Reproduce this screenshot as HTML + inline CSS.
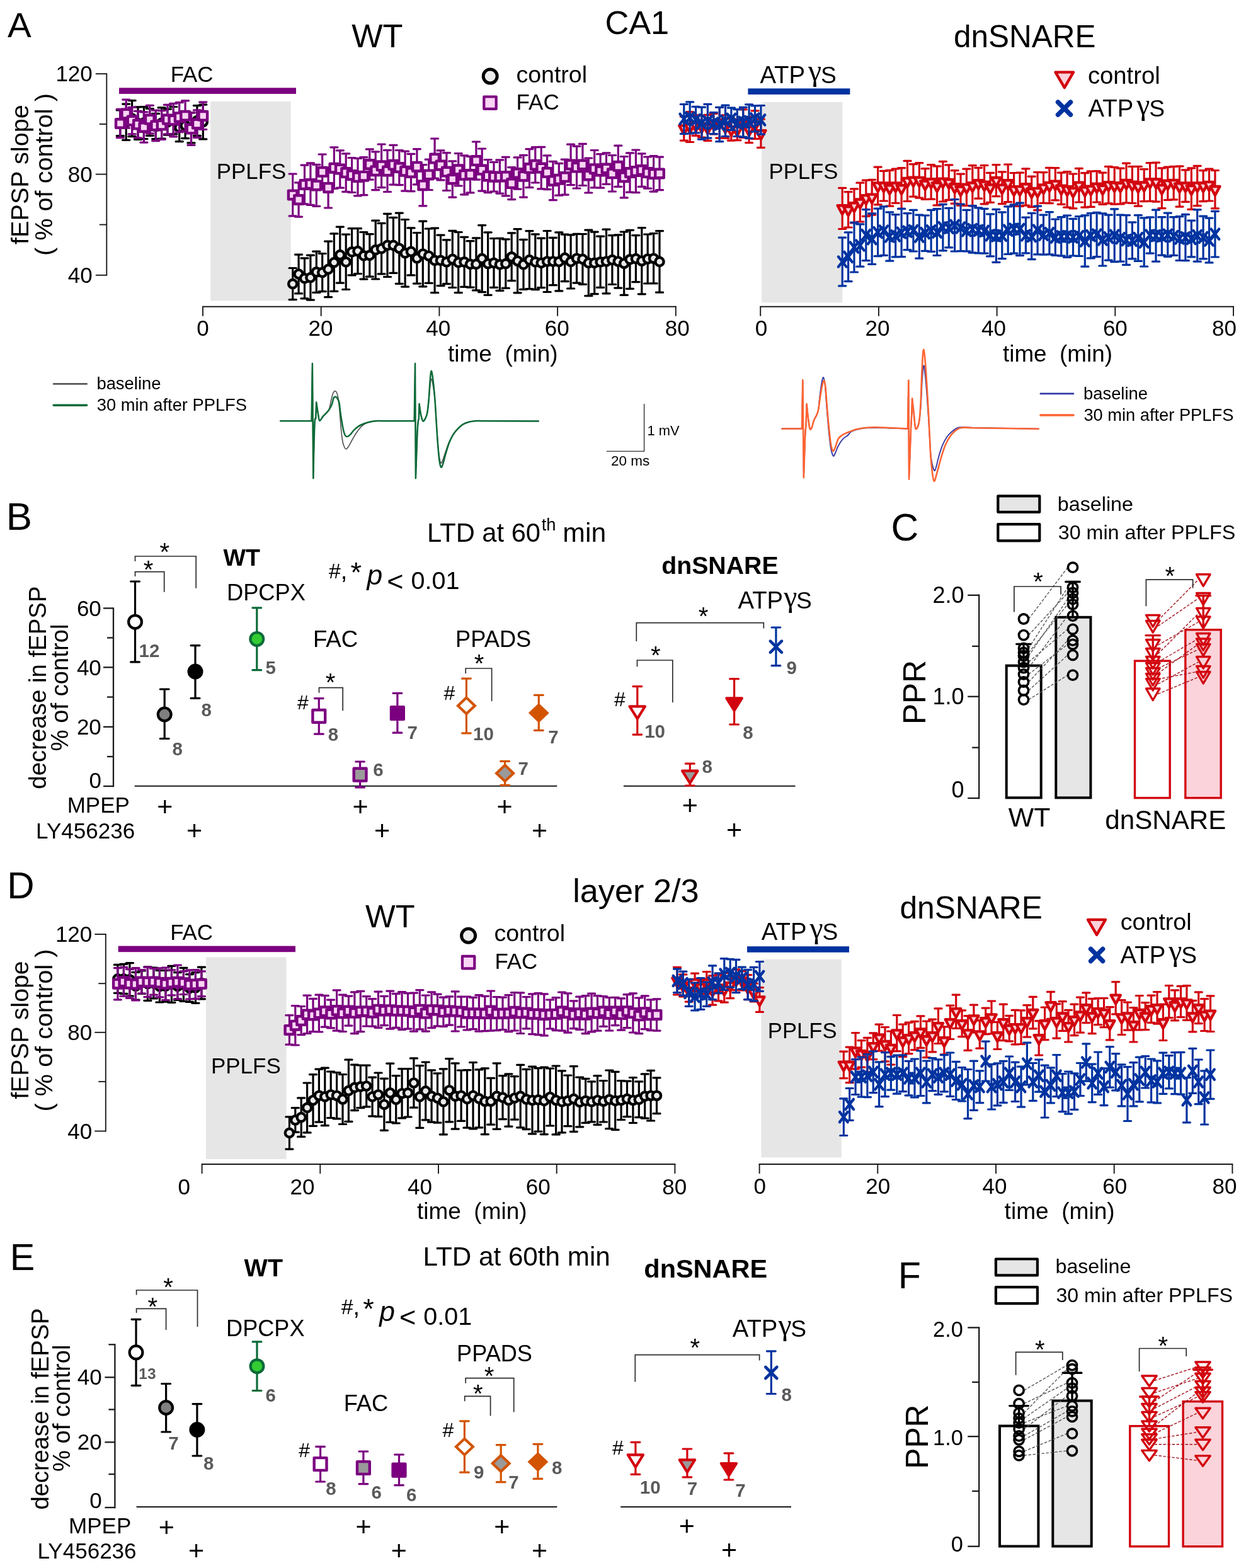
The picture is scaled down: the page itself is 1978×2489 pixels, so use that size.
<!DOCTYPE html>
<html lang="en">
<head>
<meta charset="utf-8">
<title>PPLFS-induced LTD in CA1 and layer 2/3</title>
<style>
html,body{margin:0;padding:0;background:#fff;}
body{width:1978px;height:2489px;overflow:hidden;font-family:"Liberation Sans",sans-serif;}
svg{display:block;}
</style>
</head>
<body>
<svg width="1978" height="2489" viewBox="0 0 1978 2489" font-family='"Liberation Sans", sans-serif'>
<rect width="1978" height="2489" fill="#fff"/>
<rect x="334.2" y="161.0" width="127.6" height="316.5" fill="#e6e6e6" stroke="none" stroke-width="0" />
<rect x="189.0" y="139.4" width="281.0" height="9.6" fill="#7b0080" stroke="none" stroke-width="0" />
<line x1="169.3" y1="116.2" x2="169.3" y2="437.8" stroke="#1a1a1a" stroke-width="1.9" stroke-linecap="butt" />
<line x1="151.8" y1="117.2" x2="169.3" y2="117.2" stroke="#1a1a1a" stroke-width="1.9" stroke-linecap="butt" />
<line x1="157.8" y1="197.0" x2="169.3" y2="197.0" stroke="#1a1a1a" stroke-width="1.9" stroke-linecap="butt" />
<line x1="151.8" y1="276.6" x2="169.3" y2="276.6" stroke="#1a1a1a" stroke-width="1.9" stroke-linecap="butt" />
<line x1="157.8" y1="356.6" x2="169.3" y2="356.6" stroke="#1a1a1a" stroke-width="1.9" stroke-linecap="butt" />
<line x1="151.8" y1="436.8" x2="169.3" y2="436.8" stroke="#1a1a1a" stroke-width="1.9" stroke-linecap="butt" />
<line x1="321.1" y1="486.8" x2="1073.8" y2="486.8" stroke="#1a1a1a" stroke-width="1.9" stroke-linecap="butt" />
<line x1="322.0" y1="486.8" x2="322.0" y2="501.8" stroke="#1a1a1a" stroke-width="1.9" stroke-linecap="butt" />
<line x1="509.7" y1="486.8" x2="509.7" y2="501.8" stroke="#1a1a1a" stroke-width="1.9" stroke-linecap="butt" />
<line x1="697.4" y1="486.8" x2="697.4" y2="501.8" stroke="#1a1a1a" stroke-width="1.9" stroke-linecap="butt" />
<line x1="885.1" y1="486.8" x2="885.1" y2="501.8" stroke="#1a1a1a" stroke-width="1.9" stroke-linecap="butt" />
<line x1="1072.8" y1="486.8" x2="1072.8" y2="501.8" stroke="#1a1a1a" stroke-width="1.9" stroke-linecap="butt" />
<path d="M190.8,175.0V215.7M185.2,175.0h11.2M185.2,215.7h11.2M200.2,165.1V222.4M194.6,165.1h11.2M194.6,222.4h11.2M209.6,159.6V216.6M204.0,159.6h11.2M204.0,216.6h11.2M219.0,169.8V221.3M213.4,169.8h11.2M213.4,221.3h11.2M228.4,169.6V220.5M222.8,169.6h11.2M222.8,220.5h11.2M237.8,172.5V215.3M232.2,172.5h11.2M232.2,215.3h11.2M247.2,180.4V220.6M241.6,180.4h11.2M241.6,220.6h11.2M256.6,170.8V220.1M251.0,170.8h11.2M251.0,220.1h11.2M265.9,173.1V214.2M260.3,173.1h11.2M260.3,214.2h11.2M275.3,169.5V212.9M269.7,169.5h11.2M269.7,212.9h11.2M284.7,180.4V224.7M279.1,180.4h11.2M279.1,224.7h11.2M294.1,179.1V219.6M288.5,179.1h11.2M288.5,219.6h11.2M303.5,178.8V226.9M297.9,178.8h11.2M297.9,226.9h11.2M312.9,167.6V215.4M307.3,167.6h11.2M307.3,215.4h11.2M322.3,166.1V220.9M316.7,166.1h11.2M316.7,220.9h11.2" stroke="#000" stroke-width="3.2" stroke-linecap="round" fill="none"/>
<g fill="#e9eaec" stroke="#000" stroke-width="4.4" stroke-linejoin="round" stroke-linecap="round"><circle cx="190.8" cy="195.4" r="6.6"/><circle cx="200.2" cy="193.8" r="6.6"/><circle cx="209.6" cy="188.1" r="6.6"/><circle cx="219.0" cy="195.6" r="6.6"/><circle cx="228.4" cy="195.0" r="6.6"/><circle cx="237.8" cy="193.9" r="6.6"/><circle cx="247.2" cy="200.5" r="6.6"/><circle cx="256.6" cy="195.4" r="6.6"/><circle cx="265.9" cy="193.7" r="6.6"/><circle cx="275.3" cy="191.2" r="6.6"/><circle cx="284.7" cy="202.5" r="6.6"/><circle cx="294.1" cy="199.3" r="6.6"/><circle cx="303.5" cy="202.9" r="6.6"/><circle cx="312.9" cy="191.5" r="6.6"/><circle cx="322.3" cy="193.5" r="6.6"/></g>
<path d="M464.7,425.5V475.7M459.1,425.5h11.2M459.1,475.7h11.2M474.1,404.1V465.9M468.5,404.1h11.2M468.5,465.9h11.2M483.5,409.8V473.8M477.9,409.8h11.2M477.9,473.8h11.2M492.9,405.1V476.1M487.3,405.1h11.2M487.3,476.1h11.2M502.3,399.2V464.4M496.7,399.2h11.2M496.7,464.4h11.2M511.7,402.5V462.7M506.1,402.5h11.2M506.1,462.7h11.2M521.1,383.1V471.7M515.5,383.1h11.2M515.5,471.7h11.2M530.4,370.9V462.3M524.8,370.9h11.2M524.8,462.3h11.2M539.8,360.1V449.1M534.2,360.1h11.2M534.2,449.1h11.2M549.2,372.1V459.5M543.6,372.1h11.2M543.6,459.5h11.2M558.6,362.7V436.9M553.0,362.7h11.2M553.0,436.9h11.2M568.0,362.7V434.5M562.4,362.7h11.2M562.4,434.5h11.2M577.4,368.5V443.1M571.8,368.5h11.2M571.8,443.1h11.2M586.8,371.6V439.2M581.2,371.6h11.2M581.2,439.2h11.2M596.2,350.2V443.0M590.6,350.2h11.2M590.6,443.0h11.2M605.6,354.4V434.8M600.0,354.4h11.2M600.0,434.8h11.2M615.0,339.3V439.5M609.4,339.3h11.2M609.4,439.5h11.2M624.4,345.4V433.4M618.8,345.4h11.2M618.8,433.4h11.2M633.8,338.1V450.3M628.2,338.1h11.2M628.2,450.3h11.2M643.1,348.5V455.1M637.5,348.5h11.2M637.5,455.1h11.2M652.5,361.9V436.9M646.9,361.9h11.2M646.9,436.9h11.2M661.9,369.5V450.1M656.3,369.5h11.2M656.3,450.1h11.2M671.3,351.2V454.8M665.7,351.2h11.2M665.7,454.8h11.2M680.7,363.0V449.4M675.1,363.0h11.2M675.1,449.4h11.2M690.1,362.1V464.7M684.5,362.1h11.2M684.5,464.7h11.2M699.5,373.2V453.6M693.9,373.2h11.2M693.9,453.6h11.2M708.9,380.9V450.7M703.3,380.9h11.2M703.3,450.7h11.2M718.3,366.3V456.5M712.7,366.3h11.2M712.7,456.5h11.2M727.7,368.5V464.7M722.1,368.5h11.2M722.1,464.7h11.2M737.1,376.3V455.3M731.5,376.3h11.2M731.5,455.3h11.2M746.5,382.7V456.1M740.9,382.7h11.2M740.9,456.1h11.2M755.9,377.9V460.9M750.3,377.9h11.2M750.3,460.9h11.2M765.2,357.6V463.6M759.6,357.6h11.2M759.6,463.6h11.2M774.6,368.9V468.3M769.0,368.9h11.2M769.0,468.3h11.2M784.0,378.5V456.3M778.4,378.5h11.2M778.4,456.3h11.2M793.4,378.3V461.3M787.8,378.3h11.2M787.8,461.3h11.2M802.8,379.8V457.4M797.2,379.8h11.2M797.2,457.4h11.2M812.2,369.9V445.7M806.6,369.9h11.2M806.6,445.7h11.2M821.6,363.6V464.8M816.0,363.6h11.2M816.0,464.8h11.2M831.0,380.3V459.3M825.4,380.3h11.2M825.4,459.3h11.2M840.4,366.6V458.6M834.8,366.6h11.2M834.8,458.6h11.2M849.8,371.9V459.7M844.2,371.9h11.2M844.2,459.7h11.2M859.2,378.2V456.6M853.6,378.2h11.2M853.6,456.6h11.2M868.6,366.5V463.5M863.0,366.5h11.2M863.0,463.5h11.2M877.9,377.3V452.7M872.3,377.3h11.2M872.3,452.7h11.2M887.3,368.9V461.9M881.7,368.9h11.2M881.7,461.9h11.2M896.7,372.1V446.7M891.1,372.1h11.2M891.1,446.7h11.2M906.1,372.8V458.0M900.5,372.8h11.2M900.5,458.0h11.2M915.5,371.3V449.1M909.9,371.3h11.2M909.9,449.1h11.2M924.9,371.5V451.3M919.3,371.5h11.2M919.3,451.3h11.2M934.3,365.1V469.7M928.7,365.1h11.2M928.7,469.7h11.2M943.7,368.1V466.7M938.1,368.1h11.2M938.1,466.7h11.2M953.1,375.2V456.4M947.5,375.2h11.2M947.5,456.4h11.2M962.5,364.2V465.8M956.9,364.2h11.2M956.9,465.8h11.2M971.9,373.7V451.5M966.3,373.7h11.2M966.3,451.5h11.2M981.3,372.9V457.1M975.7,372.9h11.2M975.7,457.1h11.2M990.7,368.0V468.4M985.1,368.0h11.2M985.1,468.4h11.2M1000.0,365.3V458.3M994.4,365.3h11.2M994.4,458.3h11.2M1009.4,373.6V447.6M1003.8,373.6h11.2M1003.8,447.6h11.2M1018.8,361.6V466.8M1013.2,361.6h11.2M1013.2,466.8h11.2M1028.2,372.0V450.0M1022.6,372.0h11.2M1022.6,450.0h11.2M1037.6,370.5V449.9M1032.0,370.5h11.2M1032.0,449.9h11.2M1047.0,366.6V464.2M1041.4,366.6h11.2M1041.4,464.2h11.2" stroke="#000" stroke-width="3.2" stroke-linecap="round" fill="none"/>
<g fill="#e9eaec" stroke="#000" stroke-width="4.4" stroke-linejoin="round" stroke-linecap="round"><circle cx="464.7" cy="450.6" r="6.6"/><circle cx="474.1" cy="435.0" r="6.6"/><circle cx="483.5" cy="441.8" r="6.6"/><circle cx="492.9" cy="440.6" r="6.6"/><circle cx="502.3" cy="431.8" r="6.6"/><circle cx="511.7" cy="432.6" r="6.6"/><circle cx="521.1" cy="427.4" r="6.6"/><circle cx="530.4" cy="416.6" r="6.6"/><circle cx="539.8" cy="404.6" r="6.6"/><circle cx="549.2" cy="415.8" r="6.6"/><circle cx="558.6" cy="399.8" r="6.6"/><circle cx="568.0" cy="398.6" r="6.6"/><circle cx="577.4" cy="405.8" r="6.6"/><circle cx="586.8" cy="405.4" r="6.6"/><circle cx="596.2" cy="396.6" r="6.6"/><circle cx="605.6" cy="394.6" r="6.6"/><circle cx="615.0" cy="389.4" r="6.6"/><circle cx="624.4" cy="389.4" r="6.6"/><circle cx="633.8" cy="394.2" r="6.6"/><circle cx="643.1" cy="401.8" r="6.6"/><circle cx="652.5" cy="399.4" r="6.6"/><circle cx="661.9" cy="409.8" r="6.6"/><circle cx="671.3" cy="403.0" r="6.6"/><circle cx="680.7" cy="406.2" r="6.6"/><circle cx="690.1" cy="413.4" r="6.6"/><circle cx="699.5" cy="413.4" r="6.6"/><circle cx="708.9" cy="415.8" r="6.6"/><circle cx="718.3" cy="411.4" r="6.6"/><circle cx="727.7" cy="416.6" r="6.6"/><circle cx="737.1" cy="415.8" r="6.6"/><circle cx="746.5" cy="419.4" r="6.6"/><circle cx="755.9" cy="419.4" r="6.6"/><circle cx="765.2" cy="410.6" r="6.6"/><circle cx="774.6" cy="418.6" r="6.6"/><circle cx="784.0" cy="417.4" r="6.6"/><circle cx="793.4" cy="419.8" r="6.6"/><circle cx="802.8" cy="418.6" r="6.6"/><circle cx="812.2" cy="407.8" r="6.6"/><circle cx="821.6" cy="414.2" r="6.6"/><circle cx="831.0" cy="419.8" r="6.6"/><circle cx="840.4" cy="412.6" r="6.6"/><circle cx="849.8" cy="415.8" r="6.6"/><circle cx="859.2" cy="417.4" r="6.6"/><circle cx="868.6" cy="415.0" r="6.6"/><circle cx="877.9" cy="415.0" r="6.6"/><circle cx="887.3" cy="415.4" r="6.6"/><circle cx="896.7" cy="409.4" r="6.6"/><circle cx="906.1" cy="415.4" r="6.6"/><circle cx="915.5" cy="410.2" r="6.6"/><circle cx="924.9" cy="411.4" r="6.6"/><circle cx="934.3" cy="417.4" r="6.6"/><circle cx="943.7" cy="417.4" r="6.6"/><circle cx="953.1" cy="415.8" r="6.6"/><circle cx="962.5" cy="415.0" r="6.6"/><circle cx="971.9" cy="412.6" r="6.6"/><circle cx="981.3" cy="415.0" r="6.6"/><circle cx="990.7" cy="418.2" r="6.6"/><circle cx="1000.0" cy="411.8" r="6.6"/><circle cx="1009.4" cy="410.6" r="6.6"/><circle cx="1018.8" cy="414.2" r="6.6"/><circle cx="1028.2" cy="411.0" r="6.6"/><circle cx="1037.6" cy="410.2" r="6.6"/><circle cx="1047.0" cy="415.4" r="6.6"/></g>
<path d="M190.8,173.4V218.6M185.2,173.4h11.2M185.2,218.6h11.2M200.2,158.1V203.1M194.6,158.1h11.2M194.6,203.1h11.2M209.6,170.4V212.8M204.0,170.4h11.2M204.0,212.8h11.2M219.0,176.3V218.9M213.4,176.3h11.2M213.4,218.9h11.2M228.4,177.9V226.1M222.8,177.9h11.2M222.8,226.1h11.2M237.8,167.4V211.8M232.2,167.4h11.2M232.2,211.8h11.2M247.2,175.2V223.6M241.6,175.2h11.2M241.6,223.6h11.2M256.6,175.7V221.5M251.0,175.7h11.2M251.0,221.5h11.2M265.9,166.3V212.9M260.3,166.3h11.2M260.3,212.9h11.2M275.3,164.4V216.8M269.7,164.4h11.2M269.7,216.8h11.2M284.7,162.7V209.7M279.1,162.7h11.2M279.1,209.7h11.2M294.1,159.8V207.8M288.5,159.8h11.2M288.5,207.8h11.2M303.5,178.9V230.3M297.9,178.9h11.2M297.9,230.3h11.2M312.9,174.8V218.4M307.3,174.8h11.2M307.3,218.4h11.2M322.3,162.1V205.5M316.7,162.1h11.2M316.7,205.5h11.2" stroke="#7b0080" stroke-width="3.2" stroke-linecap="round" fill="none"/>
<g fill="#fad4f4" stroke="#7b0080" stroke-width="4.4" stroke-linejoin="round" stroke-linecap="round"><rect x="184.0" y="189.2" width="13.6" height="13.6"/><rect x="193.4" y="173.8" width="13.6" height="13.6"/><rect x="202.8" y="184.8" width="13.6" height="13.6"/><rect x="212.2" y="190.8" width="13.6" height="13.6"/><rect x="221.6" y="195.2" width="13.6" height="13.6"/><rect x="231.0" y="182.8" width="13.6" height="13.6"/><rect x="240.4" y="192.6" width="13.6" height="13.6"/><rect x="249.8" y="191.8" width="13.6" height="13.6"/><rect x="259.1" y="182.8" width="13.6" height="13.6"/><rect x="268.5" y="183.8" width="13.6" height="13.6"/><rect x="277.9" y="179.4" width="13.6" height="13.6"/><rect x="287.3" y="177.0" width="13.6" height="13.6"/><rect x="296.7" y="197.8" width="13.6" height="13.6"/><rect x="306.1" y="189.8" width="13.6" height="13.6"/><rect x="315.5" y="177.0" width="13.6" height="13.6"/></g>
<path d="M464.7,276.0V342.9M459.1,276.0h11.2M459.1,342.9h11.2M474.1,289.9V344.1M468.5,289.9h11.2M468.5,344.1h11.2M483.5,262.1V323.9M477.9,262.1h11.2M477.9,323.9h11.2M492.9,258.8V325.3M487.3,258.8h11.2M487.3,325.3h11.2M502.3,261.4V327.3M496.7,261.4h11.2M496.7,327.3h11.2M511.7,245.0V300.7M506.1,245.0h11.2M506.1,300.7h11.2M521.1,265.9V330.0M515.5,265.9h11.2M515.5,330.0h11.2M530.4,233.8V299.5M524.8,233.8h11.2M524.8,299.5h11.2M539.8,238.9V298.2M534.2,238.9h11.2M534.2,298.2h11.2M549.2,243.9V304.3M543.6,243.9h11.2M543.6,304.3h11.2M558.6,250.5V305.5M553.0,250.5h11.2M553.0,305.5h11.2M568.0,251.3V310.8M562.4,251.3h11.2M562.4,310.8h11.2M577.4,249.7V309.7M571.8,249.7h11.2M571.8,309.7h11.2M586.8,236.9V285.1M581.2,236.9h11.2M581.2,285.1h11.2M596.2,240.8V301.6M590.6,240.8h11.2M590.6,301.6h11.2M605.6,229.0V297.6M600.0,229.0h11.2M600.0,297.6h11.2M615.0,238.4V304.5M609.4,238.4h11.2M609.4,304.5h11.2M624.4,230.4V293.1M618.8,230.4h11.2M618.8,293.1h11.2M633.8,238.5V293.6M628.2,238.5h11.2M628.2,293.6h11.2M643.1,240.2V303.1M637.5,240.2h11.2M637.5,303.1h11.2M652.5,244.3V303.7M646.9,244.3h11.2M646.9,303.7h11.2M661.9,236.6V292.9M656.3,236.6h11.2M656.3,292.9h11.2M671.3,261.6V326.8M665.7,261.6h11.2M665.7,326.8h11.2M680.7,253.2V301.5M675.1,253.2h11.2M675.1,301.5h11.2M690.1,220.0V283.2M684.5,220.0h11.2M684.5,283.2h11.2M699.5,238.9V285.9M693.9,238.9h11.2M693.9,285.9h11.2M708.9,242.7V302.5M703.3,242.7h11.2M703.3,302.5h11.2M718.3,255.9V313.1M712.7,255.9h11.2M712.7,313.1h11.2M727.7,243.5V295.0M722.1,243.5h11.2M722.1,295.0h11.2M737.1,246.8V308.8M731.5,246.8h11.2M731.5,308.8h11.2M746.5,248.3V305.9M740.9,248.3h11.2M740.9,305.9h11.2M755.9,225.0V285.1M750.3,225.0h11.2M750.3,285.1h11.2M765.2,236.0V303.1M759.6,236.0h11.2M759.6,303.1h11.2M774.6,253.5V305.6M769.0,253.5h11.2M769.0,305.6h11.2M784.0,257.4V304.0M778.4,257.4h11.2M778.4,304.0h11.2M793.4,253.9V307.1M787.8,253.9h11.2M787.8,307.1h11.2M802.8,249.3V310.9M797.2,249.3h11.2M797.2,310.9h11.2M812.2,265.6V316.6M806.6,265.6h11.2M806.6,316.6h11.2M821.6,249.9V300.1M816.0,249.9h11.2M816.0,300.1h11.2M831.0,246.4V313.1M825.4,246.4h11.2M825.4,313.1h11.2M840.4,236.6V297.7M834.8,236.6h11.2M834.8,297.7h11.2M849.8,233.7V290.0M844.2,233.7h11.2M844.2,290.0h11.2M859.2,233.4V299.8M853.6,233.4h11.2M853.6,299.8h11.2M868.6,246.9V300.6M863.0,246.9h11.2M863.0,300.6h11.2M877.9,256.3V317.6M872.3,256.3h11.2M872.3,317.6h11.2M887.3,259.4V310.2M881.7,259.4h11.2M881.7,310.2h11.2M896.7,253.1V309.1M891.1,253.1h11.2M891.1,309.1h11.2M906.1,229.2V293.6M900.5,229.2h11.2M900.5,293.6h11.2M915.5,232.1V299.0M909.9,232.1h11.2M909.9,299.0h11.2M924.9,228.4V294.5M919.3,228.4h11.2M919.3,294.5h11.2M934.3,251.0V306.0M928.7,251.0h11.2M928.7,306.0h11.2M943.7,238.5V297.9M938.1,238.5h11.2M938.1,297.9h11.2M953.1,244.7V298.2M947.5,244.7h11.2M947.5,298.2h11.2M962.5,242.8V292.3M956.9,242.8h11.2M956.9,292.3h11.2M971.9,246.5V304.0M966.3,246.5h11.2M966.3,304.0h11.2M981.3,231.2V296.4M975.7,231.2h11.2M975.7,296.4h11.2M990.7,248.5V313.9M985.1,248.5h11.2M985.1,313.9h11.2M1000.0,242.9V305.2M994.4,242.9h11.2M994.4,305.2h11.2M1009.4,238.0V305.7M1003.8,238.0h11.2M1003.8,305.7h11.2M1018.8,243.8V296.4M1013.2,243.8h11.2M1013.2,296.4h11.2M1028.2,249.0V299.2M1022.6,249.0h11.2M1022.6,299.2h11.2M1037.6,247.6V304.1M1032.0,247.6h11.2M1032.0,304.1h11.2M1047.0,249.2V301.7M1041.4,249.2h11.2M1041.4,301.7h11.2" stroke="#7b0080" stroke-width="3.2" stroke-linecap="round" fill="none"/>
<g fill="#fad4f4" stroke="#7b0080" stroke-width="4.4" stroke-linejoin="round" stroke-linecap="round"><rect x="457.9" y="302.6" width="13.6" height="13.6"/><rect x="467.3" y="310.2" width="13.6" height="13.6"/><rect x="476.7" y="286.2" width="13.6" height="13.6"/><rect x="486.1" y="285.3" width="13.6" height="13.6"/><rect x="495.5" y="287.6" width="13.6" height="13.6"/><rect x="504.9" y="266.0" width="13.6" height="13.6"/><rect x="514.3" y="291.1" width="13.6" height="13.6"/><rect x="523.6" y="259.9" width="13.6" height="13.6"/><rect x="533.0" y="261.7" width="13.6" height="13.6"/><rect x="542.4" y="267.3" width="13.6" height="13.6"/><rect x="551.8" y="271.2" width="13.6" height="13.6"/><rect x="561.2" y="274.3" width="13.6" height="13.6"/><rect x="570.6" y="272.9" width="13.6" height="13.6"/><rect x="580.0" y="254.2" width="13.6" height="13.6"/><rect x="589.4" y="264.4" width="13.6" height="13.6"/><rect x="598.8" y="256.5" width="13.6" height="13.6"/><rect x="608.2" y="264.6" width="13.6" height="13.6"/><rect x="617.6" y="255.0" width="13.6" height="13.6"/><rect x="627.0" y="259.2" width="13.6" height="13.6"/><rect x="636.3" y="264.9" width="13.6" height="13.6"/><rect x="645.7" y="267.2" width="13.6" height="13.6"/><rect x="655.1" y="257.9" width="13.6" height="13.6"/><rect x="664.5" y="287.4" width="13.6" height="13.6"/><rect x="673.9" y="270.6" width="13.6" height="13.6"/><rect x="683.3" y="244.8" width="13.6" height="13.6"/><rect x="692.7" y="255.6" width="13.6" height="13.6"/><rect x="702.1" y="265.8" width="13.6" height="13.6"/><rect x="711.5" y="277.7" width="13.6" height="13.6"/><rect x="720.9" y="262.5" width="13.6" height="13.6"/><rect x="730.3" y="271.0" width="13.6" height="13.6"/><rect x="739.7" y="270.3" width="13.6" height="13.6"/><rect x="749.1" y="248.3" width="13.6" height="13.6"/><rect x="758.4" y="262.8" width="13.6" height="13.6"/><rect x="767.8" y="272.7" width="13.6" height="13.6"/><rect x="777.2" y="273.9" width="13.6" height="13.6"/><rect x="786.6" y="273.7" width="13.6" height="13.6"/><rect x="796.0" y="273.3" width="13.6" height="13.6"/><rect x="805.4" y="284.3" width="13.6" height="13.6"/><rect x="814.8" y="268.2" width="13.6" height="13.6"/><rect x="824.2" y="272.9" width="13.6" height="13.6"/><rect x="833.6" y="260.3" width="13.6" height="13.6"/><rect x="843.0" y="255.0" width="13.6" height="13.6"/><rect x="852.4" y="259.8" width="13.6" height="13.6"/><rect x="861.8" y="267.0" width="13.6" height="13.6"/><rect x="871.1" y="280.1" width="13.6" height="13.6"/><rect x="880.5" y="278.0" width="13.6" height="13.6"/><rect x="889.9" y="274.3" width="13.6" height="13.6"/><rect x="899.3" y="254.6" width="13.6" height="13.6"/><rect x="908.7" y="258.8" width="13.6" height="13.6"/><rect x="918.1" y="254.7" width="13.6" height="13.6"/><rect x="927.5" y="271.7" width="13.6" height="13.6"/><rect x="936.9" y="261.4" width="13.6" height="13.6"/><rect x="946.3" y="264.6" width="13.6" height="13.6"/><rect x="955.7" y="260.7" width="13.6" height="13.6"/><rect x="965.1" y="268.5" width="13.6" height="13.6"/><rect x="974.5" y="257.0" width="13.6" height="13.6"/><rect x="983.9" y="274.4" width="13.6" height="13.6"/><rect x="993.2" y="267.3" width="13.6" height="13.6"/><rect x="1002.6" y="265.1" width="13.6" height="13.6"/><rect x="1012.0" y="263.3" width="13.6" height="13.6"/><rect x="1021.4" y="267.3" width="13.6" height="13.6"/><rect x="1030.8" y="269.1" width="13.6" height="13.6"/><rect x="1040.2" y="268.6" width="13.6" height="13.6"/></g>
<rect x="1209.3" y="162.0" width="128.1" height="318.4" fill="#e6e6e6" stroke="none" stroke-width="0" />
<rect x="1187.4" y="140.4" width="162.0" height="9.6" fill="#0033a0" stroke="none" stroke-width="0" />
<line x1="1206.2" y1="486.8" x2="1959.0" y2="486.8" stroke="#1a1a1a" stroke-width="1.9" stroke-linecap="butt" />
<line x1="1207.2" y1="486.8" x2="1207.2" y2="501.8" stroke="#1a1a1a" stroke-width="1.9" stroke-linecap="butt" />
<line x1="1394.9" y1="486.8" x2="1394.9" y2="501.8" stroke="#1a1a1a" stroke-width="1.9" stroke-linecap="butt" />
<line x1="1582.6" y1="486.8" x2="1582.6" y2="501.8" stroke="#1a1a1a" stroke-width="1.9" stroke-linecap="butt" />
<line x1="1770.3" y1="486.8" x2="1770.3" y2="501.8" stroke="#1a1a1a" stroke-width="1.9" stroke-linecap="butt" />
<line x1="1958.0" y1="486.8" x2="1958.0" y2="501.8" stroke="#1a1a1a" stroke-width="1.9" stroke-linecap="butt" />
<path d="M1085.8,184.9V223.1M1080.2,184.9h11.2M1080.2,223.1h11.2M1095.2,177.7V225.5M1089.6,177.7h11.2M1089.6,225.5h11.2M1104.6,182.9V215.3M1099.0,182.9h11.2M1099.0,215.3h11.2M1114.0,183.3V218.0M1108.4,183.3h11.2M1108.4,218.0h11.2M1123.4,182.3V223.4M1117.8,182.3h11.2M1117.8,223.4h11.2M1132.8,180.3V212.8M1127.2,180.3h11.2M1127.2,212.8h11.2M1142.2,170.5V219.1M1136.6,170.5h11.2M1136.6,219.1h11.2M1151.5,182.8V219.5M1145.9,182.8h11.2M1145.9,219.5h11.2M1160.9,188.3V223.1M1155.3,188.3h11.2M1155.3,223.1h11.2M1170.3,189.8V222.7M1164.7,189.8h11.2M1164.7,222.7h11.2M1179.7,173.8V218.4M1174.1,173.8h11.2M1174.1,218.4h11.2M1189.1,185.6V226.6M1183.5,185.6h11.2M1183.5,226.6h11.2M1198.5,175.8V220.4M1192.9,175.8h11.2M1192.9,220.4h11.2M1207.9,189.2V234.3M1202.3,189.2h11.2M1202.3,234.3h11.2" stroke="#d2050f" stroke-width="3.2" stroke-linecap="round" fill="none"/>
<g fill="#fbd3da" stroke="#d2050f" stroke-width="4.4" stroke-linejoin="round" stroke-linecap="round"><path d="M1078.2,199.4h15.2l-7.6,13.9z"/><path d="M1087.6,197.0h15.2l-7.6,13.9z"/><path d="M1097.0,194.5h15.2l-7.6,13.9z"/><path d="M1106.4,196.1h15.2l-7.6,13.9z"/><path d="M1115.8,198.2h15.2l-7.6,13.9z"/><path d="M1125.2,191.9h15.2l-7.6,13.9z"/><path d="M1134.6,190.2h15.2l-7.6,13.9z"/><path d="M1143.9,196.6h15.2l-7.6,13.9z"/><path d="M1153.3,201.1h15.2l-7.6,13.9z"/><path d="M1162.7,201.6h15.2l-7.6,13.9z"/><path d="M1172.1,191.5h15.2l-7.6,13.9z"/><path d="M1181.5,201.5h15.2l-7.6,13.9z"/><path d="M1190.9,193.5h15.2l-7.6,13.9z"/><path d="M1200.3,207.2h15.2l-7.6,13.9z"/></g>
<path d="M1337.2,298.4V363.5M1331.6,298.4h11.2M1331.6,363.5h11.2M1346.6,304.6V361.0M1341.0,304.6h11.2M1341.0,361.0h11.2M1356.0,299.9V354.0M1350.4,299.9h11.2M1350.4,354.0h11.2M1365.4,290.2V352.0M1359.8,290.2h11.2M1359.8,352.0h11.2M1374.8,286.1V343.3M1369.2,286.1h11.2M1369.2,343.3h11.2M1384.2,285.3V341.1M1378.6,285.3h11.2M1378.6,341.1h11.2M1393.6,265.1V324.8M1388.0,265.1h11.2M1388.0,324.8h11.2M1402.9,271.3V319.0M1397.3,271.3h11.2M1397.3,319.0h11.2M1412.3,270.4V327.2M1406.7,270.4h11.2M1406.7,327.2h11.2M1421.7,268.0V322.3M1416.1,268.0h11.2M1416.1,322.3h11.2M1431.1,266.6V331.3M1425.5,266.6h11.2M1425.5,331.3h11.2M1440.5,255.4V319.5M1434.9,255.4h11.2M1434.9,319.5h11.2M1449.9,260.7V312.2M1444.3,260.7h11.2M1444.3,312.2h11.2M1459.3,258.7V314.2M1453.7,258.7h11.2M1453.7,314.2h11.2M1468.7,267.7V316.5M1463.1,267.7h11.2M1463.1,316.5h11.2M1478.1,261.5V316.2M1472.5,261.5h11.2M1472.5,316.2h11.2M1487.5,263.9V325.9M1481.9,263.9h11.2M1481.9,325.9h11.2M1496.9,256.3V320.0M1491.3,256.3h11.2M1491.3,320.0h11.2M1506.3,261.9V317.4M1500.7,261.9h11.2M1500.7,317.4h11.2M1515.6,270.7V323.2M1510.0,270.7h11.2M1510.0,323.2h11.2M1525.0,276.1V326.2M1519.4,276.1h11.2M1519.4,326.2h11.2M1534.4,268.2V326.5M1528.8,268.2h11.2M1528.8,326.5h11.2M1543.8,262.7V326.8M1538.2,262.7h11.2M1538.2,326.8h11.2M1553.2,266.3V315.2M1547.6,266.3h11.2M1547.6,315.2h11.2M1562.6,262.5V323.8M1557.0,262.5h11.2M1557.0,323.8h11.2M1572.0,274.4V321.3M1566.4,274.4h11.2M1566.4,321.3h11.2M1581.4,261.6V311.7M1575.8,261.6h11.2M1575.8,311.7h11.2M1590.8,272.8V323.6M1585.2,272.8h11.2M1585.2,323.6h11.2M1600.2,261.0V320.6M1594.6,261.0h11.2M1594.6,320.6h11.2M1609.6,274.5V327.1M1604.0,274.5h11.2M1604.0,327.1h11.2M1619.0,274.1V327.3M1613.4,274.1h11.2M1613.4,327.3h11.2M1628.4,267.8V326.1M1622.8,267.8h11.2M1622.8,326.1h11.2M1637.7,280.2V328.6M1632.1,280.2h11.2M1632.1,328.6h11.2M1647.1,273.3V333.7M1641.5,273.3h11.2M1641.5,333.7h11.2M1656.5,273.6V322.4M1650.9,273.6h11.2M1650.9,322.4h11.2M1665.9,266.4V322.6M1660.3,266.4h11.2M1660.3,322.6h11.2M1675.3,266.6V317.9M1669.7,266.6h11.2M1669.7,317.9h11.2M1684.7,274.1V324.3M1679.1,274.1h11.2M1679.1,324.3h11.2M1694.1,272.6V329.2M1688.5,272.6h11.2M1688.5,329.2h11.2M1703.5,276.0V330.8M1697.9,276.0h11.2M1697.9,330.8h11.2M1712.9,267.4V321.0M1707.3,267.4h11.2M1707.3,321.0h11.2M1722.3,274.7V329.1M1716.7,274.7h11.2M1716.7,329.1h11.2M1731.7,271.9V328.4M1726.1,271.9h11.2M1726.1,328.4h11.2M1741.1,271.5V321.0M1735.5,271.5h11.2M1735.5,321.0h11.2M1750.4,274.1V324.4M1744.8,274.1h11.2M1744.8,324.4h11.2M1759.8,264.4V322.9M1754.2,264.4h11.2M1754.2,322.9h11.2M1769.2,265.5V324.2M1763.6,265.5h11.2M1763.6,324.2h11.2M1778.6,267.2V323.8M1773.0,267.2h11.2M1773.0,323.8h11.2M1788.0,259.2V322.0M1782.4,259.2h11.2M1782.4,322.0h11.2M1797.4,264.4V322.5M1791.8,264.4h11.2M1791.8,322.5h11.2M1806.8,264.4V327.2M1801.2,264.4h11.2M1801.2,327.2h11.2M1816.2,268.7V319.6M1810.6,268.7h11.2M1810.6,319.6h11.2M1825.6,258.7V319.3M1820.0,258.7h11.2M1820.0,319.3h11.2M1835.0,258.1V320.1M1829.4,258.1h11.2M1829.4,320.1h11.2M1844.4,266.9V330.6M1838.8,266.9h11.2M1838.8,330.6h11.2M1853.8,265.1V317.5M1848.2,265.1h11.2M1848.2,317.5h11.2M1863.2,264.4V316.8M1857.6,264.4h11.2M1857.6,316.8h11.2M1872.5,263.9V328.1M1866.9,263.9h11.2M1866.9,328.1h11.2M1881.9,269.8V320.4M1876.3,269.8h11.2M1876.3,320.4h11.2M1891.3,266.8V332.4M1885.7,266.8h11.2M1885.7,332.4h11.2M1900.7,263.3V326.7M1895.1,263.3h11.2M1895.1,326.7h11.2M1910.1,270.6V319.6M1904.5,270.6h11.2M1904.5,319.6h11.2M1919.5,268.0V319.0M1913.9,268.0h11.2M1913.9,319.0h11.2M1928.9,270.5V330.8M1923.3,270.5h11.2M1923.3,330.8h11.2" stroke="#d2050f" stroke-width="3.2" stroke-linecap="round" fill="none"/>
<g fill="#fbd3da" stroke="#d2050f" stroke-width="4.4" stroke-linejoin="round" stroke-linecap="round"><path d="M1329.6,326.3h15.2l-7.6,13.9z"/><path d="M1339.0,328.2h15.2l-7.6,13.9z"/><path d="M1348.4,322.3h15.2l-7.6,13.9z"/><path d="M1357.8,316.5h15.2l-7.6,13.9z"/><path d="M1367.2,310.1h15.2l-7.6,13.9z"/><path d="M1376.6,308.6h15.2l-7.6,13.9z"/><path d="M1386.0,290.4h15.2l-7.6,13.9z"/><path d="M1395.3,290.5h15.2l-7.6,13.9z"/><path d="M1404.7,294.2h15.2l-7.6,13.9z"/><path d="M1414.1,290.5h15.2l-7.6,13.9z"/><path d="M1423.5,294.3h15.2l-7.6,13.9z"/><path d="M1432.9,282.9h15.2l-7.6,13.9z"/><path d="M1442.3,281.8h15.2l-7.6,13.9z"/><path d="M1451.7,281.9h15.2l-7.6,13.9z"/><path d="M1461.1,287.5h15.2l-7.6,13.9z"/><path d="M1470.5,284.3h15.2l-7.6,13.9z"/><path d="M1479.9,290.3h15.2l-7.6,13.9z"/><path d="M1489.3,283.6h15.2l-7.6,13.9z"/><path d="M1498.7,285.0h15.2l-7.6,13.9z"/><path d="M1508.0,292.3h15.2l-7.6,13.9z"/><path d="M1517.4,296.5h15.2l-7.6,13.9z"/><path d="M1526.8,292.8h15.2l-7.6,13.9z"/><path d="M1536.2,290.2h15.2l-7.6,13.9z"/><path d="M1545.6,286.2h15.2l-7.6,13.9z"/><path d="M1555.0,288.6h15.2l-7.6,13.9z"/><path d="M1564.4,293.2h15.2l-7.6,13.9z"/><path d="M1573.8,282.0h15.2l-7.6,13.9z"/><path d="M1583.2,293.6h15.2l-7.6,13.9z"/><path d="M1592.6,286.2h15.2l-7.6,13.9z"/><path d="M1602.0,296.2h15.2l-7.6,13.9z"/><path d="M1611.4,296.1h15.2l-7.6,13.9z"/><path d="M1620.8,292.3h15.2l-7.6,13.9z"/><path d="M1630.1,299.8h15.2l-7.6,13.9z"/><path d="M1639.5,298.9h15.2l-7.6,13.9z"/><path d="M1648.9,293.4h15.2l-7.6,13.9z"/><path d="M1658.3,289.9h15.2l-7.6,13.9z"/><path d="M1667.7,287.6h15.2l-7.6,13.9z"/><path d="M1677.1,294.6h15.2l-7.6,13.9z"/><path d="M1686.5,296.3h15.2l-7.6,13.9z"/><path d="M1695.9,298.8h15.2l-7.6,13.9z"/><path d="M1705.3,289.6h15.2l-7.6,13.9z"/><path d="M1714.7,297.3h15.2l-7.6,13.9z"/><path d="M1724.1,295.6h15.2l-7.6,13.9z"/><path d="M1733.5,291.7h15.2l-7.6,13.9z"/><path d="M1742.8,294.7h15.2l-7.6,13.9z"/><path d="M1752.2,289.1h15.2l-7.6,13.9z"/><path d="M1761.6,290.2h15.2l-7.6,13.9z"/><path d="M1771.0,290.9h15.2l-7.6,13.9z"/><path d="M1780.4,286.0h15.2l-7.6,13.9z"/><path d="M1789.8,288.8h15.2l-7.6,13.9z"/><path d="M1799.2,291.2h15.2l-7.6,13.9z"/><path d="M1808.6,289.5h15.2l-7.6,13.9z"/><path d="M1818.0,284.4h15.2l-7.6,13.9z"/><path d="M1827.4,284.5h15.2l-7.6,13.9z"/><path d="M1836.8,294.1h15.2l-7.6,13.9z"/><path d="M1846.2,286.7h15.2l-7.6,13.9z"/><path d="M1855.6,286.0h15.2l-7.6,13.9z"/><path d="M1864.9,291.4h15.2l-7.6,13.9z"/><path d="M1874.3,290.5h15.2l-7.6,13.9z"/><path d="M1883.7,295.0h15.2l-7.6,13.9z"/><path d="M1893.1,290.4h15.2l-7.6,13.9z"/><path d="M1902.5,290.5h15.2l-7.6,13.9z"/><path d="M1911.9,288.9h15.2l-7.6,13.9z"/><path d="M1921.3,296.0h15.2l-7.6,13.9z"/></g>
<path d="M1085.8,165.5V212.3M1080.2,165.5h11.2M1080.2,212.3h11.2M1095.2,161.9V212.0M1089.6,161.9h11.2M1089.6,212.0h11.2M1104.6,169.4V210.8M1099.0,169.4h11.2M1099.0,210.8h11.2M1114.0,170.2V221.2M1108.4,170.2h11.2M1108.4,221.2h11.2M1123.4,165.4V219.2M1117.8,165.4h11.2M1117.8,219.2h11.2M1132.8,178.6V212.7M1127.2,178.6h11.2M1127.2,212.7h11.2M1142.2,170.4V224.7M1136.6,170.4h11.2M1136.6,224.7h11.2M1151.5,167.2V216.5M1145.9,167.2h11.2M1145.9,216.5h11.2M1160.9,171.2V206.4M1155.3,171.2h11.2M1155.3,206.4h11.2M1170.3,173.6V216.5M1164.7,173.6h11.2M1164.7,216.5h11.2M1179.7,170.3V217.3M1174.1,170.3h11.2M1174.1,217.3h11.2M1189.1,165.8V219.7M1183.5,165.8h11.2M1183.5,219.7h11.2M1198.5,167.9V208.9M1192.9,167.9h11.2M1192.9,208.9h11.2M1207.9,167.5V213.2M1202.3,167.5h11.2M1202.3,213.2h11.2" stroke="#0033a0" stroke-width="3.2" stroke-linecap="round" fill="none"/>
<g fill="none" stroke="#0033a0" stroke-width="4.4" stroke-linejoin="round" stroke-linecap="round"><path d="M1079.5,180.9l12.6,16m0,-16l-12.6,16"/><path d="M1088.9,178.9l12.6,16m0,-16l-12.6,16"/><path d="M1098.3,182.1l12.6,16m0,-16l-12.6,16"/><path d="M1107.7,187.7l12.6,16m0,-16l-12.6,16"/><path d="M1117.1,184.3l12.6,16m0,-16l-12.6,16"/><path d="M1126.5,187.7l12.6,16m0,-16l-12.6,16"/><path d="M1135.9,189.5l12.6,16m0,-16l-12.6,16"/><path d="M1145.2,183.9l12.6,16m0,-16l-12.6,16"/><path d="M1154.6,180.8l12.6,16m0,-16l-12.6,16"/><path d="M1164.0,187.1l12.6,16m0,-16l-12.6,16"/><path d="M1173.4,185.8l12.6,16m0,-16l-12.6,16"/><path d="M1182.8,184.8l12.6,16m0,-16l-12.6,16"/><path d="M1192.2,180.4l12.6,16m0,-16l-12.6,16"/><path d="M1201.6,182.4l12.6,16m0,-16l-12.6,16"/></g>
<path d="M1337.2,377.1V453.9M1331.6,377.1h11.2M1331.6,453.9h11.2M1346.6,368.9V446.7M1341.0,368.9h11.2M1341.0,446.7h11.2M1356.0,353.2V432.0M1350.4,353.2h11.2M1350.4,432.0h11.2M1365.4,355.9V423.2M1359.8,355.9h11.2M1359.8,423.2h11.2M1374.8,332.6V413.7M1369.2,332.6h11.2M1369.2,413.7h11.2M1384.2,338.8V419.4M1378.6,338.8h11.2M1378.6,419.4h11.2M1393.6,331.2V406.7M1388.0,331.2h11.2M1388.0,406.7h11.2M1402.9,327.8V405.3M1397.3,327.8h11.2M1397.3,405.3h11.2M1412.3,336.8V414.2M1406.7,336.8h11.2M1406.7,414.2h11.2M1421.7,340.6V407.9M1416.1,340.6h11.2M1416.1,407.9h11.2M1431.1,331.3V407.6M1425.5,331.3h11.2M1425.5,407.6h11.2M1440.5,338.7V396.7M1434.9,338.7h11.2M1434.9,396.7h11.2M1449.9,333.4V399.0M1444.3,333.4h11.2M1444.3,399.0h11.2M1459.3,341.1V410.2M1453.7,341.1h11.2M1453.7,410.2h11.2M1468.7,342.0V398.3M1463.1,342.0h11.2M1463.1,398.3h11.2M1478.1,333.3V399.3M1472.5,333.3h11.2M1472.5,399.3h11.2M1487.5,331.6V405.5M1481.9,331.6h11.2M1481.9,405.5h11.2M1496.9,324.3V397.8M1491.3,324.3h11.2M1491.3,397.8h11.2M1506.3,330.4V392.9M1500.7,330.4h11.2M1500.7,392.9h11.2M1515.6,316.5V399.0M1510.0,316.5h11.2M1510.0,399.0h11.2M1525.0,324.0V398.7M1519.4,324.0h11.2M1519.4,398.7h11.2M1534.4,333.4V398.9M1528.8,333.4h11.2M1528.8,398.9h11.2M1543.8,326.7V401.2M1538.2,326.7h11.2M1538.2,401.2h11.2M1553.2,329.9V401.9M1547.6,329.9h11.2M1547.6,401.9h11.2M1562.6,331.3V402.2M1557.0,331.3h11.2M1557.0,402.2h11.2M1572.0,339.9V406.8M1566.4,339.9h11.2M1566.4,406.8h11.2M1581.4,332.4V416.4M1575.8,332.4h11.2M1575.8,416.4h11.2M1590.8,336.8V410.7M1585.2,336.8h11.2M1585.2,410.7h11.2M1600.2,327.9V403.5M1594.6,327.9h11.2M1594.6,403.5h11.2M1609.6,324.9V402.2M1604.0,324.9h11.2M1604.0,402.2h11.2M1619.0,322.2V405.6M1613.4,322.2h11.2M1613.4,405.6h11.2M1628.4,345.1V401.8M1622.8,345.1h11.2M1622.8,401.8h11.2M1637.7,338.4V411.7M1632.1,338.4h11.2M1632.1,411.7h11.2M1647.1,327.2V403.9M1641.5,327.2h11.2M1641.5,403.9h11.2M1656.5,341.1V404.2M1650.9,341.1h11.2M1650.9,404.2h11.2M1665.9,336.6V403.8M1660.3,336.6h11.2M1660.3,403.8h11.2M1675.3,348.0V405.4M1669.7,348.0h11.2M1669.7,405.4h11.2M1684.7,344.7V406.1M1679.1,344.7h11.2M1679.1,406.1h11.2M1694.1,342.0V408.5M1688.5,342.0h11.2M1688.5,408.5h11.2M1703.5,347.3V406.0M1697.9,347.3h11.2M1697.9,406.0h11.2M1712.9,343.5V406.5M1707.3,343.5h11.2M1707.3,406.5h11.2M1722.3,341.8V423.1M1716.7,341.8h11.2M1716.7,423.1h11.2M1731.7,338.5V409.9M1726.1,338.5h11.2M1726.1,409.9h11.2M1741.1,337.4V407.6M1735.5,337.4h11.2M1735.5,407.6h11.2M1750.4,338.9V422.0M1744.8,338.9h11.2M1744.8,422.0h11.2M1759.8,341.2V413.1M1754.2,341.2h11.2M1754.2,413.1h11.2M1769.2,331.8V415.7M1763.6,331.8h11.2M1763.6,415.7h11.2M1778.6,341.2V415.1M1773.0,341.2h11.2M1773.0,415.1h11.2M1788.0,341.7V420.4M1782.4,341.7h11.2M1782.4,420.4h11.2M1797.4,352.8V410.9M1791.8,352.8h11.2M1791.8,410.9h11.2M1806.8,341.7V414.4M1801.2,341.7h11.2M1801.2,414.4h11.2M1816.2,345.8V423.0M1810.6,345.8h11.2M1810.6,423.0h11.2M1825.6,344.9V402.1M1820.0,344.9h11.2M1820.0,402.1h11.2M1835.0,333.2V415.2M1829.4,333.2h11.2M1829.4,415.2h11.2M1844.4,344.7V405.2M1838.8,344.7h11.2M1838.8,405.2h11.2M1853.8,338.1V407.3M1848.2,338.1h11.2M1848.2,407.3h11.2M1863.2,344.7V405.4M1857.6,344.7h11.2M1857.6,405.4h11.2M1872.5,343.6V413.5M1866.9,343.6h11.2M1866.9,413.5h11.2M1881.9,340.4V413.6M1876.3,340.4h11.2M1876.3,413.6h11.2M1891.3,350.1V407.8M1885.7,350.1h11.2M1885.7,407.8h11.2M1900.7,332.8V415.2M1895.1,332.8h11.2M1895.1,415.2h11.2M1910.1,343.1V410.8M1904.5,343.1h11.2M1904.5,410.8h11.2M1919.5,346.1V416.9M1913.9,346.1h11.2M1913.9,416.9h11.2M1928.9,335.3V408.0M1923.3,335.3h11.2M1923.3,408.0h11.2" stroke="#0033a0" stroke-width="3.2" stroke-linecap="round" fill="none"/>
<g fill="none" stroke="#0033a0" stroke-width="4.4" stroke-linejoin="round" stroke-linecap="round"><path d="M1330.9,407.5l12.6,16m0,-16l-12.6,16"/><path d="M1340.3,399.8l12.6,16m0,-16l-12.6,16"/><path d="M1349.7,384.6l12.6,16m0,-16l-12.6,16"/><path d="M1359.1,381.5l12.6,16m0,-16l-12.6,16"/><path d="M1368.5,365.1l12.6,16m0,-16l-12.6,16"/><path d="M1377.9,371.1l12.6,16m0,-16l-12.6,16"/><path d="M1387.3,361.0l12.6,16m0,-16l-12.6,16"/><path d="M1396.6,358.5l12.6,16m0,-16l-12.6,16"/><path d="M1406.0,367.5l12.6,16m0,-16l-12.6,16"/><path d="M1415.4,366.3l12.6,16m0,-16l-12.6,16"/><path d="M1424.8,361.5l12.6,16m0,-16l-12.6,16"/><path d="M1434.2,359.7l12.6,16m0,-16l-12.6,16"/><path d="M1443.6,358.2l12.6,16m0,-16l-12.6,16"/><path d="M1453.0,367.6l12.6,16m0,-16l-12.6,16"/><path d="M1462.4,362.1l12.6,16m0,-16l-12.6,16"/><path d="M1471.8,358.3l12.6,16m0,-16l-12.6,16"/><path d="M1481.2,360.6l12.6,16m0,-16l-12.6,16"/><path d="M1490.6,353.0l12.6,16m0,-16l-12.6,16"/><path d="M1500.0,353.7l12.6,16m0,-16l-12.6,16"/><path d="M1509.3,349.8l12.6,16m0,-16l-12.6,16"/><path d="M1518.7,353.3l12.6,16m0,-16l-12.6,16"/><path d="M1528.1,358.2l12.6,16m0,-16l-12.6,16"/><path d="M1537.5,356.0l12.6,16m0,-16l-12.6,16"/><path d="M1546.9,357.9l12.6,16m0,-16l-12.6,16"/><path d="M1556.3,358.8l12.6,16m0,-16l-12.6,16"/><path d="M1565.7,365.3l12.6,16m0,-16l-12.6,16"/><path d="M1575.1,366.4l12.6,16m0,-16l-12.6,16"/><path d="M1584.5,365.8l12.6,16m0,-16l-12.6,16"/><path d="M1593.9,357.7l12.6,16m0,-16l-12.6,16"/><path d="M1603.3,355.5l12.6,16m0,-16l-12.6,16"/><path d="M1612.7,355.9l12.6,16m0,-16l-12.6,16"/><path d="M1622.1,365.5l12.6,16m0,-16l-12.6,16"/><path d="M1631.4,367.1l12.6,16m0,-16l-12.6,16"/><path d="M1640.8,357.6l12.6,16m0,-16l-12.6,16"/><path d="M1650.2,364.7l12.6,16m0,-16l-12.6,16"/><path d="M1659.6,362.2l12.6,16m0,-16l-12.6,16"/><path d="M1669.0,368.7l12.6,16m0,-16l-12.6,16"/><path d="M1678.4,367.4l12.6,16m0,-16l-12.6,16"/><path d="M1687.8,367.2l12.6,16m0,-16l-12.6,16"/><path d="M1697.2,368.6l12.6,16m0,-16l-12.6,16"/><path d="M1706.6,367.0l12.6,16m0,-16l-12.6,16"/><path d="M1716.0,374.4l12.6,16m0,-16l-12.6,16"/><path d="M1725.4,366.2l12.6,16m0,-16l-12.6,16"/><path d="M1734.8,364.5l12.6,16m0,-16l-12.6,16"/><path d="M1744.1,372.4l12.6,16m0,-16l-12.6,16"/><path d="M1753.5,369.2l12.6,16m0,-16l-12.6,16"/><path d="M1762.9,365.7l12.6,16m0,-16l-12.6,16"/><path d="M1772.3,370.1l12.6,16m0,-16l-12.6,16"/><path d="M1781.7,373.1l12.6,16m0,-16l-12.6,16"/><path d="M1791.1,373.8l12.6,16m0,-16l-12.6,16"/><path d="M1800.5,370.0l12.6,16m0,-16l-12.6,16"/><path d="M1809.9,376.4l12.6,16m0,-16l-12.6,16"/><path d="M1819.3,365.5l12.6,16m0,-16l-12.6,16"/><path d="M1828.7,366.2l12.6,16m0,-16l-12.6,16"/><path d="M1838.1,366.9l12.6,16m0,-16l-12.6,16"/><path d="M1847.5,364.7l12.6,16m0,-16l-12.6,16"/><path d="M1856.9,367.0l12.6,16m0,-16l-12.6,16"/><path d="M1866.2,370.5l12.6,16m0,-16l-12.6,16"/><path d="M1875.6,369.0l12.6,16m0,-16l-12.6,16"/><path d="M1885.0,370.9l12.6,16m0,-16l-12.6,16"/><path d="M1894.4,366.0l12.6,16m0,-16l-12.6,16"/><path d="M1903.8,368.9l12.6,16m0,-16l-12.6,16"/><path d="M1913.2,373.5l12.6,16m0,-16l-12.6,16"/><path d="M1922.6,363.7l12.6,16m0,-16l-12.6,16"/></g>
<text x="11.9" y="58.6" font-size="56.42" xml:space="preserve">A</text>
<text x="558.2" y="75.3" font-size="52.35" xml:space="preserve">WT</text>
<text x="960.4" y="54.0" font-size="52.35" xml:space="preserve">CA1</text>
<text x="1514.0" y="75.3" font-size="49.50" xml:space="preserve">dnSNARE</text>
<text x="88.4" y="129.0" font-size="35.00" xml:space="preserve">120</text>
<text x="107.8" y="288.6" font-size="35.00" xml:space="preserve">80</text>
<text x="107.8" y="448.8" font-size="35.00" xml:space="preserve">40</text>
<text x="312.2" y="532.5" font-size="35.00" xml:space="preserve">0</text>
<text x="489.6" y="532.5" font-size="35.00" xml:space="preserve">20</text>
<text x="676.2" y="532.5" font-size="35.00" xml:space="preserve">40</text>
<text x="864.7" y="532.5" font-size="35.00" xml:space="preserve">60</text>
<text x="1055.7" y="532.5" font-size="35.00" xml:space="preserve">80</text>
<text x="1198.7" y="532.5" font-size="35.00" xml:space="preserve">0</text>
<text x="1373.6" y="532.5" font-size="35.00" xml:space="preserve">20</text>
<text x="1558.0" y="532.5" font-size="35.00" xml:space="preserve">40</text>
<text x="1750.9" y="532.5" font-size="35.00" xml:space="preserve">60</text>
<text x="1924.0" y="532.5" font-size="35.00" xml:space="preserve">80</text>
<text x="711.1" y="573.8" font-size="36.96" xml:space="preserve">time  (min)</text>
<text x="1592.0" y="574.4" font-size="36.83" xml:space="preserve">time  (min)</text>
<text x="270.7" y="130.0" font-size="34.92" xml:space="preserve">FAC</text>
<text x="343.7" y="283.7" font-size="34.91" xml:space="preserve">PPLFS</text>
<text x="1220.5" y="283.7" font-size="34.71" xml:space="preserve">PPLFS</text>
<text xml:space="preserve"><tspan x="1206.4" y="131.8" font-size="38.30">ATP</tspan><tspan x="1271.1" y="128.4" font-size="47.80" font-family='"Liberation Serif", serif'> γ</tspan><tspan x="1303.0" y="131.8" font-size="37.15">S</tspan></text>
<text transform="translate(45.2,387.9) rotate(-90)" font-size="39.62" xml:space="preserve">fEPSP slope</text>
<text transform="translate(82.8,405.9) rotate(-90)" font-size="39.65" xml:space="preserve">( % of control )</text>
<circle cx="778.2" cy="121.1" r="11" fill="#ececec" stroke="#000" stroke-width="5"/>
<rect x="768.3" y="153.5" width="19.4" height="19.4" fill="#fad4f4" stroke="#7b0080" stroke-width="4.2" stroke-linejoin="round"/>
<text x="819.4" y="131.0" font-size="37.56" xml:space="preserve">control</text>
<text x="819.6" y="173.6" font-size="35.03" xml:space="preserve">FAC</text>
<polygon points="1675.5,114.6 1704.0,114.6 1689.8,139.1" fill="#fbd3da" stroke="#d2050f" stroke-width="4.4" stroke-linejoin="round"/>
<line x1="1679.5" y1="162.1" x2="1699.5" y2="182.1" stroke="#0033a0" stroke-width="7.4" stroke-linecap="round" />
<line x1="1679.5" y1="182.1" x2="1699.5" y2="162.1" stroke="#0033a0" stroke-width="7.4" stroke-linecap="round" />
<text x="1726.9" y="132.8" font-size="38.29" xml:space="preserve">control</text>
<text xml:space="preserve"><tspan x="1727.6" y="185.3" font-size="38.30">ATP</tspan><tspan x="1792.3" y="181.9" font-size="47.80" font-family='"Liberation Serif", serif'> γ</tspan><tspan x="1824.2" y="185.3" font-size="37.15">S</tspan></text>
<path d="M445.2,668.2L494.6,668.2L495.9,577.0L497.3,759.2C497.5,749.3 498.2,715.3 498.6,700.0C499.0,684.7 499.4,673.3 499.8,667.4C500.2,661.5 501.0,665.1 501.2,664.6L502.2,638.6C502.7,641.7 504.1,652.1 505.0,657.0C505.9,661.9 506.1,667.2 507.4,667.9C508.7,668.5 511.3,662.7 512.8,660.9C514.3,659.1 515.0,658.9 516.5,657.2C518.0,655.5 520.6,654.4 522.1,650.7C523.6,647.0 524.7,639.3 525.8,634.9C526.9,630.5 527.7,626.9 528.6,624.5C529.5,622.1 530.4,621.0 531.4,620.8C532.4,620.5 533.5,621.1 534.4,623.0C535.3,624.9 536.1,627.8 536.8,632.0C537.5,636.2 538.1,641.3 538.8,648.0C539.4,654.7 540.1,664.9 540.7,672.0C541.3,679.1 541.8,685.2 542.5,690.6C543.2,696.0 543.7,700.8 544.8,704.5C545.9,708.2 547.5,712.1 549.0,712.7C550.5,713.3 551.9,710.7 553.6,708.2C555.3,705.8 557.2,701.5 559.2,698.0C561.2,694.5 563.4,690.3 565.7,686.9C568.0,683.5 570.6,680.1 573.1,677.6C575.6,675.1 577.4,673.5 580.5,672.0C583.6,670.5 588.1,669.4 591.7,668.8C595.3,668.2 599.0,668.3 602.0,668.2C605.0,668.1 608.7,668.2 610.0,668.2L657.7,668.2L659.0,577.0L659.9,759.2C660.1,752.7 660.9,732.2 661.3,720.0C661.7,707.8 662.1,694.6 662.5,686.0C662.9,677.4 663.5,671.7 663.9,668.3C664.3,664.9 664.6,666.0 664.8,665.5L665.6,641.0C666.0,643.9 667.1,653.5 668.1,658.1C669.1,662.7 670.3,667.6 671.5,668.5C672.7,669.4 674.4,665.9 675.5,663.7C676.6,661.5 677.4,659.8 678.3,655.3C679.1,650.8 679.9,643.7 680.6,637.0C681.3,630.3 681.9,620.9 682.5,615.0C683.1,609.1 683.7,602.3 684.5,601.5C685.3,600.7 686.2,605.2 687.1,610.0C688.0,614.8 689.1,622.8 689.9,630.0C690.7,637.2 691.2,645.7 691.7,653.5C692.2,661.3 692.6,668.5 693.1,676.7C693.6,685.0 694.3,695.0 695.0,703.0C695.7,711.0 696.4,719.6 697.3,725.0C698.1,730.4 699.1,734.3 700.1,735.1C701.1,735.9 701.9,732.9 703.0,730.0C704.1,727.1 705.4,722.5 707.0,718.0C708.6,713.5 710.6,707.4 712.6,702.7C714.6,698.0 716.8,693.4 719.2,689.7C721.6,686.0 724.3,683.1 727.0,680.4C729.7,677.7 732.4,675.2 735.3,673.4C738.2,671.6 741.4,670.6 744.6,669.7C747.9,668.8 750.9,668.5 754.8,668.2C758.7,668.0 765.8,668.2 768.0,668.2L854.8,668.5" stroke="#585858" stroke-width="1.7" fill="none" stroke-linejoin="round" stroke-linecap="round"/>
<path d="M445.2,668.2L494.6,668.2L495.9,577.0L497.3,759.2C497.5,749.3 498.2,715.3 498.6,700.0C499.0,684.7 499.4,673.3 499.8,667.4C500.2,661.5 501.0,665.1 501.2,664.6L502.2,638.6C502.7,641.7 504.1,652.1 505.0,657.0C505.9,661.9 506.1,667.2 507.4,667.9C508.7,668.5 511.3,662.7 512.8,660.9C514.3,659.1 515.0,658.9 516.5,657.2C518.0,655.5 520.4,653.2 522.1,650.7C523.8,648.2 525.5,645.5 526.7,642.4C527.9,639.3 528.6,634.3 529.5,632.2C530.4,630.1 531.3,629.8 532.3,629.8C533.3,629.8 534.6,630.7 535.6,632.2C536.6,633.7 537.5,635.1 538.3,638.6C539.1,642.1 539.5,648.5 540.2,653.5C540.9,658.5 541.7,663.7 542.5,668.3C543.3,672.9 544.0,677.7 544.8,681.3C545.6,684.9 546.4,687.8 547.2,689.7C548.1,691.6 548.8,692.5 549.9,692.9C551.0,693.3 552.4,692.8 553.6,692.0C554.9,691.2 556.0,689.8 557.4,688.3C558.8,686.8 560.1,684.6 562.0,682.7C563.9,680.8 565.9,678.8 568.5,677.1C571.1,675.4 574.7,673.7 577.8,672.5C580.9,671.3 583.9,670.4 587.0,669.7C590.1,669.0 592.5,668.5 596.3,668.2C600.1,668.0 607.7,668.2 610.0,668.2L657.7,668.2L659.0,577.0L659.9,759.2C660.1,752.7 660.9,732.2 661.3,720.0C661.7,707.8 662.1,694.6 662.5,686.0C662.9,677.4 663.5,671.7 663.9,668.3C664.3,664.9 664.6,666.0 664.8,665.5L665.6,641.0C666.0,643.9 667.1,653.5 668.1,658.1C669.1,662.7 670.3,667.6 671.5,668.5C672.7,669.4 674.4,665.9 675.5,663.7C676.6,661.5 677.4,660.1 678.3,655.3C679.1,650.5 679.9,642.9 680.6,634.9C681.3,626.9 681.9,614.8 682.5,607.1C683.1,599.5 683.7,590.1 684.5,589.0C685.3,587.9 686.2,594.2 687.1,600.6C688.0,607.0 689.1,618.7 689.9,627.5C690.7,636.3 691.2,645.3 691.7,653.5C692.2,661.7 692.6,668.2 693.1,676.7C693.6,685.2 694.3,695.7 695.0,704.5C695.7,713.3 696.4,723.4 697.3,729.6C698.1,735.8 699.1,740.5 700.1,741.6C701.1,742.7 702.1,739.5 703.3,736.0C704.5,732.5 705.9,725.8 707.5,720.3C709.1,714.8 711.1,707.8 713.1,702.7C715.1,697.6 717.3,693.4 719.6,689.7C721.9,686.0 724.4,683.1 727.0,680.4C729.6,677.7 732.4,675.2 735.3,673.4C738.2,671.6 741.4,670.6 744.6,669.7C747.9,668.8 750.9,668.5 754.8,668.2C758.7,668.0 765.8,668.2 768.0,668.2L854.8,668.5" stroke="#0b6a37" stroke-width="2.5" fill="none" stroke-linejoin="round" stroke-linecap="round"/>
<line x1="85.2" y1="609.4" x2="137.6" y2="609.4" stroke="#585858" stroke-width="2.8" stroke-linecap="round" />
<line x1="85.2" y1="643.3" x2="137.6" y2="643.3" stroke="#0b6a37" stroke-width="3.4" stroke-linecap="round" />
<text x="153.4" y="618.2" font-size="27.42" xml:space="preserve">baseline</text>
<text x="153.8" y="652.2" font-size="27.30" xml:space="preserve">30 min after PPLFS</text>
<path d="M962.8,716.4 H1022.6 V641" stroke="#333" stroke-width="1.4" fill="none" />
<text x="1027.5" y="690.7" font-size="21.88" xml:space="preserve">1 mV</text>
<text x="969.9" y="739.1" font-size="22.51" xml:space="preserve">20 ms</text>
<path d="M1241.5,680.5L1273.0,680.5L1274.3,603.2L1275.9,758.1C1276.1,751.8 1276.8,731.1 1277.2,720.0C1277.6,708.9 1277.8,699.2 1278.2,691.3C1278.6,683.4 1279.4,675.9 1279.6,672.8L1280.6,641.2C1281.0,644.9 1282.1,656.9 1282.9,663.5C1283.8,670.1 1284.7,678.1 1285.7,680.6C1286.7,683.1 1287.9,680.4 1288.9,678.3C1289.9,676.2 1290.5,671.3 1291.7,668.1C1292.9,664.9 1295.1,661.8 1296.3,658.9C1297.5,656.0 1298.2,655.5 1299.1,650.5C1299.9,645.5 1300.5,636.1 1301.4,629.0C1302.3,621.9 1303.5,613.0 1304.4,608.0C1305.3,603.0 1306.1,598.7 1307.0,599.0C1307.9,599.3 1308.8,603.9 1309.6,610.0C1310.4,616.1 1310.9,626.5 1311.6,635.7C1312.3,644.9 1313.1,656.0 1313.9,665.0C1314.7,674.0 1315.4,682.3 1316.2,690.0C1317.0,697.7 1317.7,705.4 1318.8,711.0C1319.9,716.6 1321.5,722.6 1322.8,723.8C1324.1,725.0 1325.2,720.6 1326.5,718.0C1327.8,715.4 1328.7,711.5 1330.6,708.0C1332.5,704.5 1335.5,699.7 1338.0,696.9C1340.5,694.1 1343.3,693.2 1345.5,691.3C1347.7,689.4 1348.7,687.0 1351.0,685.5C1353.3,684.0 1355.7,683.0 1359.4,682.0C1363.1,681.0 1368.2,680.0 1373.3,679.5C1378.4,679.0 1383.9,679.0 1390.0,679.0C1396.1,679.0 1406.7,679.4 1410.0,679.5L1441.0,680.5L1442.3,603.7L1443.0,760.6C1443.3,753.8 1444.1,733.2 1444.6,720.0C1445.1,706.8 1445.6,691.6 1446.0,681.6C1446.4,671.6 1447.0,663.6 1447.2,660.0L1448.1,632.5C1448.5,636.6 1449.9,649.0 1450.8,657.0C1451.7,665.0 1452.2,678.2 1453.5,680.5C1454.8,682.8 1457.4,676.8 1458.8,670.9C1460.2,665.0 1460.8,656.3 1461.7,645.0C1462.6,633.7 1463.1,613.8 1463.9,603.0C1464.7,592.2 1465.5,581.0 1466.3,580.2C1467.1,579.4 1468.0,588.9 1469.0,598.0C1470.0,607.1 1471.2,623.7 1472.0,635.0C1472.8,646.3 1473.5,656.1 1474.1,666.0C1474.7,675.9 1475.1,684.4 1475.8,694.4C1476.5,704.4 1476.8,717.3 1478.0,726.0C1479.2,734.7 1481.6,744.4 1483.0,746.7C1484.4,749.0 1485.4,743.4 1486.5,740.0C1487.6,736.6 1488.2,731.9 1489.8,726.4C1491.4,720.9 1493.7,712.7 1496.0,707.2C1498.3,701.7 1500.9,697.0 1503.5,693.3C1506.1,689.6 1508.6,687.2 1511.5,684.8C1514.4,682.4 1517.4,679.9 1520.7,678.8C1524.0,677.7 1527.4,678.2 1531.4,678.2C1535.5,678.2 1542.7,678.9 1545.0,679.0L1648.7,680.8" stroke="#3538a6" stroke-width="1.9" fill="none" stroke-linejoin="round" stroke-linecap="round"/>
<path d="M1241.5,680.5L1273.0,680.5L1274.3,603.2L1275.9,758.1C1276.1,751.8 1276.8,731.1 1277.2,720.0C1277.6,708.9 1277.8,699.2 1278.2,691.3C1278.6,683.4 1279.4,675.9 1279.6,672.8L1280.6,641.2C1281.0,644.9 1282.1,656.9 1282.9,663.5C1283.8,670.1 1284.7,678.1 1285.7,680.6C1286.7,683.1 1287.9,680.4 1288.9,678.3C1289.9,676.2 1290.5,671.3 1291.7,668.1C1292.9,664.9 1295.1,661.8 1296.3,658.9C1297.5,656.0 1298.2,655.1 1299.1,650.5C1300.0,645.9 1300.9,637.3 1301.9,631.0C1302.9,624.7 1304.1,617.0 1305.1,612.5C1306.1,608.0 1307.1,603.7 1307.9,603.7C1308.8,603.7 1309.5,607.2 1310.2,612.5C1310.9,617.8 1311.4,627.2 1312.1,635.7C1312.8,644.2 1313.6,655.0 1314.4,663.5C1315.2,672.0 1315.9,679.8 1316.7,686.7C1317.5,693.7 1318.1,700.3 1319.0,705.2C1319.9,710.1 1321.1,715.1 1322.3,715.9C1323.5,716.7 1324.6,713.1 1326.0,709.9C1327.4,706.7 1328.9,700.0 1330.6,696.9C1332.3,693.8 1334.3,692.8 1336.2,691.3C1338.1,689.8 1339.5,689.2 1341.8,688.1C1344.1,687.0 1347.2,685.9 1350.1,684.8C1353.0,683.7 1355.5,682.6 1359.4,681.6C1363.3,680.6 1368.2,679.5 1373.3,679.0C1378.4,678.5 1383.9,678.3 1390.0,678.3C1396.1,678.3 1406.7,678.9 1410.0,679.0L1441.0,680.5L1442.3,603.7L1443.0,760.6C1443.3,753.8 1444.1,733.2 1444.6,720.0C1445.1,706.8 1445.6,691.6 1446.0,681.6C1446.4,671.6 1447.0,663.6 1447.2,660.0L1448.1,632.5C1448.5,636.6 1449.9,649.0 1450.8,657.0C1451.7,665.0 1452.2,678.2 1453.5,680.5C1454.8,682.8 1457.5,677.5 1458.8,670.9C1460.1,664.3 1460.7,654.9 1461.5,641.0C1462.3,627.1 1462.8,602.0 1463.6,587.7C1464.3,573.4 1465.1,556.9 1466.0,555.1C1466.9,553.3 1468.0,565.4 1469.0,577.0C1470.0,588.6 1471.3,610.8 1472.2,625.0C1473.1,639.2 1473.7,650.8 1474.3,662.4C1474.9,674.0 1475.3,682.8 1475.9,694.4C1476.5,706.0 1476.9,720.2 1478.0,731.7C1479.1,743.2 1480.9,760.2 1482.5,763.2C1484.1,766.2 1485.7,756.0 1487.6,749.9C1489.5,743.8 1491.9,733.5 1494.0,726.4C1496.1,719.3 1498.1,712.7 1500.4,707.2C1502.7,701.7 1505.4,697.0 1507.9,693.3C1510.4,689.6 1512.9,687.0 1515.4,684.8C1517.9,682.6 1520.1,680.9 1522.8,679.9C1525.5,678.9 1527.7,678.7 1531.4,678.6C1535.1,678.5 1542.7,679.2 1545.0,679.3L1648.7,680.8" stroke="#ff6432" stroke-width="2.6" fill="none" stroke-linejoin="round" stroke-linecap="round"/>
<line x1="1651.8" y1="624.9" x2="1704.0" y2="624.9" stroke="#3538a6" stroke-width="2.6" stroke-linecap="round" />
<line x1="1651.8" y1="659.0" x2="1704.0" y2="659.0" stroke="#ff6432" stroke-width="3.4" stroke-linecap="round" />
<text x="1720.0" y="633.8" font-size="27.39" xml:space="preserve">baseline</text>
<text x="1720.4" y="668.4" font-size="27.28" xml:space="preserve">30 min after PPLFS</text>
<line x1="180.0" y1="964.4" x2="180.0" y2="1249.2" stroke="#1a1a1a" stroke-width="2.3" stroke-linecap="butt" />
<line x1="164.0" y1="965.5" x2="180.0" y2="965.5" stroke="#1a1a1a" stroke-width="2.3" stroke-linecap="butt" />
<line x1="170.0" y1="1012.4" x2="180.0" y2="1012.4" stroke="#1a1a1a" stroke-width="2.3" stroke-linecap="butt" />
<line x1="164.0" y1="1059.3" x2="180.0" y2="1059.3" stroke="#1a1a1a" stroke-width="2.3" stroke-linecap="butt" />
<line x1="170.0" y1="1106.5" x2="180.0" y2="1106.5" stroke="#1a1a1a" stroke-width="2.3" stroke-linecap="butt" />
<line x1="164.0" y1="1153.8" x2="180.0" y2="1153.8" stroke="#1a1a1a" stroke-width="2.3" stroke-linecap="butt" />
<line x1="170.0" y1="1201.0" x2="180.0" y2="1201.0" stroke="#1a1a1a" stroke-width="2.3" stroke-linecap="butt" />
<line x1="164.0" y1="1248.0" x2="180.0" y2="1248.0" stroke="#1a1a1a" stroke-width="2.3" stroke-linecap="butt" />
<line x1="213.7" y1="1247.8" x2="884.3" y2="1247.8" stroke="#1a1a1a" stroke-width="2.0" stroke-linecap="butt" />
<line x1="989.9" y1="1247.8" x2="1262.5" y2="1247.8" stroke="#1a1a1a" stroke-width="2.0" stroke-linecap="butt" />
<text x="121.9" y="978.0" font-size="35.00" xml:space="preserve">60</text>
<text x="121.9" y="1071.8" font-size="35.00" xml:space="preserve">40</text>
<text x="121.9" y="1166.3" font-size="35.00" xml:space="preserve">20</text>
<text x="141.4" y="1251.0" font-size="35.00" xml:space="preserve">0</text>
<text transform="translate(72.8,1252.7) rotate(-90)" font-size="38.40" xml:space="preserve">decrease in fEPSP</text>
<text transform="translate(107.7,1192.2) rotate(-90)" font-size="38.18" xml:space="preserve">% of control</text>
<path d="M214.5,891.0 V883.0 H311.2 V933.8" stroke="#2b2b2b" stroke-width="1.7" fill="none" />
<path d="M214.5,914.9 V907.6 H260.7 V939.7" stroke="#2b2b2b" stroke-width="1.7" fill="none" />
<path d="M506.5,1099.8 V1091.7 H544.2 V1128.2" stroke="#2b2b2b" stroke-width="1.7" fill="none" />
<path d="M739.2,1069.0 V1061.0 H780.6 V1113.0" stroke="#2b2b2b" stroke-width="1.7" fill="none" />
<path d="M1010.3,1017.9 V988.7 H1212.3 V997.5" stroke="#2b2b2b" stroke-width="1.7" fill="none" />
<path d="M1011.5,1058.2 V1048.0 H1067.8 V1115.0" stroke="#2b2b2b" stroke-width="1.7" fill="none" />
<text x="253.4" y="890.4" font-size="40.00" xml:space="preserve">*</text>
<text x="227.7" y="917.7" font-size="40.00" xml:space="preserve">*</text>
<text x="516.8" y="1097.4" font-size="40.00" xml:space="preserve">*</text>
<text x="752.7" y="1067.4" font-size="40.00" xml:space="preserve">*</text>
<text x="1108.8" y="991.6" font-size="40.00" xml:space="preserve">*</text>
<text x="1032.9" y="1054.4" font-size="40.00" xml:space="preserve">*</text>
<text x="471.9" y="1126.0" font-size="32.00" xml:space="preserve">#</text>
<text x="704.5" y="1110.8" font-size="32.00" xml:space="preserve">#</text>
<text x="975.0" y="1121.0" font-size="32.00" xml:space="preserve">#</text>
<line x1="214.5" y1="923.0" x2="214.5" y2="1050.9" stroke="#000" stroke-width="3.2" stroke-linecap="butt" />
<line x1="207.6" y1="923.0" x2="221.4" y2="923.0" stroke="#000" stroke-width="3.2" stroke-linecap="round" />
<line x1="207.6" y1="1050.9" x2="221.4" y2="1050.9" stroke="#000" stroke-width="3.2" stroke-linecap="round" />
<circle cx="214.5" cy="987.2" r="10.4" fill="#fff" stroke="#000" stroke-width="4.2"/>
<text x="220.6" y="1042.7" font-size="29.50" fill="#5a5a5a" font-weight="bold" xml:space="preserve">12</text>
<line x1="261.2" y1="1094.0" x2="261.2" y2="1172.5" stroke="#000" stroke-width="3.2" stroke-linecap="butt" />
<line x1="254.3" y1="1094.0" x2="268.1" y2="1094.0" stroke="#000" stroke-width="3.2" stroke-linecap="round" />
<line x1="254.3" y1="1172.5" x2="268.1" y2="1172.5" stroke="#000" stroke-width="3.2" stroke-linecap="round" />
<circle cx="261.2" cy="1134.0" r="10.4" fill="#808080" stroke="#000" stroke-width="4.2"/>
<text x="273.5" y="1199.0" font-size="29.50" fill="#5a5a5a" font-weight="bold" xml:space="preserve">8</text>
<line x1="310.0" y1="1024.6" x2="310.0" y2="1108.3" stroke="#000" stroke-width="3.2" stroke-linecap="butt" />
<line x1="303.1" y1="1024.6" x2="316.9" y2="1024.6" stroke="#000" stroke-width="3.2" stroke-linecap="round" />
<line x1="303.1" y1="1108.3" x2="316.9" y2="1108.3" stroke="#000" stroke-width="3.2" stroke-linecap="round" />
<circle cx="310.0" cy="1066.0" r="10.4" fill="#000" stroke="#000" stroke-width="4.2"/>
<text x="319.6" y="1137.0" font-size="29.50" fill="#5a5a5a" font-weight="bold" xml:space="preserve">8</text>
<line x1="407.8" y1="964.8" x2="407.8" y2="1063.7" stroke="#0c6b38" stroke-width="3.2" stroke-linecap="butt" />
<line x1="400.9" y1="964.8" x2="414.7" y2="964.8" stroke="#0c6b38" stroke-width="3.2" stroke-linecap="round" />
<line x1="400.9" y1="1063.7" x2="414.7" y2="1063.7" stroke="#0c6b38" stroke-width="3.2" stroke-linecap="round" />
<circle cx="407.8" cy="1014.4" r="10.4" fill="#33cc33" stroke="#0c6b38" stroke-width="4.2"/>
<text x="421.5" y="1069.8" font-size="29.50" fill="#5a5a5a" font-weight="bold" xml:space="preserve">5</text>
<line x1="506.3" y1="1108.6" x2="506.3" y2="1165.2" stroke="#7b0080" stroke-width="3.2" stroke-linecap="butt" />
<line x1="499.4" y1="1108.6" x2="513.2" y2="1108.6" stroke="#7b0080" stroke-width="3.2" stroke-linecap="round" />
<line x1="499.4" y1="1165.2" x2="513.2" y2="1165.2" stroke="#7b0080" stroke-width="3.2" stroke-linecap="round" />
<rect x="496.4" y="1127.0" width="19.8" height="19.8" fill="#fff" stroke="#7b0080" stroke-width="4.4" stroke-linejoin="round"/>
<text x="520.8" y="1176.3" font-size="29.50" fill="#5a5a5a" font-weight="bold" xml:space="preserve">8</text>
<line x1="571.6" y1="1209.0" x2="571.6" y2="1249.9" stroke="#7b0080" stroke-width="3.2" stroke-linecap="butt" />
<line x1="564.7" y1="1209.0" x2="578.5" y2="1209.0" stroke="#7b0080" stroke-width="3.2" stroke-linecap="round" />
<line x1="564.7" y1="1249.9" x2="578.5" y2="1249.9" stroke="#7b0080" stroke-width="3.2" stroke-linecap="round" />
<rect x="561.7" y="1219.8" width="19.8" height="19.8" fill="#9a9a9a" stroke="#7b0080" stroke-width="4.4" stroke-linejoin="round"/>
<text x="592.3" y="1231.8" font-size="29.50" fill="#5a5a5a" font-weight="bold" xml:space="preserve">6</text>
<line x1="630.9" y1="1100.4" x2="630.9" y2="1163.2" stroke="#7b0080" stroke-width="3.2" stroke-linecap="butt" />
<line x1="624.0" y1="1100.4" x2="637.8" y2="1100.4" stroke="#7b0080" stroke-width="3.2" stroke-linecap="round" />
<line x1="624.0" y1="1163.2" x2="637.8" y2="1163.2" stroke="#7b0080" stroke-width="3.2" stroke-linecap="round" />
<rect x="621.0" y="1122.1" width="19.8" height="19.8" fill="#7b0080" stroke="#7b0080" stroke-width="4.4" stroke-linejoin="round"/>
<text x="646.6" y="1172.8" font-size="29.50" fill="#5a5a5a" font-weight="bold" xml:space="preserve">7</text>
<line x1="740.4" y1="1077.1" x2="740.4" y2="1163.8" stroke="#d35400" stroke-width="3.2" stroke-linecap="butt" />
<line x1="733.5" y1="1077.1" x2="747.3" y2="1077.1" stroke="#d35400" stroke-width="3.2" stroke-linecap="round" />
<line x1="733.5" y1="1163.8" x2="747.3" y2="1163.8" stroke="#d35400" stroke-width="3.2" stroke-linecap="round" />
<polygon points="740.4,1107.5 753.8,1120.3 740.4,1133.1 727.0,1120.3" fill="#fff" stroke="#d35400" stroke-width="4.2" stroke-linejoin="miter"/>
<text x="751.1" y="1174.9" font-size="29.50" fill="#5a5a5a" font-weight="bold" xml:space="preserve">10</text>
<line x1="801.6" y1="1208.4" x2="801.6" y2="1246.4" stroke="#d35400" stroke-width="3.2" stroke-linecap="butt" />
<line x1="794.7" y1="1208.4" x2="808.5" y2="1208.4" stroke="#d35400" stroke-width="3.2" stroke-linecap="round" />
<line x1="794.7" y1="1246.4" x2="808.5" y2="1246.4" stroke="#d35400" stroke-width="3.2" stroke-linecap="round" />
<polygon points="801.6,1214.6 815.0,1227.4 801.6,1240.2 788.2,1227.4" fill="#9a9a9a" stroke="#d35400" stroke-width="4.2" stroke-linejoin="miter"/>
<text x="822.6" y="1229.7" font-size="29.50" fill="#5a5a5a" font-weight="bold" xml:space="preserve">7</text>
<line x1="855.3" y1="1103.4" x2="855.3" y2="1159.4" stroke="#d35400" stroke-width="3.2" stroke-linecap="butt" />
<line x1="848.4" y1="1103.4" x2="862.2" y2="1103.4" stroke="#d35400" stroke-width="3.2" stroke-linecap="round" />
<line x1="848.4" y1="1159.4" x2="862.2" y2="1159.4" stroke="#d35400" stroke-width="3.2" stroke-linecap="round" />
<polygon points="855.3,1118.9 868.7,1131.7 855.3,1144.5 841.9,1131.7" fill="#d35400" stroke="#d35400" stroke-width="4.2" stroke-linejoin="miter"/>
<text x="870.2" y="1179.8" font-size="29.50" fill="#5a5a5a" font-weight="bold" xml:space="preserve">7</text>
<line x1="1011.8" y1="1089.6" x2="1011.8" y2="1166.1" stroke="#d2050f" stroke-width="3.2" stroke-linecap="butt" />
<line x1="1004.9" y1="1089.6" x2="1018.7" y2="1089.6" stroke="#d2050f" stroke-width="3.2" stroke-linecap="round" />
<line x1="1004.9" y1="1166.1" x2="1018.7" y2="1166.1" stroke="#d2050f" stroke-width="3.2" stroke-linecap="round" />
<polygon points="999.6,1121.4 1023.9,1121.4 1011.8,1140.9" fill="#fff" stroke="#d2050f" stroke-width="4.2" stroke-linejoin="round"/>
<text x="1023.2" y="1170.5" font-size="29.50" fill="#5a5a5a" font-weight="bold" xml:space="preserve">10</text>
<line x1="1095.3" y1="1212.2" x2="1095.3" y2="1247.0" stroke="#d2050f" stroke-width="3.2" stroke-linecap="butt" />
<line x1="1088.4" y1="1212.2" x2="1102.2" y2="1212.2" stroke="#d2050f" stroke-width="3.2" stroke-linecap="round" />
<line x1="1088.4" y1="1247.0" x2="1102.2" y2="1247.0" stroke="#d2050f" stroke-width="3.2" stroke-linecap="round" />
<polygon points="1083.1,1223.6 1107.5,1223.6 1095.3,1243.1" fill="#9a9a9a" stroke="#d2050f" stroke-width="4.2" stroke-linejoin="round"/>
<text x="1114.5" y="1227.4" font-size="29.50" fill="#5a5a5a" font-weight="bold" xml:space="preserve">8</text>
<line x1="1165.6" y1="1077.7" x2="1165.6" y2="1150.0" stroke="#d2050f" stroke-width="3.2" stroke-linecap="butt" />
<line x1="1158.7" y1="1077.7" x2="1172.5" y2="1077.7" stroke="#d2050f" stroke-width="3.2" stroke-linecap="round" />
<line x1="1158.7" y1="1150.0" x2="1172.5" y2="1150.0" stroke="#d2050f" stroke-width="3.2" stroke-linecap="round" />
<polygon points="1153.4,1108.3 1177.8,1108.3 1165.6,1127.8" fill="#d2050f" stroke="#d2050f" stroke-width="4.2" stroke-linejoin="round"/>
<text x="1179.3" y="1172.8" font-size="29.50" fill="#5a5a5a" font-weight="bold" xml:space="preserve">8</text>
<line x1="1231.9" y1="996.0" x2="1231.9" y2="1056.7" stroke="#0033a0" stroke-width="3.2" stroke-linecap="butt" />
<line x1="1225.0" y1="996.0" x2="1238.8" y2="996.0" stroke="#0033a0" stroke-width="3.2" stroke-linecap="round" />
<line x1="1225.0" y1="1056.7" x2="1238.8" y2="1056.7" stroke="#0033a0" stroke-width="3.2" stroke-linecap="round" />
<line x1="1222.9" y1="1017.6" x2="1240.9" y2="1035.6" stroke="#0033a0" stroke-width="4.6" stroke-linecap="round" />
<line x1="1222.9" y1="1035.6" x2="1240.9" y2="1017.6" stroke="#0033a0" stroke-width="4.6" stroke-linecap="round" />
<text x="1248.5" y="1069.8" font-size="29.50" fill="#5a5a5a" font-weight="bold" xml:space="preserve">9</text>
<text x="9.7" y="840.7" font-size="61.85" xml:space="preserve">B</text>
<text x="354.6" y="898.2" font-size="37.58" font-weight="bold" xml:space="preserve">WT</text>
<text x="359.9" y="953.0" font-size="36.35" xml:space="preserve">DPCPX</text>
<text x="496.9" y="1026.6" font-size="36.67" xml:space="preserve">FAC</text>
<text x="723.1" y="1026.6" font-size="36.26" xml:space="preserve">PPADS</text>
<text x="1050.2" y="910.8" font-size="39.27" font-weight="bold" xml:space="preserve">dnSNARE</text>
<text xml:space="preserve"><tspan x="1171.5" y="966.0" font-size="38.30">ATP</tspan><tspan x="1244.2" y="962.6" font-size="47.80" font-family='"Liberation Serif", serif'>γ</tspan><tspan x="1264.1" y="966.0" font-size="37.15">S</tspan></text>
<text xml:space="preserve"><tspan x="678.1" y="860.4" font-size="41.68">LTD at 60</tspan><tspan x="859.7" y="841.7" font-size="27.35">th</tspan><tspan x="881.5" y="860.4" font-size="42.74"> min</tspan></text>
<text xml:space="preserve"><tspan x="521.5" y="917.6" font-size="34.00" font-style="italic">#</tspan><tspan x="540.8" y="918.5" font-size="38.00">,</tspan><tspan x="556.5" y="924.4" font-size="45.00">*</tspan><tspan x="582.5" y="928.3" font-size="44.50" font-style="italic">p</tspan><tspan x="601.7" y="937.5" font-size="45.00"> &lt;</tspan><tspan x="641.5" y="934.8" font-size="39.50"> 0.01</tspan></text>
<text x="106.7" y="1290.0" font-size="35.02" xml:space="preserve">MPEP</text>
<text x="57.0" y="1331.0" font-size="35.06" xml:space="preserve">LY456236</text>
<text x="249.3" y="1295.1" font-size="43.00" xml:space="preserve">+</text>
<text x="559.4" y="1294.6" font-size="43.00" xml:space="preserve">+</text>
<text x="788.5" y="1294.6" font-size="43.00" xml:space="preserve">+</text>
<text x="1082.8" y="1293.1" font-size="43.00" xml:space="preserve">+</text>
<text x="296.0" y="1333.4" font-size="43.00" xml:space="preserve">+</text>
<text x="593.9" y="1332.8" font-size="43.00" xml:space="preserve">+</text>
<text x="844.0" y="1332.8" font-size="43.00" xml:space="preserve">+</text>
<text x="1153.1" y="1331.9" font-size="43.00" xml:space="preserve">+</text>
<rect x="1597.7" y="1056.6" width="55.0" height="209.7" fill="#fff" stroke="#000" stroke-width="4" />
<rect x="1676.3" y="979.8" width="55.1" height="286.5" fill="#e6e6e6" stroke="#000" stroke-width="4" />
<rect x="1801.5" y="1049.1" width="55.7" height="217.5" fill="#fff" stroke="#d2050f" stroke-width="3.4" />
<rect x="1881.8" y="999.7" width="56.4" height="266.9" fill="#fbd3da" stroke="#d2050f" stroke-width="3.4" />
<line x1="1554.2" y1="943.6" x2="1554.2" y2="1268.2" stroke="#1a1a1a" stroke-width="2.3" stroke-linecap="butt" />
<line x1="1536.2" y1="944.8" x2="1554.2" y2="944.8" stroke="#1a1a1a" stroke-width="2.3" stroke-linecap="butt" />
<line x1="1543.2" y1="1025.8" x2="1554.2" y2="1025.8" stroke="#1a1a1a" stroke-width="2.3" stroke-linecap="butt" />
<line x1="1536.2" y1="1105.7" x2="1554.2" y2="1105.7" stroke="#1a1a1a" stroke-width="2.3" stroke-linecap="butt" />
<line x1="1543.2" y1="1186.7" x2="1554.2" y2="1186.7" stroke="#1a1a1a" stroke-width="2.3" stroke-linecap="butt" />
<line x1="1536.2" y1="1267.0" x2="1554.2" y2="1267.0" stroke="#1a1a1a" stroke-width="2.3" stroke-linecap="butt" />
<line x1="1625.0" y1="1022.4" x2="1625.0" y2="1057.0" stroke="#000" stroke-width="3.4" stroke-linecap="butt" />
<line x1="1613.8" y1="1022.4" x2="1636.2" y2="1022.4" stroke="#000" stroke-width="3.4" stroke-linecap="round" />
<line x1="1703.0" y1="923.5" x2="1703.0" y2="980.0" stroke="#000" stroke-width="3.4" stroke-linecap="butt" />
<line x1="1691.8" y1="923.5" x2="1714.2" y2="923.5" stroke="#000" stroke-width="3.4" stroke-linecap="round" />
<line x1="1830.2" y1="1008.6" x2="1830.2" y2="1050.0" stroke="#d2050f" stroke-width="3.4" stroke-linecap="butt" />
<line x1="1819.0" y1="1008.6" x2="1841.4" y2="1008.6" stroke="#d2050f" stroke-width="3.4" stroke-linecap="round" />
<line x1="1910.2" y1="945.5" x2="1910.2" y2="1000.0" stroke="#d2050f" stroke-width="3.4" stroke-linecap="butt" />
<line x1="1899.0" y1="945.5" x2="1921.4" y2="945.5" stroke="#d2050f" stroke-width="3.4" stroke-linecap="round" />
<line x1="1633.0" y1="982.5" x2="1695.0" y2="900.7" stroke="#555" stroke-width="1.4" stroke-dasharray="4.5 2.5"/>
<line x1="1633.0" y1="1008.1" x2="1695.0" y2="941.0" stroke="#555" stroke-width="1.4" stroke-dasharray="4.5 2.5"/>
<line x1="1633.0" y1="1028.9" x2="1695.0" y2="932.5" stroke="#555" stroke-width="1.4" stroke-dasharray="4.5 2.5"/>
<line x1="1633.0" y1="1036.0" x2="1695.0" y2="959.3" stroke="#555" stroke-width="1.4" stroke-dasharray="4.5 2.5"/>
<line x1="1633.0" y1="1041.0" x2="1695.0" y2="950.8" stroke="#555" stroke-width="1.4" stroke-dasharray="4.5 2.5"/>
<line x1="1633.0" y1="1050.8" x2="1695.0" y2="998.8" stroke="#555" stroke-width="1.4" stroke-dasharray="4.5 2.5"/>
<line x1="1633.0" y1="1060.0" x2="1695.0" y2="977.6" stroke="#555" stroke-width="1.4" stroke-dasharray="4.5 2.5"/>
<line x1="1633.0" y1="1070.3" x2="1695.0" y2="1022.8" stroke="#555" stroke-width="1.4" stroke-dasharray="4.5 2.5"/>
<line x1="1633.0" y1="1082.5" x2="1695.0" y2="1016.6" stroke="#555" stroke-width="1.4" stroke-dasharray="4.5 2.5"/>
<line x1="1633.0" y1="1096.0" x2="1695.0" y2="1039.8" stroke="#555" stroke-width="1.4" stroke-dasharray="4.5 2.5"/>
<line x1="1633.0" y1="1110.6" x2="1695.0" y2="1071.6" stroke="#555" stroke-width="1.4" stroke-dasharray="4.5 2.5"/>
<line x1="1838.2" y1="985.0" x2="1902.2" y2="920.3" stroke="#a3121c" stroke-width="1.4" stroke-dasharray="4.5 2.5"/>
<line x1="1838.2" y1="994.0" x2="1902.2" y2="950.0" stroke="#a3121c" stroke-width="1.4" stroke-dasharray="4.5 2.5"/>
<line x1="1838.2" y1="1024.0" x2="1902.2" y2="987.5" stroke="#a3121c" stroke-width="1.4" stroke-dasharray="4.5 2.5"/>
<line x1="1838.2" y1="1038.0" x2="1902.2" y2="974.0" stroke="#a3121c" stroke-width="1.4" stroke-dasharray="4.5 2.5"/>
<line x1="1838.2" y1="1051.0" x2="1902.2" y2="1014.0" stroke="#a3121c" stroke-width="1.4" stroke-dasharray="4.5 2.5"/>
<line x1="1838.2" y1="1061.0" x2="1902.2" y2="1031.0" stroke="#a3121c" stroke-width="1.4" stroke-dasharray="4.5 2.5"/>
<line x1="1838.2" y1="1069.0" x2="1902.2" y2="1022.5" stroke="#a3121c" stroke-width="1.4" stroke-dasharray="4.5 2.5"/>
<line x1="1838.2" y1="1078.0" x2="1902.2" y2="1066.0" stroke="#a3121c" stroke-width="1.4" stroke-dasharray="4.5 2.5"/>
<line x1="1838.2" y1="1086.0" x2="1902.2" y2="1051.0" stroke="#a3121c" stroke-width="1.4" stroke-dasharray="4.5 2.5"/>
<line x1="1838.2" y1="1101.5" x2="1902.2" y2="1075.0" stroke="#a3121c" stroke-width="1.4" stroke-dasharray="4.5 2.5"/>
<circle cx="1625.0" cy="982.5" r="7.6" fill="none" stroke="#000" stroke-width="3.6"/>
<circle cx="1625.0" cy="1008.1" r="7.6" fill="none" stroke="#000" stroke-width="3.6"/>
<circle cx="1625.0" cy="1028.9" r="7.6" fill="none" stroke="#000" stroke-width="3.6"/>
<circle cx="1625.0" cy="1036.0" r="7.6" fill="none" stroke="#000" stroke-width="3.6"/>
<circle cx="1625.0" cy="1041.0" r="7.6" fill="none" stroke="#000" stroke-width="3.6"/>
<circle cx="1625.0" cy="1050.8" r="7.6" fill="none" stroke="#000" stroke-width="3.6"/>
<circle cx="1625.0" cy="1060.0" r="7.6" fill="none" stroke="#000" stroke-width="3.6"/>
<circle cx="1625.0" cy="1070.3" r="7.6" fill="none" stroke="#000" stroke-width="3.6"/>
<circle cx="1625.0" cy="1082.5" r="7.6" fill="none" stroke="#000" stroke-width="3.6"/>
<circle cx="1625.0" cy="1096.0" r="7.6" fill="none" stroke="#000" stroke-width="3.6"/>
<circle cx="1625.0" cy="1110.6" r="7.6" fill="none" stroke="#000" stroke-width="3.6"/>
<circle cx="1703.0" cy="900.7" r="7.6" fill="none" stroke="#000" stroke-width="3.6"/>
<circle cx="1703.0" cy="932.5" r="7.6" fill="none" stroke="#000" stroke-width="3.6"/>
<circle cx="1703.0" cy="941.0" r="7.6" fill="none" stroke="#000" stroke-width="3.6"/>
<circle cx="1703.0" cy="950.8" r="7.6" fill="none" stroke="#000" stroke-width="3.6"/>
<circle cx="1703.0" cy="959.3" r="7.6" fill="none" stroke="#000" stroke-width="3.6"/>
<circle cx="1703.0" cy="977.6" r="7.6" fill="none" stroke="#000" stroke-width="3.6"/>
<circle cx="1703.0" cy="998.8" r="7.6" fill="none" stroke="#000" stroke-width="3.6"/>
<circle cx="1703.0" cy="1016.6" r="7.6" fill="none" stroke="#000" stroke-width="3.6"/>
<circle cx="1703.0" cy="1022.8" r="7.6" fill="none" stroke="#000" stroke-width="3.6"/>
<circle cx="1703.0" cy="1039.8" r="7.6" fill="none" stroke="#000" stroke-width="3.6"/>
<circle cx="1703.0" cy="1071.6" r="7.6" fill="none" stroke="#000" stroke-width="3.6"/>
<polygon points="1819.5,976.5 1841.0,976.5 1830.2,995.0" fill="none" stroke="#d2050f" stroke-width="3.4" stroke-linejoin="round"/>
<polygon points="1819.5,985.5 1841.0,985.5 1830.2,1004.0" fill="none" stroke="#d2050f" stroke-width="3.4" stroke-linejoin="round"/>
<polygon points="1819.5,1015.5 1841.0,1015.5 1830.2,1034.0" fill="none" stroke="#d2050f" stroke-width="3.4" stroke-linejoin="round"/>
<polygon points="1819.5,1029.5 1841.0,1029.5 1830.2,1048.0" fill="none" stroke="#d2050f" stroke-width="3.4" stroke-linejoin="round"/>
<polygon points="1819.5,1042.5 1841.0,1042.5 1830.2,1061.0" fill="none" stroke="#d2050f" stroke-width="3.4" stroke-linejoin="round"/>
<polygon points="1819.5,1052.5 1841.0,1052.5 1830.2,1071.0" fill="none" stroke="#d2050f" stroke-width="3.4" stroke-linejoin="round"/>
<polygon points="1819.5,1060.5 1841.0,1060.5 1830.2,1079.0" fill="none" stroke="#d2050f" stroke-width="3.4" stroke-linejoin="round"/>
<polygon points="1819.5,1069.5 1841.0,1069.5 1830.2,1088.0" fill="none" stroke="#d2050f" stroke-width="3.4" stroke-linejoin="round"/>
<polygon points="1819.5,1077.5 1841.0,1077.5 1830.2,1096.0" fill="none" stroke="#d2050f" stroke-width="3.4" stroke-linejoin="round"/>
<polygon points="1819.5,1093.0 1841.0,1093.0 1830.2,1111.5" fill="none" stroke="#d2050f" stroke-width="3.4" stroke-linejoin="round"/>
<polygon points="1899.5,911.8 1921.0,911.8 1910.2,930.3" fill="none" stroke="#d2050f" stroke-width="3.4" stroke-linejoin="round"/>
<polygon points="1899.5,941.5 1921.0,941.5 1910.2,960.0" fill="none" stroke="#d2050f" stroke-width="3.4" stroke-linejoin="round"/>
<polygon points="1899.5,965.5 1921.0,965.5 1910.2,984.0" fill="none" stroke="#d2050f" stroke-width="3.4" stroke-linejoin="round"/>
<polygon points="1899.5,979.0 1921.0,979.0 1910.2,997.5" fill="none" stroke="#d2050f" stroke-width="3.4" stroke-linejoin="round"/>
<polygon points="1899.5,1005.5 1921.0,1005.5 1910.2,1024.0" fill="none" stroke="#d2050f" stroke-width="3.4" stroke-linejoin="round"/>
<polygon points="1899.5,1014.0 1921.0,1014.0 1910.2,1032.5" fill="none" stroke="#d2050f" stroke-width="3.4" stroke-linejoin="round"/>
<polygon points="1899.5,1022.5 1921.0,1022.5 1910.2,1041.0" fill="none" stroke="#d2050f" stroke-width="3.4" stroke-linejoin="round"/>
<polygon points="1899.5,1042.5 1921.0,1042.5 1910.2,1061.0" fill="none" stroke="#d2050f" stroke-width="3.4" stroke-linejoin="round"/>
<polygon points="1899.5,1057.5 1921.0,1057.5 1910.2,1076.0" fill="none" stroke="#d2050f" stroke-width="3.4" stroke-linejoin="round"/>
<polygon points="1899.5,1066.5 1921.0,1066.5 1910.2,1085.0" fill="none" stroke="#d2050f" stroke-width="3.4" stroke-linejoin="round"/>
<path d="M1609.9,971.4 V931.0 H1684.1 V943.8" stroke="#2b2b2b" stroke-width="1.7" fill="none" />
<path d="M1819.4,962.3 V920.2 H1893.6 V933.6" stroke="#2b2b2b" stroke-width="1.7" fill="none" />
<text x="1640.2" y="937.2" font-size="40.00" xml:space="preserve">*</text>
<text x="1849.4" y="927.7" font-size="40.00" xml:space="preserve">*</text>
<rect x="1584.3" y="787.3" width="66.0" height="25.5" fill="#e6e6e6" stroke="#000" stroke-width="4.2" stroke-linejoin="round"/>
<rect x="1584.3" y="832.1" width="66.0" height="26.2" fill="#fff" stroke="#000" stroke-width="4.2" stroke-linejoin="round"/>
<text x="1678.8" y="810.5" font-size="32.27" xml:space="preserve">baseline</text>
<text x="1679.7" y="856.0" font-size="32.27" xml:space="preserve">30 min after PPLFS</text>
<text x="1414.5" y="857.7" font-size="60.62" xml:space="preserve">C</text>
<text x="1480.5" y="956.5" font-size="36.00" xml:space="preserve">2.0</text>
<text x="1480.5" y="1117.5" font-size="36.00" xml:space="preserve">1.0</text>
<text x="1510.5" y="1266.0" font-size="36.00" xml:space="preserve">0</text>
<text transform="translate(1468.5,1150.0) rotate(-90)" font-size="49.64" xml:space="preserve">PPR</text>
<text x="1600.8" y="1312.2" font-size="42.90" xml:space="preserve">WT</text>
<text x="1754.3" y="1315.5" font-size="42.16" xml:space="preserve">dnSNARE</text>
<rect x="326.9" y="1519.4" width="127.6" height="320.5" fill="#e6e6e6" stroke="none" stroke-width="0" />
<rect x="187.7" y="1501.6" width="281.3" height="9.6" fill="#7b0080" stroke="none" stroke-width="0" />
<line x1="167.8" y1="1482.0" x2="167.8" y2="1796.5" stroke="#1a1a1a" stroke-width="1.9" stroke-linecap="butt" />
<line x1="150.3" y1="1483.0" x2="167.8" y2="1483.0" stroke="#1a1a1a" stroke-width="1.9" stroke-linecap="butt" />
<line x1="156.3" y1="1561.2" x2="167.8" y2="1561.2" stroke="#1a1a1a" stroke-width="1.9" stroke-linecap="butt" />
<line x1="150.3" y1="1638.8" x2="167.8" y2="1638.8" stroke="#1a1a1a" stroke-width="1.9" stroke-linecap="butt" />
<line x1="156.3" y1="1716.9" x2="167.8" y2="1716.9" stroke="#1a1a1a" stroke-width="1.9" stroke-linecap="butt" />
<line x1="150.3" y1="1795.5" x2="167.8" y2="1795.5" stroke="#1a1a1a" stroke-width="1.9" stroke-linecap="butt" />
<line x1="319.7" y1="1848.0" x2="1072.4" y2="1848.0" stroke="#1a1a1a" stroke-width="1.9" stroke-linecap="butt" />
<line x1="320.6" y1="1848.0" x2="320.6" y2="1863.0" stroke="#1a1a1a" stroke-width="1.9" stroke-linecap="butt" />
<line x1="508.3" y1="1848.0" x2="508.3" y2="1863.0" stroke="#1a1a1a" stroke-width="1.9" stroke-linecap="butt" />
<line x1="696.0" y1="1848.0" x2="696.0" y2="1863.0" stroke="#1a1a1a" stroke-width="1.9" stroke-linecap="butt" />
<line x1="883.7" y1="1848.0" x2="883.7" y2="1863.0" stroke="#1a1a1a" stroke-width="1.9" stroke-linecap="butt" />
<line x1="1071.4" y1="1848.0" x2="1071.4" y2="1863.0" stroke="#1a1a1a" stroke-width="1.9" stroke-linecap="butt" />
<path d="M186.9,1531.4V1576.4M181.3,1531.4h11.2M181.3,1576.4h11.2M196.4,1530.3V1577.4M190.8,1530.3h11.2M190.8,1577.4h11.2M205.9,1528.7V1581.0M200.3,1528.7h11.2M200.3,1581.0h11.2M215.4,1543.4V1587.0M209.8,1543.4h11.2M209.8,1587.0h11.2M224.9,1540.9V1577.4M219.3,1540.9h11.2M219.3,1577.4h11.2M234.4,1534.8V1588.3M228.8,1534.8h11.2M228.8,1588.3h11.2M243.9,1536.0V1585.0M238.3,1536.0h11.2M238.3,1585.0h11.2M253.4,1540.5V1591.0M247.8,1540.5h11.2M247.8,1591.0h11.2M262.9,1540.4V1590.1M257.3,1540.4h11.2M257.3,1590.1h11.2M272.4,1533.4V1591.3M266.8,1533.4h11.2M266.8,1591.3h11.2M281.9,1543.6V1587.3M276.3,1543.6h11.2M276.3,1587.3h11.2M291.4,1536.3V1589.3M285.8,1536.3h11.2M285.8,1589.3h11.2M300.9,1546.6V1590.4M295.3,1546.6h11.2M295.3,1590.4h11.2M310.4,1543.7V1592.3M304.8,1543.7h11.2M304.8,1592.3h11.2M319.9,1535.2V1585.8M314.3,1535.2h11.2M314.3,1585.8h11.2" stroke="#000" stroke-width="3.2" stroke-linecap="round" fill="none"/>
<g fill="#e9eaec" stroke="#000" stroke-width="4.4" stroke-linejoin="round" stroke-linecap="round"><circle cx="186.9" cy="1553.9" r="6.6"/><circle cx="196.4" cy="1553.9" r="6.6"/><circle cx="205.9" cy="1554.8" r="6.6"/><circle cx="215.4" cy="1565.2" r="6.6"/><circle cx="224.9" cy="1559.2" r="6.6"/><circle cx="234.4" cy="1561.5" r="6.6"/><circle cx="243.9" cy="1560.5" r="6.6"/><circle cx="253.4" cy="1565.8" r="6.6"/><circle cx="262.9" cy="1565.3" r="6.6"/><circle cx="272.4" cy="1562.4" r="6.6"/><circle cx="281.9" cy="1565.5" r="6.6"/><circle cx="291.4" cy="1562.8" r="6.6"/><circle cx="300.9" cy="1568.5" r="6.6"/><circle cx="310.4" cy="1568.0" r="6.6"/><circle cx="319.9" cy="1560.5" r="6.6"/></g>
<path d="M459.4,1772.8V1824.1M453.8,1772.8h11.2M453.8,1824.1h11.2M468.8,1758.7V1797.2M463.2,1758.7h11.2M463.2,1797.2h11.2M478.2,1742.9V1804.4M472.6,1742.9h11.2M472.6,1804.4h11.2M487.6,1719.0V1797.9M482.0,1719.0h11.2M482.0,1797.9h11.2M497.0,1705.6V1787.3M491.4,1705.6h11.2M491.4,1787.3h11.2M506.4,1697.2V1781.1M500.8,1697.2h11.2M500.8,1781.1h11.2M515.8,1695.2V1786.7M510.2,1695.2h11.2M510.2,1786.7h11.2M525.2,1701.0V1774.5M519.6,1701.0h11.2M519.6,1774.5h11.2M534.6,1702.5V1775.9M529.0,1702.5h11.2M529.0,1775.9h11.2M544.0,1705.5V1784.5M538.4,1705.5h11.2M538.4,1784.5h11.2M553.4,1682.2V1780.4M547.8,1682.2h11.2M547.8,1780.4h11.2M562.9,1690.1V1762.6M557.3,1690.1h11.2M557.3,1762.6h11.2M572.3,1691.0V1758.7M566.7,1691.0h11.2M566.7,1758.7h11.2M581.7,1691.2V1756.8M576.1,1691.2h11.2M576.1,1756.8h11.2M591.1,1710.1V1771.8M585.5,1710.1h11.2M585.5,1771.8h11.2M600.5,1703.0V1772.4M594.9,1703.0h11.2M594.9,1772.4h11.2M609.9,1712.1V1794.3M604.3,1712.1h11.2M604.3,1794.3h11.2M619.3,1688.2V1781.4M613.7,1688.2h11.2M613.7,1781.4h11.2M628.7,1707.6V1783.0M623.1,1707.6h11.2M623.1,1783.0h11.2M638.1,1696.6V1774.8M632.5,1696.6h11.2M632.5,1774.8h11.2M647.5,1696.6V1773.0M641.9,1696.6h11.2M641.9,1773.0h11.2M656.9,1679.9V1758.2M651.3,1679.9h11.2M651.3,1758.2h11.2M666.3,1691.6V1790.3M660.7,1691.6h11.2M660.7,1790.3h11.2M675.7,1686.0V1777.8M670.1,1686.0h11.2M670.1,1777.8h11.2M685.1,1698.9V1781.2M679.5,1698.9h11.2M679.5,1781.2h11.2M694.5,1703.8V1782.2M688.9,1703.8h11.2M688.9,1782.2h11.2M703.9,1696.8V1800.8M698.3,1696.8h11.2M698.3,1800.8h11.2M713.3,1680.6V1780.8M707.7,1680.6h11.2M707.7,1780.8h11.2M722.7,1687.9V1792.2M717.1,1687.9h11.2M717.1,1792.2h11.2M732.1,1699.0V1779.4M726.5,1699.0h11.2M726.5,1779.4h11.2M741.5,1698.6V1790.2M735.9,1698.6h11.2M735.9,1790.2h11.2M751.0,1686.5V1791.9M745.4,1686.5h11.2M745.4,1791.9h11.2M760.4,1697.9V1789.8M754.8,1697.9h11.2M754.8,1789.8h11.2M769.8,1695.8V1800.7M764.2,1695.8h11.2M764.2,1800.7h11.2M779.2,1711.4V1785.1M773.6,1711.4h11.2M773.6,1785.1h11.2M788.6,1687.8V1792.3M783.0,1687.8h11.2M783.0,1792.3h11.2M798.0,1707.6V1776.6M792.4,1707.6h11.2M792.4,1776.6h11.2M807.4,1704.8V1788.2M801.8,1704.8h11.2M801.8,1788.2h11.2M816.8,1708.7V1777.2M811.2,1708.7h11.2M811.2,1777.2h11.2M826.2,1690.3V1789.8M820.6,1690.3h11.2M820.6,1789.8h11.2M835.6,1697.4V1792.6M830.0,1697.4h11.2M830.0,1792.6h11.2M845.0,1693.1V1799.9M839.4,1693.1h11.2M839.4,1799.9h11.2M854.4,1695.6V1796.2M848.8,1695.6h11.2M848.8,1796.2h11.2M863.8,1694.1V1800.6M858.2,1694.1h11.2M858.2,1800.6h11.2M873.2,1696.0V1787.0M867.6,1696.0h11.2M867.6,1787.0h11.2M882.6,1692.0V1800.9M877.0,1692.0h11.2M877.0,1800.9h11.2M892.0,1699.8V1797.8M886.4,1699.8h11.2M886.4,1797.8h11.2M901.4,1707.0V1787.7M895.8,1707.0h11.2M895.8,1787.7h11.2M910.8,1692.6V1796.3M905.2,1692.6h11.2M905.2,1796.3h11.2M920.2,1710.0V1788.8M914.6,1710.0h11.2M914.6,1788.8h11.2M929.6,1712.3V1782.4M924.0,1712.3h11.2M924.0,1782.4h11.2M939.1,1716.9V1780.8M933.5,1716.9h11.2M933.5,1780.8h11.2M948.5,1707.7V1785.3M942.9,1707.7h11.2M942.9,1785.3h11.2M957.9,1715.5V1781.0M952.3,1715.5h11.2M952.3,1781.0h11.2M967.3,1699.0V1791.7M961.7,1699.0h11.2M961.7,1791.7h11.2M976.7,1701.4V1793.3M971.1,1701.4h11.2M971.1,1793.3h11.2M986.1,1715.5V1777.5M980.5,1715.5h11.2M980.5,1777.5h11.2M995.5,1716.2V1772.7M989.9,1716.2h11.2M989.9,1772.7h11.2M1004.9,1710.5V1782.5M999.3,1710.5h11.2M999.3,1782.5h11.2M1014.3,1716.9V1773.7M1008.7,1716.9h11.2M1008.7,1773.7h11.2M1023.7,1704.9V1775.2M1018.1,1704.9h11.2M1018.1,1775.2h11.2M1033.1,1699.3V1779.0M1027.5,1699.3h11.2M1027.5,1779.0h11.2M1042.5,1710.8V1767.6M1036.9,1710.8h11.2M1036.9,1767.6h11.2" stroke="#000" stroke-width="3.2" stroke-linecap="round" fill="none"/>
<g fill="#e9eaec" stroke="#000" stroke-width="4.4" stroke-linejoin="round" stroke-linecap="round"><circle cx="459.4" cy="1798.4" r="6.6"/><circle cx="468.8" cy="1778.0" r="6.6"/><circle cx="478.2" cy="1773.6" r="6.6"/><circle cx="487.6" cy="1758.4" r="6.6"/><circle cx="497.0" cy="1746.5" r="6.6"/><circle cx="506.4" cy="1739.2" r="6.6"/><circle cx="515.8" cy="1740.9" r="6.6"/><circle cx="525.2" cy="1737.7" r="6.6"/><circle cx="534.6" cy="1739.2" r="6.6"/><circle cx="544.0" cy="1745.0" r="6.6"/><circle cx="553.4" cy="1731.3" r="6.6"/><circle cx="562.9" cy="1726.3" r="6.6"/><circle cx="572.3" cy="1724.9" r="6.6"/><circle cx="581.7" cy="1724.0" r="6.6"/><circle cx="591.1" cy="1740.9" r="6.6"/><circle cx="600.5" cy="1737.7" r="6.6"/><circle cx="609.9" cy="1753.2" r="6.6"/><circle cx="619.3" cy="1734.8" r="6.6"/><circle cx="628.7" cy="1745.3" r="6.6"/><circle cx="638.1" cy="1735.7" r="6.6"/><circle cx="647.5" cy="1734.8" r="6.6"/><circle cx="656.9" cy="1719.0" r="6.6"/><circle cx="666.3" cy="1740.9" r="6.6"/><circle cx="675.7" cy="1731.9" r="6.6"/><circle cx="685.1" cy="1740.1" r="6.6"/><circle cx="694.5" cy="1743.0" r="6.6"/><circle cx="703.9" cy="1748.8" r="6.6"/><circle cx="713.3" cy="1730.7" r="6.6"/><circle cx="722.7" cy="1740.1" r="6.6"/><circle cx="732.1" cy="1739.2" r="6.6"/><circle cx="741.5" cy="1744.4" r="6.6"/><circle cx="751.0" cy="1739.2" r="6.6"/><circle cx="760.4" cy="1743.8" r="6.6"/><circle cx="769.8" cy="1748.2" r="6.6"/><circle cx="779.2" cy="1748.2" r="6.6"/><circle cx="788.6" cy="1740.1" r="6.6"/><circle cx="798.0" cy="1742.1" r="6.6"/><circle cx="807.4" cy="1746.5" r="6.6"/><circle cx="816.8" cy="1743.0" r="6.6"/><circle cx="826.2" cy="1740.1" r="6.6"/><circle cx="835.6" cy="1745.0" r="6.6"/><circle cx="845.0" cy="1746.5" r="6.6"/><circle cx="854.4" cy="1745.9" r="6.6"/><circle cx="863.8" cy="1747.3" r="6.6"/><circle cx="873.2" cy="1741.5" r="6.6"/><circle cx="882.6" cy="1746.5" r="6.6"/><circle cx="892.0" cy="1748.8" r="6.6"/><circle cx="901.4" cy="1747.3" r="6.6"/><circle cx="910.8" cy="1744.4" r="6.6"/><circle cx="920.2" cy="1749.4" r="6.6"/><circle cx="929.6" cy="1747.3" r="6.6"/><circle cx="939.1" cy="1748.8" r="6.6"/><circle cx="948.5" cy="1746.5" r="6.6"/><circle cx="957.9" cy="1748.2" r="6.6"/><circle cx="967.3" cy="1745.3" r="6.6"/><circle cx="976.7" cy="1747.3" r="6.6"/><circle cx="986.1" cy="1746.5" r="6.6"/><circle cx="995.5" cy="1744.4" r="6.6"/><circle cx="1004.9" cy="1746.5" r="6.6"/><circle cx="1014.3" cy="1745.3" r="6.6"/><circle cx="1023.7" cy="1740.1" r="6.6"/><circle cx="1033.1" cy="1739.2" r="6.6"/><circle cx="1042.5" cy="1739.2" r="6.6"/></g>
<path d="M186.9,1536.6V1586.8M181.3,1536.6h11.2M181.3,1586.8h11.2M196.4,1535.3V1581.3M190.8,1535.3h11.2M190.8,1581.3h11.2M205.9,1538.6V1584.5M200.3,1538.6h11.2M200.3,1584.5h11.2M215.4,1536.6V1587.9M209.8,1536.6h11.2M209.8,1587.9h11.2M224.9,1539.7V1577.0M219.3,1539.7h11.2M219.3,1577.0h11.2M234.4,1535.2V1582.7M228.8,1535.2h11.2M228.8,1582.7h11.2M243.9,1537.5V1579.2M238.3,1537.5h11.2M238.3,1579.2h11.2M253.4,1536.8V1582.9M247.8,1536.8h11.2M247.8,1582.9h11.2M262.9,1536.0V1587.5M257.3,1536.0h11.2M257.3,1587.5h11.2M272.4,1539.8V1579.8M266.8,1539.8h11.2M266.8,1579.8h11.2M281.9,1532.0V1585.7M276.3,1532.0h11.2M276.3,1585.7h11.2M291.4,1541.8V1578.5M285.8,1541.8h11.2M285.8,1578.5h11.2M300.9,1539.9V1586.0M295.3,1539.9h11.2M295.3,1586.0h11.2M310.4,1539.7V1585.4M304.8,1539.7h11.2M304.8,1585.4h11.2M319.9,1541.9V1581.6M314.3,1541.9h11.2M314.3,1581.6h11.2" stroke="#7b0080" stroke-width="3.2" stroke-linecap="round" fill="none"/>
<g fill="#fad4f4" stroke="#7b0080" stroke-width="4.4" stroke-linejoin="round" stroke-linecap="round"><rect x="180.1" y="1554.9" width="13.6" height="13.6"/><rect x="189.6" y="1551.5" width="13.6" height="13.6"/><rect x="199.1" y="1554.7" width="13.6" height="13.6"/><rect x="208.6" y="1555.4" width="13.6" height="13.6"/><rect x="218.1" y="1551.6" width="13.6" height="13.6"/><rect x="227.6" y="1552.1" width="13.6" height="13.6"/><rect x="237.1" y="1551.6" width="13.6" height="13.6"/><rect x="246.6" y="1553.0" width="13.6" height="13.6"/><rect x="256.1" y="1555.0" width="13.6" height="13.6"/><rect x="265.6" y="1553.0" width="13.6" height="13.6"/><rect x="275.1" y="1552.0" width="13.6" height="13.6"/><rect x="284.6" y="1553.4" width="13.6" height="13.6"/><rect x="294.1" y="1556.2" width="13.6" height="13.6"/><rect x="303.6" y="1555.8" width="13.6" height="13.6"/><rect x="313.1" y="1555.0" width="13.6" height="13.6"/></g>
<path d="M459.4,1611.7V1658.1M453.8,1611.7h11.2M453.8,1658.1h11.2M468.8,1596.5V1659.0M463.2,1596.5h11.2M463.2,1659.0h11.2M478.2,1597.5V1642.6M472.6,1597.5h11.2M472.6,1642.6h11.2M487.6,1580.2V1640.5M482.0,1580.2h11.2M482.0,1640.5h11.2M497.0,1585.4V1637.6M491.4,1585.4h11.2M491.4,1637.6h11.2M506.4,1579.1V1638.0M500.8,1579.1h11.2M500.8,1638.0h11.2M515.8,1580.4V1630.2M510.2,1580.4h11.2M510.2,1630.2h11.2M525.2,1587.1V1631.9M519.6,1587.1h11.2M519.6,1631.9h11.2M534.6,1571.8V1636.2M529.0,1571.8h11.2M529.0,1636.2h11.2M544.0,1579.2V1637.5M538.4,1579.2h11.2M538.4,1637.5h11.2M553.4,1581.1V1628.1M547.8,1581.1h11.2M547.8,1628.1h11.2M562.9,1574.9V1640.7M557.3,1574.9h11.2M557.3,1640.7h11.2M572.3,1573.4V1637.7M566.7,1573.4h11.2M566.7,1637.7h11.2M581.7,1581.7V1629.0M576.1,1581.7h11.2M576.1,1629.0h11.2M591.1,1585.7V1629.1M585.5,1585.7h11.2M585.5,1629.1h11.2M600.5,1574.1V1631.3M594.9,1574.1h11.2M594.9,1631.3h11.2M609.9,1581.3V1627.6M604.3,1581.3h11.2M604.3,1627.6h11.2M619.3,1573.1V1633.2M613.7,1573.1h11.2M613.7,1633.2h11.2M628.7,1577.4V1631.4M623.1,1577.4h11.2M623.1,1631.4h11.2M638.1,1574.7V1634.3M632.5,1574.7h11.2M632.5,1634.3h11.2M647.5,1576.7V1633.1M641.9,1576.7h11.2M641.9,1633.1h11.2M656.9,1576.2V1637.2M651.3,1576.2h11.2M651.3,1637.2h11.2M666.3,1571.6V1633.8M660.7,1571.6h11.2M660.7,1633.8h11.2M675.7,1580.0V1637.1M670.1,1580.0h11.2M670.1,1637.1h11.2M685.1,1574.8V1631.6M679.5,1574.8h11.2M679.5,1631.6h11.2M694.5,1578.2V1628.8M688.9,1578.2h11.2M688.9,1628.8h11.2M703.9,1583.2V1629.3M698.3,1583.2h11.2M698.3,1629.3h11.2M713.3,1581.9V1627.1M707.7,1581.9h11.2M707.7,1627.1h11.2M722.7,1573.9V1637.0M717.1,1573.9h11.2M717.1,1637.0h11.2M732.1,1582.2V1630.0M726.5,1582.2h11.2M726.5,1630.0h11.2M741.5,1582.0V1635.0M735.9,1582.0h11.2M735.9,1635.0h11.2M751.0,1583.3V1633.7M745.4,1583.3h11.2M745.4,1633.7h11.2M760.4,1579.7V1637.2M754.8,1579.7h11.2M754.8,1637.2h11.2M769.8,1581.3V1636.7M764.2,1581.3h11.2M764.2,1636.7h11.2M779.2,1573.0V1636.1M773.6,1573.0h11.2M773.6,1636.1h11.2M788.6,1582.5V1635.7M783.0,1582.5h11.2M783.0,1635.7h11.2M798.0,1583.1V1634.5M792.4,1583.1h11.2M792.4,1634.5h11.2M807.4,1579.5V1637.7M801.8,1579.5h11.2M801.8,1637.7h11.2M816.8,1575.6V1636.0M811.2,1575.6h11.2M811.2,1636.0h11.2M826.2,1575.8V1640.5M820.6,1575.8h11.2M820.6,1640.5h11.2M835.6,1582.5V1632.8M830.0,1582.5h11.2M830.0,1632.8h11.2M845.0,1577.9V1641.6M839.4,1577.9h11.2M839.4,1641.6h11.2M854.4,1576.6V1642.6M848.8,1576.6h11.2M848.8,1642.6h11.2M863.8,1577.9V1643.9M858.2,1577.9h11.2M858.2,1643.9h11.2M873.2,1587.0V1633.0M867.6,1587.0h11.2M867.6,1633.0h11.2M882.6,1583.7V1635.6M877.0,1583.7h11.2M877.0,1635.6h11.2M892.0,1575.0V1636.1M886.4,1575.0h11.2M886.4,1636.1h11.2M901.4,1576.8V1639.2M895.8,1576.8h11.2M895.8,1639.2h11.2M910.8,1588.8V1632.7M905.2,1588.8h11.2M905.2,1632.7h11.2M920.2,1582.2V1634.4M914.6,1582.2h11.2M914.6,1634.4h11.2M929.6,1580.7V1640.6M924.0,1580.7h11.2M924.0,1640.6h11.2M939.1,1577.2V1637.9M933.5,1577.2h11.2M933.5,1637.9h11.2M948.5,1580.7V1636.2M942.9,1580.7h11.2M942.9,1636.2h11.2M957.9,1581.5V1629.4M952.3,1581.5h11.2M952.3,1629.4h11.2M967.3,1583.5V1636.0M961.7,1583.5h11.2M961.7,1636.0h11.2M976.7,1583.4V1627.7M971.1,1583.4h11.2M971.1,1627.7h11.2M986.1,1584.9V1635.2M980.5,1584.9h11.2M980.5,1635.2h11.2M995.5,1578.7V1631.7M989.9,1578.7h11.2M989.9,1631.7h11.2M1004.9,1576.8V1639.0M999.3,1576.8h11.2M999.3,1639.0h11.2M1014.3,1584.0V1640.7M1008.7,1584.0h11.2M1008.7,1640.7h11.2M1023.7,1580.9V1633.6M1018.1,1580.9h11.2M1018.1,1633.6h11.2M1033.1,1586.9V1635.6M1027.5,1586.9h11.2M1027.5,1635.6h11.2M1042.5,1585.8V1636.1M1036.9,1585.8h11.2M1036.9,1636.1h11.2" stroke="#7b0080" stroke-width="3.2" stroke-linecap="round" fill="none"/>
<g fill="#fad4f4" stroke="#7b0080" stroke-width="4.4" stroke-linejoin="round" stroke-linecap="round"><rect x="452.6" y="1628.1" width="13.6" height="13.6"/><rect x="462.0" y="1620.9" width="13.6" height="13.6"/><rect x="471.4" y="1613.3" width="13.6" height="13.6"/><rect x="480.8" y="1603.6" width="13.6" height="13.6"/><rect x="490.2" y="1604.7" width="13.6" height="13.6"/><rect x="499.6" y="1601.7" width="13.6" height="13.6"/><rect x="509.0" y="1598.5" width="13.6" height="13.6"/><rect x="518.4" y="1602.7" width="13.6" height="13.6"/><rect x="527.8" y="1597.2" width="13.6" height="13.6"/><rect x="537.2" y="1601.5" width="13.6" height="13.6"/><rect x="546.6" y="1597.8" width="13.6" height="13.6"/><rect x="556.1" y="1601.0" width="13.6" height="13.6"/><rect x="565.5" y="1598.7" width="13.6" height="13.6"/><rect x="574.9" y="1598.6" width="13.6" height="13.6"/><rect x="584.3" y="1600.6" width="13.6" height="13.6"/><rect x="593.7" y="1595.9" width="13.6" height="13.6"/><rect x="603.1" y="1597.6" width="13.6" height="13.6"/><rect x="612.5" y="1596.4" width="13.6" height="13.6"/><rect x="621.9" y="1597.6" width="13.6" height="13.6"/><rect x="631.3" y="1597.7" width="13.6" height="13.6"/><rect x="640.7" y="1598.1" width="13.6" height="13.6"/><rect x="650.1" y="1599.9" width="13.6" height="13.6"/><rect x="659.5" y="1595.9" width="13.6" height="13.6"/><rect x="668.9" y="1601.8" width="13.6" height="13.6"/><rect x="678.3" y="1596.4" width="13.6" height="13.6"/><rect x="687.7" y="1596.7" width="13.6" height="13.6"/><rect x="697.1" y="1599.5" width="13.6" height="13.6"/><rect x="706.5" y="1597.7" width="13.6" height="13.6"/><rect x="715.9" y="1598.6" width="13.6" height="13.6"/><rect x="725.3" y="1599.3" width="13.6" height="13.6"/><rect x="734.8" y="1601.7" width="13.6" height="13.6"/><rect x="744.2" y="1601.7" width="13.6" height="13.6"/><rect x="753.6" y="1601.7" width="13.6" height="13.6"/><rect x="763.0" y="1602.2" width="13.6" height="13.6"/><rect x="772.4" y="1597.8" width="13.6" height="13.6"/><rect x="781.8" y="1602.3" width="13.6" height="13.6"/><rect x="791.2" y="1602.0" width="13.6" height="13.6"/><rect x="800.6" y="1601.8" width="13.6" height="13.6"/><rect x="810.0" y="1599.0" width="13.6" height="13.6"/><rect x="819.4" y="1601.4" width="13.6" height="13.6"/><rect x="828.8" y="1600.8" width="13.6" height="13.6"/><rect x="838.2" y="1602.9" width="13.6" height="13.6"/><rect x="847.6" y="1602.8" width="13.6" height="13.6"/><rect x="857.0" y="1604.1" width="13.6" height="13.6"/><rect x="866.4" y="1603.2" width="13.6" height="13.6"/><rect x="875.8" y="1602.9" width="13.6" height="13.6"/><rect x="885.2" y="1598.7" width="13.6" height="13.6"/><rect x="894.6" y="1601.2" width="13.6" height="13.6"/><rect x="904.0" y="1604.0" width="13.6" height="13.6"/><rect x="913.4" y="1601.5" width="13.6" height="13.6"/><rect x="922.8" y="1603.9" width="13.6" height="13.6"/><rect x="932.3" y="1600.7" width="13.6" height="13.6"/><rect x="941.7" y="1601.6" width="13.6" height="13.6"/><rect x="951.1" y="1598.7" width="13.6" height="13.6"/><rect x="960.5" y="1602.9" width="13.6" height="13.6"/><rect x="969.9" y="1598.7" width="13.6" height="13.6"/><rect x="979.3" y="1603.3" width="13.6" height="13.6"/><rect x="988.7" y="1598.4" width="13.6" height="13.6"/><rect x="998.1" y="1601.1" width="13.6" height="13.6"/><rect x="1007.5" y="1605.5" width="13.6" height="13.6"/><rect x="1016.9" y="1600.4" width="13.6" height="13.6"/><rect x="1026.3" y="1604.5" width="13.6" height="13.6"/><rect x="1035.7" y="1604.1" width="13.6" height="13.6"/></g>
<rect x="1208.5" y="1522.7" width="127.3" height="314.6" fill="#e6e6e6" stroke="none" stroke-width="0" />
<rect x="1186.0" y="1502.2" width="162.0" height="9.6" fill="#0033a0" stroke="none" stroke-width="0" />
<line x1="1204.6" y1="1848.0" x2="1957.3" y2="1848.0" stroke="#1a1a1a" stroke-width="1.9" stroke-linecap="butt" />
<line x1="1205.6" y1="1848.0" x2="1205.6" y2="1863.0" stroke="#1a1a1a" stroke-width="1.9" stroke-linecap="butt" />
<line x1="1393.3" y1="1848.0" x2="1393.3" y2="1863.0" stroke="#1a1a1a" stroke-width="1.9" stroke-linecap="butt" />
<line x1="1581.0" y1="1848.0" x2="1581.0" y2="1863.0" stroke="#1a1a1a" stroke-width="1.9" stroke-linecap="butt" />
<line x1="1768.7" y1="1848.0" x2="1768.7" y2="1863.0" stroke="#1a1a1a" stroke-width="1.9" stroke-linecap="butt" />
<line x1="1956.4" y1="1848.0" x2="1956.4" y2="1863.0" stroke="#1a1a1a" stroke-width="1.9" stroke-linecap="butt" />
<path d="M1075.0,1535.3V1579.0M1069.4,1535.3h11.2M1069.4,1579.0h11.2M1084.4,1546.9V1581.9M1078.8,1546.9h11.2M1078.8,1581.9h11.2M1093.7,1555.3V1590.1M1088.1,1555.3h11.2M1088.1,1590.1h11.2M1103.1,1545.2V1573.7M1097.5,1545.2h11.2M1097.5,1573.7h11.2M1112.4,1553.2V1581.2M1106.8,1553.2h11.2M1106.8,1581.2h11.2M1121.8,1542.5V1577.4M1116.2,1542.5h11.2M1116.2,1577.4h11.2M1131.1,1548.8V1595.2M1125.5,1548.8h11.2M1125.5,1595.2h11.2M1140.5,1547.1V1588.9M1134.9,1547.1h11.2M1134.9,1588.9h11.2M1149.8,1550.1V1591.2M1144.2,1550.1h11.2M1144.2,1591.2h11.2M1159.2,1544.3V1584.7M1153.6,1544.3h11.2M1153.6,1584.7h11.2M1168.5,1538.9V1571.6M1162.9,1538.9h11.2M1162.9,1571.6h11.2M1177.9,1541.4V1572.0M1172.3,1541.4h11.2M1172.3,1572.0h11.2M1187.2,1547.6V1586.7M1181.6,1547.6h11.2M1181.6,1586.7h11.2M1196.6,1561.2V1589.8M1191.0,1561.2h11.2M1191.0,1589.8h11.2M1205.9,1567.6V1606.4M1200.3,1567.6h11.2M1200.3,1606.4h11.2" stroke="#d2050f" stroke-width="3.2" stroke-linecap="round" fill="none"/>
<g fill="#fbd3da" stroke="#d2050f" stroke-width="4.4" stroke-linejoin="round" stroke-linecap="round"><path d="M1067.4,1552.5h15.2l-7.6,13.9z"/><path d="M1076.8,1559.8h15.2l-7.6,13.9z"/><path d="M1086.1,1568.1h15.2l-7.6,13.9z"/><path d="M1095.5,1554.9h15.2l-7.6,13.9z"/><path d="M1104.8,1562.6h15.2l-7.6,13.9z"/><path d="M1114.2,1555.3h15.2l-7.6,13.9z"/><path d="M1123.5,1567.4h15.2l-7.6,13.9z"/><path d="M1132.9,1563.4h15.2l-7.6,13.9z"/><path d="M1142.2,1566.0h15.2l-7.6,13.9z"/><path d="M1151.6,1559.9h15.2l-7.6,13.9z"/><path d="M1160.9,1550.6h15.2l-7.6,13.9z"/><path d="M1170.3,1552.1h15.2l-7.6,13.9z"/><path d="M1179.6,1562.5h15.2l-7.6,13.9z"/><path d="M1189.0,1570.9h15.2l-7.6,13.9z"/><path d="M1198.3,1582.4h15.2l-7.6,13.9z"/></g>
<path d="M1339.3,1669.2V1711.7M1333.7,1669.2h11.2M1333.7,1711.7h11.2M1348.7,1662.2V1718.7M1343.1,1662.2h11.2M1343.1,1718.7h11.2M1358.1,1639.5V1696.8M1352.5,1639.5h11.2M1352.5,1696.8h11.2M1367.5,1651.6V1694.1M1361.9,1651.6h11.2M1361.9,1694.1h11.2M1376.9,1647.4V1702.2M1371.3,1647.4h11.2M1371.3,1702.2h11.2M1386.2,1639.8V1681.7M1380.7,1639.8h11.2M1380.7,1681.7h11.2M1395.6,1626.1V1668.1M1390.0,1626.1h11.2M1390.0,1668.1h11.2M1405.0,1630.5V1684.8M1399.4,1630.5h11.2M1399.4,1684.8h11.2M1414.4,1637.0V1690.0M1408.8,1637.0h11.2M1408.8,1690.0h11.2M1423.8,1611.5V1668.6M1418.2,1611.5h11.2M1418.2,1668.6h11.2M1433.2,1626.0V1677.5M1427.6,1626.0h11.2M1427.6,1677.5h11.2M1442.6,1623.1V1672.6M1437.0,1623.1h11.2M1437.0,1672.6h11.2M1452.0,1621.3V1666.6M1446.4,1621.3h11.2M1446.4,1666.6h11.2M1461.4,1612.9V1663.3M1455.8,1612.9h11.2M1455.8,1663.3h11.2M1470.8,1621.0V1678.6M1465.2,1621.0h11.2M1465.2,1678.6h11.2M1480.2,1618.1V1669.8M1474.6,1618.1h11.2M1474.6,1669.8h11.2M1489.5,1600.9V1656.5M1483.9,1600.9h11.2M1483.9,1656.5h11.2M1498.9,1629.8V1673.8M1493.3,1629.8h11.2M1493.3,1673.8h11.2M1508.3,1596.2V1649.5M1502.7,1596.2h11.2M1502.7,1649.5h11.2M1517.7,1579.1V1632.3M1512.1,1579.1h11.2M1512.1,1632.3h11.2M1527.1,1603.9V1645.7M1521.5,1603.9h11.2M1521.5,1645.7h11.2M1536.5,1612.7V1667.4M1530.9,1612.7h11.2M1530.9,1667.4h11.2M1545.9,1595.2V1638.8M1540.3,1595.2h11.2M1540.3,1638.8h11.2M1555.3,1619.8V1664.2M1549.7,1619.8h11.2M1549.7,1664.2h11.2M1564.7,1600.1V1641.7M1559.1,1600.1h11.2M1559.1,1641.7h11.2M1574.0,1589.0V1641.0M1568.5,1589.0h11.2M1568.5,1641.0h11.2M1583.4,1622.4V1665.5M1577.8,1622.4h11.2M1577.8,1665.5h11.2M1592.8,1594.2V1651.6M1587.2,1594.2h11.2M1587.2,1651.6h11.2M1602.2,1612.3V1652.9M1596.6,1612.3h11.2M1596.6,1652.9h11.2M1611.6,1603.4V1657.9M1606.0,1603.4h11.2M1606.0,1657.9h11.2M1621.0,1603.8V1657.5M1615.4,1603.8h11.2M1615.4,1657.5h11.2M1630.4,1595.7V1646.1M1624.8,1595.7h11.2M1624.8,1646.1h11.2M1639.8,1582.4V1632.8M1634.2,1582.4h11.2M1634.2,1632.8h11.2M1649.2,1620.7V1675.0M1643.6,1620.7h11.2M1643.6,1675.0h11.2M1658.6,1599.0V1650.6M1653.0,1599.0h11.2M1653.0,1650.6h11.2M1668.0,1574.4V1617.4M1662.4,1574.4h11.2M1662.4,1617.4h11.2M1677.3,1593.7V1648.1M1671.7,1593.7h11.2M1671.7,1648.1h11.2M1686.7,1589.7V1636.4M1681.1,1589.7h11.2M1681.1,1636.4h11.2M1696.1,1603.4V1654.0M1690.5,1603.4h11.2M1690.5,1654.0h11.2M1705.5,1594.2V1643.7M1699.9,1594.2h11.2M1699.9,1643.7h11.2M1714.9,1583.1V1639.2M1709.3,1583.1h11.2M1709.3,1639.2h11.2M1724.3,1575.9V1623.7M1718.7,1575.9h11.2M1718.7,1623.7h11.2M1733.7,1585.4V1640.7M1728.1,1585.4h11.2M1728.1,1640.7h11.2M1743.1,1584.7V1626.7M1737.5,1584.7h11.2M1737.5,1626.7h11.2M1752.5,1584.5V1630.7M1746.9,1584.5h11.2M1746.9,1630.7h11.2M1761.8,1598.7V1650.9M1756.2,1598.7h11.2M1756.2,1650.9h11.2M1771.2,1558.6V1609.8M1765.6,1558.6h11.2M1765.6,1609.8h11.2M1780.6,1587.6V1642.5M1775.0,1587.6h11.2M1775.0,1642.5h11.2M1790.0,1591.0V1635.2M1784.4,1591.0h11.2M1784.4,1635.2h11.2M1799.4,1599.5V1654.0M1793.8,1599.5h11.2M1793.8,1654.0h11.2M1808.8,1580.5V1634.8M1803.2,1580.5h11.2M1803.2,1634.8h11.2M1818.2,1591.6V1634.6M1812.6,1591.6h11.2M1812.6,1634.6h11.2M1827.6,1580.2V1623.3M1822.0,1580.2h11.2M1822.0,1623.3h11.2M1837.0,1574.5V1625.1M1831.4,1574.5h11.2M1831.4,1625.1h11.2M1846.4,1594.2V1651.5M1840.8,1594.2h11.2M1840.8,1651.5h11.2M1855.8,1564.5V1615.6M1850.2,1564.5h11.2M1850.2,1615.6h11.2M1865.1,1571.9V1619.9M1859.5,1571.9h11.2M1859.5,1619.9h11.2M1874.5,1565.4V1614.7M1868.9,1565.4h11.2M1868.9,1614.7h11.2M1883.9,1564.7V1619.3M1878.3,1564.7h11.2M1878.3,1619.3h11.2M1893.3,1588.3V1637.9M1887.7,1588.3h11.2M1887.7,1637.9h11.2M1902.7,1574.9V1624.7M1897.1,1574.9h11.2M1897.1,1624.7h11.2M1912.1,1585.7V1636.5M1906.5,1585.7h11.2M1906.5,1636.5h11.2M1921.5,1580.9V1637.5M1915.9,1580.9h11.2M1915.9,1637.5h11.2" stroke="#d2050f" stroke-width="3.2" stroke-linecap="round" fill="none"/>
<g fill="#fbd3da" stroke="#d2050f" stroke-width="4.4" stroke-linejoin="round" stroke-linecap="round"><path d="M1331.7,1685.8h15.2l-7.6,13.9z"/><path d="M1341.1,1685.8h15.2l-7.6,13.9z"/><path d="M1350.5,1663.6h15.2l-7.6,13.9z"/><path d="M1359.9,1668.3h15.2l-7.6,13.9z"/><path d="M1369.3,1670.2h15.2l-7.6,13.9z"/><path d="M1378.7,1656.1h15.2l-7.6,13.9z"/><path d="M1388.0,1642.5h15.2l-7.6,13.9z"/><path d="M1397.4,1653.0h15.2l-7.6,13.9z"/><path d="M1406.8,1658.9h15.2l-7.6,13.9z"/><path d="M1416.2,1635.4h15.2l-7.6,13.9z"/><path d="M1425.6,1647.2h15.2l-7.6,13.9z"/><path d="M1435.0,1643.3h15.2l-7.6,13.9z"/><path d="M1444.4,1639.3h15.2l-7.6,13.9z"/><path d="M1453.8,1633.5h15.2l-7.6,13.9z"/><path d="M1463.2,1645.2h15.2l-7.6,13.9z"/><path d="M1472.6,1639.3h15.2l-7.6,13.9z"/><path d="M1481.9,1624.1h15.2l-7.6,13.9z"/><path d="M1491.3,1647.2h15.2l-7.6,13.9z"/><path d="M1500.7,1618.3h15.2l-7.6,13.9z"/><path d="M1510.1,1601.1h15.2l-7.6,13.9z"/><path d="M1519.5,1620.2h15.2l-7.6,13.9z"/><path d="M1528.9,1635.4h15.2l-7.6,13.9z"/><path d="M1538.3,1612.4h15.2l-7.6,13.9z"/><path d="M1547.7,1637.4h15.2l-7.6,13.9z"/><path d="M1557.1,1616.3h15.2l-7.6,13.9z"/><path d="M1566.5,1610.4h15.2l-7.6,13.9z"/><path d="M1575.8,1639.3h15.2l-7.6,13.9z"/><path d="M1585.2,1618.3h15.2l-7.6,13.9z"/><path d="M1594.6,1628.0h15.2l-7.6,13.9z"/><path d="M1604.0,1626.1h15.2l-7.6,13.9z"/><path d="M1613.4,1626.1h15.2l-7.6,13.9z"/><path d="M1622.8,1616.3h15.2l-7.6,13.9z"/><path d="M1632.2,1603.0h15.2l-7.6,13.9z"/><path d="M1641.6,1643.3h15.2l-7.6,13.9z"/><path d="M1651.0,1620.2h15.2l-7.6,13.9z"/><path d="M1660.4,1591.3h15.2l-7.6,13.9z"/><path d="M1669.7,1616.3h15.2l-7.6,13.9z"/><path d="M1679.1,1608.5h15.2l-7.6,13.9z"/><path d="M1688.5,1624.1h15.2l-7.6,13.9z"/><path d="M1697.9,1614.3h15.2l-7.6,13.9z"/><path d="M1707.3,1606.5h15.2l-7.6,13.9z"/><path d="M1716.7,1595.2h15.2l-7.6,13.9z"/><path d="M1726.1,1608.5h15.2l-7.6,13.9z"/><path d="M1735.5,1601.1h15.2l-7.6,13.9z"/><path d="M1744.9,1603.0h15.2l-7.6,13.9z"/><path d="M1754.2,1620.2h15.2l-7.6,13.9z"/><path d="M1763.6,1579.6h15.2l-7.6,13.9z"/><path d="M1773.0,1610.4h15.2l-7.6,13.9z"/><path d="M1782.4,1608.5h15.2l-7.6,13.9z"/><path d="M1791.8,1622.2h15.2l-7.6,13.9z"/><path d="M1801.2,1603.0h15.2l-7.6,13.9z"/><path d="M1810.6,1608.5h15.2l-7.6,13.9z"/><path d="M1820.0,1597.2h15.2l-7.6,13.9z"/><path d="M1829.4,1595.2h15.2l-7.6,13.9z"/><path d="M1838.8,1618.3h15.2l-7.6,13.9z"/><path d="M1848.2,1585.4h15.2l-7.6,13.9z"/><path d="M1857.5,1591.3h15.2l-7.6,13.9z"/><path d="M1866.9,1585.4h15.2l-7.6,13.9z"/><path d="M1876.3,1587.4h15.2l-7.6,13.9z"/><path d="M1885.7,1608.5h15.2l-7.6,13.9z"/><path d="M1895.1,1595.2h15.2l-7.6,13.9z"/><path d="M1904.5,1606.5h15.2l-7.6,13.9z"/><path d="M1913.9,1604.6h15.2l-7.6,13.9z"/></g>
<path d="M1075.0,1538.1V1575.7M1069.4,1538.1h11.2M1069.4,1575.7h11.2M1084.4,1542.2V1580.1M1078.8,1542.2h11.2M1078.8,1580.1h11.2M1093.7,1554.5V1597.3M1088.1,1554.5h11.2M1088.1,1597.3h11.2M1103.1,1560.0V1604.0M1097.5,1560.0h11.2M1097.5,1604.0h11.2M1112.4,1552.5V1602.3M1106.8,1552.5h11.2M1106.8,1602.3h11.2M1121.8,1559.2V1597.3M1116.2,1559.2h11.2M1116.2,1597.3h11.2M1131.1,1532.9V1586.7M1125.5,1532.9h11.2M1125.5,1586.7h11.2M1140.5,1544.8V1576.6M1134.9,1544.8h11.2M1134.9,1576.6h11.2M1149.8,1521.7V1571.5M1144.2,1521.7h11.2M1144.2,1571.5h11.2M1159.2,1522.6V1567.2M1153.6,1522.6h11.2M1153.6,1567.2h11.2M1168.5,1523.3V1575.7M1162.9,1523.3h11.2M1162.9,1575.7h11.2M1177.9,1535.2V1570.0M1172.3,1535.2h11.2M1172.3,1570.0h11.2M1187.2,1539.3V1586.7M1181.6,1539.3h11.2M1181.6,1586.7h11.2M1196.6,1535.4V1588.8M1191.0,1535.4h11.2M1191.0,1588.8h11.2M1205.9,1526.5V1573.4M1200.3,1526.5h11.2M1200.3,1573.4h11.2" stroke="#0033a0" stroke-width="3.2" stroke-linecap="round" fill="none"/>
<g fill="none" stroke="#0033a0" stroke-width="4.4" stroke-linejoin="round" stroke-linecap="round"><path d="M1068.7,1548.9l12.6,16m0,-16l-12.6,16"/><path d="M1078.1,1553.1l12.6,16m0,-16l-12.6,16"/><path d="M1087.4,1567.9l12.6,16m0,-16l-12.6,16"/><path d="M1096.8,1574.0l12.6,16m0,-16l-12.6,16"/><path d="M1106.1,1569.4l12.6,16m0,-16l-12.6,16"/><path d="M1115.5,1570.2l12.6,16m0,-16l-12.6,16"/><path d="M1124.8,1551.8l12.6,16m0,-16l-12.6,16"/><path d="M1134.2,1552.7l12.6,16m0,-16l-12.6,16"/><path d="M1143.5,1538.6l12.6,16m0,-16l-12.6,16"/><path d="M1152.9,1536.9l12.6,16m0,-16l-12.6,16"/><path d="M1162.2,1541.5l12.6,16m0,-16l-12.6,16"/><path d="M1171.6,1544.6l12.6,16m0,-16l-12.6,16"/><path d="M1180.9,1555.0l12.6,16m0,-16l-12.6,16"/><path d="M1190.3,1554.1l12.6,16m0,-16l-12.6,16"/><path d="M1199.6,1541.9l12.6,16m0,-16l-12.6,16"/></g>
<path d="M1339.3,1743.9V1802.5M1333.7,1743.9h11.2M1333.7,1802.5h11.2M1348.7,1727.5V1778.3M1343.1,1727.5h11.2M1343.1,1778.3h11.2M1358.1,1681.7V1737.5M1352.5,1681.7h11.2M1352.5,1737.5h11.2M1367.5,1678.0V1741.1M1361.9,1678.0h11.2M1361.9,1741.1h11.2M1376.9,1673.6V1741.6M1371.3,1673.6h11.2M1371.3,1741.6h11.2M1386.2,1668.9V1734.6M1380.7,1668.9h11.2M1380.7,1734.6h11.2M1395.6,1685.9V1756.7M1390.0,1685.9h11.2M1390.0,1756.7h11.2M1405.0,1670.7V1740.7M1399.4,1670.7h11.2M1399.4,1740.7h11.2M1414.4,1677.3V1730.1M1408.8,1677.3h11.2M1408.8,1730.1h11.2M1423.8,1675.1V1736.2M1418.2,1675.1h11.2M1418.2,1736.2h11.2M1433.2,1674.8V1732.6M1427.6,1674.8h11.2M1427.6,1732.6h11.2M1442.6,1684.3V1738.8M1437.0,1684.3h11.2M1437.0,1738.8h11.2M1452.0,1681.0V1742.0M1446.4,1681.0h11.2M1446.4,1742.0h11.2M1461.4,1668.0V1739.5M1455.8,1668.0h11.2M1455.8,1739.5h11.2M1470.8,1684.0V1750.8M1465.2,1684.0h11.2M1465.2,1750.8h11.2M1480.2,1679.6V1731.7M1474.6,1679.6h11.2M1474.6,1731.7h11.2M1489.5,1681.9V1737.3M1483.9,1681.9h11.2M1483.9,1737.3h11.2M1498.9,1674.7V1732.8M1493.3,1674.7h11.2M1493.3,1732.8h11.2M1508.3,1671.0V1740.3M1502.7,1671.0h11.2M1502.7,1740.3h11.2M1517.7,1685.4V1745.5M1512.1,1685.4h11.2M1512.1,1745.5h11.2M1527.1,1694.5V1748.0M1521.5,1694.5h11.2M1521.5,1748.0h11.2M1536.5,1697.5V1775.6M1530.9,1697.5h11.2M1530.9,1775.6h11.2M1545.9,1684.2V1762.3M1540.3,1684.2h11.2M1540.3,1762.3h11.2M1555.3,1699.8V1750.6M1549.7,1699.8h11.2M1549.7,1750.6h11.2M1564.7,1653.1V1716.0M1559.1,1653.1h11.2M1559.1,1716.0h11.2M1574.0,1689.4V1761.0M1568.5,1689.4h11.2M1568.5,1761.0h11.2M1583.4,1687.8V1754.8M1577.8,1687.8h11.2M1577.8,1754.8h11.2M1592.8,1684.3V1750.4M1587.2,1684.3h11.2M1587.2,1750.4h11.2M1602.2,1677.0V1730.4M1596.6,1677.0h11.2M1596.6,1730.4h11.2M1611.6,1686.2V1748.5M1606.0,1686.2h11.2M1606.0,1748.5h11.2M1621.0,1693.2V1757.2M1615.4,1693.2h11.2M1615.4,1757.2h11.2M1630.4,1655.2V1721.8M1624.8,1655.2h11.2M1624.8,1721.8h11.2M1639.8,1687.5V1747.3M1634.2,1687.5h11.2M1634.2,1747.3h11.2M1649.2,1682.0V1733.2M1643.6,1682.0h11.2M1643.6,1733.2h11.2M1658.6,1691.2V1774.0M1653.0,1691.2h11.2M1653.0,1774.0h11.2M1668.0,1694.9V1750.8M1662.4,1694.9h11.2M1662.4,1750.8h11.2M1677.3,1674.5V1740.7M1671.7,1674.5h11.2M1671.7,1740.7h11.2M1686.7,1704.5V1764.6M1681.1,1704.5h11.2M1681.1,1764.6h11.2M1696.1,1701.0V1768.1M1690.5,1701.0h11.2M1690.5,1768.1h11.2M1705.5,1703.9V1761.3M1699.9,1703.9h11.2M1699.9,1761.3h11.2M1714.9,1687.5V1739.5M1709.3,1687.5h11.2M1709.3,1739.5h11.2M1724.3,1656.8V1716.2M1718.7,1656.8h11.2M1718.7,1716.2h11.2M1733.7,1689.1V1749.6M1728.1,1689.1h11.2M1728.1,1749.6h11.2M1743.1,1670.0V1737.4M1737.5,1670.0h11.2M1737.5,1737.4h11.2M1752.5,1695.8V1754.6M1746.9,1695.8h11.2M1746.9,1754.6h11.2M1761.8,1661.7V1726.2M1756.2,1661.7h11.2M1756.2,1726.2h11.2M1771.2,1672.6V1730.9M1765.6,1672.6h11.2M1765.6,1730.9h11.2M1780.6,1689.8V1755.9M1775.0,1689.8h11.2M1775.0,1755.9h11.2M1790.0,1693.6V1779.5M1784.4,1693.6h11.2M1784.4,1779.5h11.2M1799.4,1686.7V1755.9M1793.8,1686.7h11.2M1793.8,1755.9h11.2M1808.8,1678.1V1748.8M1803.2,1678.1h11.2M1803.2,1748.8h11.2M1818.2,1676.5V1727.0M1812.6,1676.5h11.2M1812.6,1727.0h11.2M1827.6,1681.0V1749.8M1822.0,1681.0h11.2M1822.0,1749.8h11.2M1837.0,1683.9V1750.9M1831.4,1683.9h11.2M1831.4,1750.9h11.2M1846.4,1671.1V1736.3M1840.8,1671.1h11.2M1840.8,1736.3h11.2M1855.8,1675.6V1727.9M1850.2,1675.6h11.2M1850.2,1727.9h11.2M1865.1,1670.7V1736.7M1859.5,1670.7h11.2M1859.5,1736.7h11.2M1874.5,1670.3V1737.1M1868.9,1670.3h11.2M1868.9,1737.1h11.2M1883.9,1710.7V1781.8M1878.3,1710.7h11.2M1878.3,1781.8h11.2M1893.3,1664.3V1735.3M1887.7,1664.3h11.2M1887.7,1735.3h11.2M1902.7,1682.0V1752.7M1897.1,1682.0h11.2M1897.1,1752.7h11.2M1912.1,1699.8V1785.0M1906.5,1699.8h11.2M1906.5,1785.0h11.2M1921.5,1667.0V1744.3M1915.9,1667.0h11.2M1915.9,1744.3h11.2" stroke="#0033a0" stroke-width="3.2" stroke-linecap="round" fill="none"/>
<g fill="none" stroke="#0033a0" stroke-width="4.4" stroke-linejoin="round" stroke-linecap="round"><path d="M1333.0,1765.2l12.6,16m0,-16l-12.6,16"/><path d="M1342.4,1744.9l12.6,16m0,-16l-12.6,16"/><path d="M1351.8,1701.6l12.6,16m0,-16l-12.6,16"/><path d="M1361.2,1701.6l12.6,16m0,-16l-12.6,16"/><path d="M1370.6,1699.6l12.6,16m0,-16l-12.6,16"/><path d="M1380.0,1693.8l12.6,16m0,-16l-12.6,16"/><path d="M1389.3,1713.3l12.6,16m0,-16l-12.6,16"/><path d="M1398.7,1697.7l12.6,16m0,-16l-12.6,16"/><path d="M1408.1,1695.7l12.6,16m0,-16l-12.6,16"/><path d="M1417.5,1697.7l12.6,16m0,-16l-12.6,16"/><path d="M1426.9,1695.7l12.6,16m0,-16l-12.6,16"/><path d="M1436.3,1703.5l12.6,16m0,-16l-12.6,16"/><path d="M1445.7,1703.5l12.6,16m0,-16l-12.6,16"/><path d="M1455.1,1695.7l12.6,16m0,-16l-12.6,16"/><path d="M1464.5,1709.4l12.6,16m0,-16l-12.6,16"/><path d="M1473.9,1697.7l12.6,16m0,-16l-12.6,16"/><path d="M1483.2,1701.6l12.6,16m0,-16l-12.6,16"/><path d="M1492.6,1695.7l12.6,16m0,-16l-12.6,16"/><path d="M1502.0,1697.7l12.6,16m0,-16l-12.6,16"/><path d="M1511.4,1707.4l12.6,16m0,-16l-12.6,16"/><path d="M1520.8,1713.3l12.6,16m0,-16l-12.6,16"/><path d="M1530.2,1728.5l12.6,16m0,-16l-12.6,16"/><path d="M1539.6,1715.2l12.6,16m0,-16l-12.6,16"/><path d="M1549.0,1717.2l12.6,16m0,-16l-12.6,16"/><path d="M1558.4,1676.6l12.6,16m0,-16l-12.6,16"/><path d="M1567.8,1717.2l12.6,16m0,-16l-12.6,16"/><path d="M1577.1,1713.3l12.6,16m0,-16l-12.6,16"/><path d="M1586.5,1709.4l12.6,16m0,-16l-12.6,16"/><path d="M1595.9,1695.7l12.6,16m0,-16l-12.6,16"/><path d="M1605.3,1709.4l12.6,16m0,-16l-12.6,16"/><path d="M1614.7,1717.2l12.6,16m0,-16l-12.6,16"/><path d="M1624.1,1680.5l12.6,16m0,-16l-12.6,16"/><path d="M1633.5,1709.4l12.6,16m0,-16l-12.6,16"/><path d="M1642.9,1699.6l12.6,16m0,-16l-12.6,16"/><path d="M1652.3,1724.6l12.6,16m0,-16l-12.6,16"/><path d="M1661.7,1714.8l12.6,16m0,-16l-12.6,16"/><path d="M1671.0,1699.6l12.6,16m0,-16l-12.6,16"/><path d="M1680.4,1726.6l12.6,16m0,-16l-12.6,16"/><path d="M1689.8,1726.6l12.6,16m0,-16l-12.6,16"/><path d="M1699.2,1724.6l12.6,16m0,-16l-12.6,16"/><path d="M1708.6,1705.5l12.6,16m0,-16l-12.6,16"/><path d="M1718.0,1678.5l12.6,16m0,-16l-12.6,16"/><path d="M1727.4,1711.3l12.6,16m0,-16l-12.6,16"/><path d="M1736.8,1695.7l12.6,16m0,-16l-12.6,16"/><path d="M1746.2,1717.2l12.6,16m0,-16l-12.6,16"/><path d="M1755.5,1685.9l12.6,16m0,-16l-12.6,16"/><path d="M1764.9,1693.8l12.6,16m0,-16l-12.6,16"/><path d="M1774.3,1714.8l12.6,16m0,-16l-12.6,16"/><path d="M1783.7,1728.5l12.6,16m0,-16l-12.6,16"/><path d="M1793.1,1713.3l12.6,16m0,-16l-12.6,16"/><path d="M1802.5,1705.5l12.6,16m0,-16l-12.6,16"/><path d="M1811.9,1693.8l12.6,16m0,-16l-12.6,16"/><path d="M1821.3,1707.4l12.6,16m0,-16l-12.6,16"/><path d="M1830.7,1709.4l12.6,16m0,-16l-12.6,16"/><path d="M1840.1,1695.7l12.6,16m0,-16l-12.6,16"/><path d="M1849.5,1693.8l12.6,16m0,-16l-12.6,16"/><path d="M1858.8,1695.7l12.6,16m0,-16l-12.6,16"/><path d="M1868.2,1695.7l12.6,16m0,-16l-12.6,16"/><path d="M1877.6,1738.3l12.6,16m0,-16l-12.6,16"/><path d="M1887.0,1691.8l12.6,16m0,-16l-12.6,16"/><path d="M1896.4,1709.4l12.6,16m0,-16l-12.6,16"/><path d="M1905.8,1734.4l12.6,16m0,-16l-12.6,16"/><path d="M1915.2,1697.7l12.6,16m0,-16l-12.6,16"/></g>
<text x="11.2" y="1425.5" font-size="60.00" xml:space="preserve">D</text>
<text x="580.0" y="1471.6" font-size="50.53" xml:space="preserve">WT</text>
<text x="909.2" y="1432.2" font-size="52.28" xml:space="preserve">layer 2/3</text>
<text x="1428.4" y="1457.7" font-size="49.68" xml:space="preserve">dnSNARE</text>
<text x="87.9" y="1495.2" font-size="35.00" xml:space="preserve">120</text>
<text x="107.3" y="1651.0" font-size="35.00" xml:space="preserve">80</text>
<text x="107.3" y="1807.7" font-size="35.00" xml:space="preserve">40</text>
<text x="282.4" y="1895.5" font-size="35.00" xml:space="preserve">0</text>
<text x="460.6" y="1895.5" font-size="35.00" xml:space="preserve">20</text>
<text x="647.0" y="1895.5" font-size="35.00" xml:space="preserve">40</text>
<text x="834.8" y="1895.5" font-size="35.00" xml:space="preserve">60</text>
<text x="1051.2" y="1895.5" font-size="35.00" xml:space="preserve">80</text>
<text x="1196.6" y="1894.6" font-size="35.00" xml:space="preserve">0</text>
<text x="1374.3" y="1894.6" font-size="35.00" xml:space="preserve">20</text>
<text x="1559.6" y="1894.6" font-size="35.00" xml:space="preserve">40</text>
<text x="1750.3" y="1894.6" font-size="35.00" xml:space="preserve">60</text>
<text x="1924.5" y="1894.6" font-size="35.00" xml:space="preserve">80</text>
<text x="662.0" y="1935.4" font-size="36.96" xml:space="preserve">time  (min)</text>
<text x="1594.6" y="1934.9" font-size="37.09" xml:space="preserve">time  (min)</text>
<text x="270.2" y="1491.7" font-size="34.92" xml:space="preserve">FAC</text>
<text x="334.9" y="1704.4" font-size="35.01" xml:space="preserve">PPLFS</text>
<text x="1218.8" y="1647.5" font-size="34.64" xml:space="preserve">PPLFS</text>
<text xml:space="preserve"><tspan x="1208.8" y="1492.0" font-size="38.30">ATP</tspan><tspan x="1273.5" y="1488.6" font-size="47.80" font-family='"Liberation Serif", serif'> γ</tspan><tspan x="1305.4" y="1492.0" font-size="37.15">S</tspan></text>
<text transform="translate(45.0,1744.8) rotate(-90)" font-size="39.22" xml:space="preserve">fEPSP slope</text>
<text transform="translate(82.5,1764.4) rotate(-90)" font-size="39.66" xml:space="preserve">( % of control )</text>
<circle cx="743.6" cy="1485.3" r="11" fill="#ececec" stroke="#000" stroke-width="5"/>
<rect x="733.9" y="1517.9" width="19.4" height="19.4" fill="#fad4f4" stroke="#7b0080" stroke-width="4.2" stroke-linejoin="round"/>
<text x="784.4" y="1494.0" font-size="37.56" xml:space="preserve">control</text>
<text x="785.4" y="1537.8" font-size="34.87" xml:space="preserve">FAC</text>
<polygon points="1727.0,1459.9 1755.0,1459.9 1741.0,1483.9" fill="#fbd3da" stroke="#d2050f" stroke-width="4.4" stroke-linejoin="round"/>
<line x1="1731.5" y1="1506.4" x2="1750.7" y2="1525.6" stroke="#0033a0" stroke-width="7.2" stroke-linecap="round" />
<line x1="1731.5" y1="1525.6" x2="1750.7" y2="1506.4" stroke="#0033a0" stroke-width="7.2" stroke-linecap="round" />
<text x="1778.8" y="1476.3" font-size="37.60" xml:space="preserve">control</text>
<text xml:space="preserve"><tspan x="1778.6" y="1528.6" font-size="38.30">ATP</tspan><tspan x="1843.3" y="1525.2" font-size="47.80" font-family='"Liberation Serif", serif'> γ</tspan><tspan x="1875.2" y="1528.6" font-size="37.15">S</tspan></text>
<line x1="182.4" y1="2133.2" x2="182.4" y2="2394.2" stroke="#1a1a1a" stroke-width="2.3" stroke-linecap="butt" />
<line x1="172.4" y1="2134.3" x2="182.4" y2="2134.3" stroke="#1a1a1a" stroke-width="2.3" stroke-linecap="butt" />
<line x1="166.4" y1="2186.3" x2="182.4" y2="2186.3" stroke="#1a1a1a" stroke-width="2.3" stroke-linecap="butt" />
<line x1="172.4" y1="2237.4" x2="182.4" y2="2237.4" stroke="#1a1a1a" stroke-width="2.3" stroke-linecap="butt" />
<line x1="166.4" y1="2289.3" x2="182.4" y2="2289.3" stroke="#1a1a1a" stroke-width="2.3" stroke-linecap="butt" />
<line x1="172.4" y1="2340.1" x2="182.4" y2="2340.1" stroke="#1a1a1a" stroke-width="2.3" stroke-linecap="butt" />
<line x1="166.4" y1="2393.0" x2="182.4" y2="2393.0" stroke="#1a1a1a" stroke-width="2.3" stroke-linecap="butt" />
<line x1="216.6" y1="2392.0" x2="884.3" y2="2392.0" stroke="#1a1a1a" stroke-width="2.0" stroke-linecap="butt" />
<line x1="985.2" y1="2392.0" x2="1256.0" y2="2392.0" stroke="#1a1a1a" stroke-width="2.0" stroke-linecap="butt" />
<text x="122.8" y="2198.3" font-size="35.00" xml:space="preserve">40</text>
<text x="122.8" y="2301.3" font-size="35.00" xml:space="preserve">20</text>
<text x="142.3" y="2393.5" font-size="35.00" xml:space="preserve">0</text>
<text transform="translate(76.5,2396.5) rotate(-90)" font-size="38.14" xml:space="preserve">decrease in fEPSP</text>
<text transform="translate(111.0,2336.1) rotate(-90)" font-size="38.16" xml:space="preserve">% of control</text>
<path d="M216.6,2055.4 V2048.0 H313.5 V2106.0" stroke="#2b2b2b" stroke-width="1.7" fill="none" />
<path d="M216.6,2084.0 V2077.3 H263.6 V2111.0" stroke="#2b2b2b" stroke-width="1.7" fill="none" />
<path d="M739.2,2195.8 V2187.7 H815.7 V2241.5" stroke="#2b2b2b" stroke-width="1.7" fill="none" />
<path d="M737.7,2224.2 V2216.3 H778.6 V2247.6" stroke="#2b2b2b" stroke-width="1.7" fill="none" />
<path d="M1008.3,2193.5 V2150.6 H1205.6 V2159.4" stroke="#2b2b2b" stroke-width="1.7" fill="none" />
<text x="259.2" y="2056.9" font-size="40.00" xml:space="preserve">*</text>
<text x="234.5" y="2087.8" font-size="40.00" xml:space="preserve">*</text>
<text x="768.7" y="2197.9" font-size="40.00" xml:space="preserve">*</text>
<text x="750.9" y="2225.6" font-size="40.00" xml:space="preserve">*</text>
<text x="1095.6" y="2153.4" font-size="40.00" xml:space="preserve">*</text>
<text x="474.2" y="2312.6" font-size="32.00" xml:space="preserve">#</text>
<text x="702.5" y="2281.0" font-size="32.00" xml:space="preserve">#</text>
<text x="972.0" y="2309.0" font-size="32.00" xml:space="preserve">#</text>
<line x1="216.0" y1="2094.3" x2="216.0" y2="2199.3" stroke="#000" stroke-width="3.2" stroke-linecap="butt" />
<line x1="209.1" y1="2094.3" x2="222.9" y2="2094.3" stroke="#000" stroke-width="3.2" stroke-linecap="round" />
<line x1="209.1" y1="2199.3" x2="222.9" y2="2199.3" stroke="#000" stroke-width="3.2" stroke-linecap="round" />
<circle cx="216.0" cy="2146.8" r="10.4" fill="#fff" stroke="#000" stroke-width="4.2"/>
<text x="220.3" y="2189.0" font-size="24.50" fill="#5a5a5a" font-weight="bold" xml:space="preserve">13</text>
<line x1="263.6" y1="2196.5" x2="263.6" y2="2273.0" stroke="#000" stroke-width="3.2" stroke-linecap="butt" />
<line x1="256.7" y1="2196.5" x2="270.5" y2="2196.5" stroke="#000" stroke-width="3.2" stroke-linecap="round" />
<line x1="256.7" y1="2273.0" x2="270.5" y2="2273.0" stroke="#000" stroke-width="3.2" stroke-linecap="round" />
<circle cx="263.6" cy="2234.5" r="10.4" fill="#808080" stroke="#000" stroke-width="4.2"/>
<text x="267.3" y="2301.0" font-size="29.50" fill="#5a5a5a" font-weight="bold" xml:space="preserve">7</text>
<line x1="312.9" y1="2228.6" x2="312.9" y2="2311.0" stroke="#000" stroke-width="3.2" stroke-linecap="butt" />
<line x1="306.0" y1="2228.6" x2="319.8" y2="2228.6" stroke="#000" stroke-width="3.2" stroke-linecap="round" />
<line x1="306.0" y1="2311.0" x2="319.8" y2="2311.0" stroke="#000" stroke-width="3.2" stroke-linecap="round" />
<circle cx="312.9" cy="2269.5" r="10.4" fill="#000" stroke="#000" stroke-width="4.2"/>
<text x="323.1" y="2332.8" font-size="29.50" fill="#5a5a5a" font-weight="bold" xml:space="preserve">8</text>
<line x1="408.0" y1="2129.9" x2="408.0" y2="2207.5" stroke="#0c6b38" stroke-width="3.2" stroke-linecap="butt" />
<line x1="401.1" y1="2129.9" x2="414.9" y2="2129.9" stroke="#0c6b38" stroke-width="3.2" stroke-linecap="round" />
<line x1="401.1" y1="2207.5" x2="414.9" y2="2207.5" stroke="#0c6b38" stroke-width="3.2" stroke-linecap="round" />
<circle cx="408.0" cy="2168.7" r="10.4" fill="#33cc33" stroke="#0c6b38" stroke-width="4.2"/>
<text x="421.5" y="2225.0" font-size="29.50" fill="#5a5a5a" font-weight="bold" xml:space="preserve">6</text>
<line x1="508.6" y1="2296.3" x2="508.6" y2="2352.0" stroke="#7b0080" stroke-width="3.2" stroke-linecap="butt" />
<line x1="501.7" y1="2296.3" x2="515.5" y2="2296.3" stroke="#7b0080" stroke-width="3.2" stroke-linecap="round" />
<line x1="501.7" y1="2352.0" x2="515.5" y2="2352.0" stroke="#7b0080" stroke-width="3.2" stroke-linecap="round" />
<rect x="498.7" y="2314.1" width="19.8" height="19.8" fill="#fff" stroke="#7b0080" stroke-width="4.4" stroke-linejoin="round"/>
<text x="517.3" y="2373.0" font-size="29.50" fill="#5a5a5a" font-weight="bold" xml:space="preserve">8</text>
<line x1="576.9" y1="2304.0" x2="576.9" y2="2355.6" stroke="#7b0080" stroke-width="3.2" stroke-linecap="butt" />
<line x1="570.0" y1="2304.0" x2="583.8" y2="2304.0" stroke="#7b0080" stroke-width="3.2" stroke-linecap="round" />
<line x1="570.0" y1="2355.6" x2="583.8" y2="2355.6" stroke="#7b0080" stroke-width="3.2" stroke-linecap="round" />
<rect x="567.0" y="2320.1" width="19.8" height="19.8" fill="#9a9a9a" stroke="#7b0080" stroke-width="4.4" stroke-linejoin="round"/>
<text x="589.4" y="2379.0" font-size="29.50" fill="#5a5a5a" font-weight="bold" xml:space="preserve">6</text>
<line x1="633.5" y1="2309.0" x2="633.5" y2="2357.6" stroke="#7b0080" stroke-width="3.2" stroke-linecap="butt" />
<line x1="626.6" y1="2309.0" x2="640.4" y2="2309.0" stroke="#7b0080" stroke-width="3.2" stroke-linecap="round" />
<line x1="626.6" y1="2357.6" x2="640.4" y2="2357.6" stroke="#7b0080" stroke-width="3.2" stroke-linecap="round" />
<rect x="623.6" y="2323.8" width="19.8" height="19.8" fill="#7b0080" stroke="#7b0080" stroke-width="4.4" stroke-linejoin="round"/>
<text x="644.9" y="2382.7" font-size="29.50" fill="#5a5a5a" font-weight="bold" xml:space="preserve">6</text>
<line x1="737.4" y1="2255.8" x2="737.4" y2="2337.2" stroke="#d35400" stroke-width="3.2" stroke-linecap="butt" />
<line x1="730.5" y1="2255.8" x2="744.3" y2="2255.8" stroke="#d35400" stroke-width="3.2" stroke-linecap="round" />
<line x1="730.5" y1="2337.2" x2="744.3" y2="2337.2" stroke="#d35400" stroke-width="3.2" stroke-linecap="round" />
<polygon points="737.4,2283.8 750.8,2296.6 737.4,2309.4 724.0,2296.6" fill="#fff" stroke="#d35400" stroke-width="4.2" stroke-linejoin="miter"/>
<text x="752.1" y="2346.8" font-size="29.50" fill="#5a5a5a" font-weight="bold" xml:space="preserve">9</text>
<line x1="795.2" y1="2293.7" x2="795.2" y2="2352.7" stroke="#d35400" stroke-width="3.2" stroke-linecap="butt" />
<line x1="788.3" y1="2293.7" x2="802.1" y2="2293.7" stroke="#d35400" stroke-width="3.2" stroke-linecap="round" />
<line x1="788.3" y1="2352.7" x2="802.1" y2="2352.7" stroke="#d35400" stroke-width="3.2" stroke-linecap="round" />
<polygon points="795.2,2310.2 808.6,2323.0 795.2,2335.8 781.8,2323.0" fill="#9a9a9a" stroke="#d35400" stroke-width="4.2" stroke-linejoin="miter"/>
<text x="807.2" y="2363.0" font-size="29.50" fill="#5a5a5a" font-weight="bold" xml:space="preserve">7</text>
<line x1="853.9" y1="2292.3" x2="853.9" y2="2347.4" stroke="#d35400" stroke-width="3.2" stroke-linecap="butt" />
<line x1="847.0" y1="2292.3" x2="860.8" y2="2292.3" stroke="#d35400" stroke-width="3.2" stroke-linecap="round" />
<line x1="847.0" y1="2347.4" x2="860.8" y2="2347.4" stroke="#d35400" stroke-width="3.2" stroke-linecap="round" />
<polygon points="853.9,2307.8 867.3,2320.6 853.9,2333.4 840.5,2320.6" fill="#d35400" stroke="#d35400" stroke-width="4.2" stroke-linejoin="miter"/>
<text x="876.1" y="2339.5" font-size="29.50" fill="#5a5a5a" font-weight="bold" xml:space="preserve">8</text>
<line x1="1008.9" y1="2289.3" x2="1008.9" y2="2340.4" stroke="#d2050f" stroke-width="3.2" stroke-linecap="butt" />
<line x1="1002.0" y1="2289.3" x2="1015.8" y2="2289.3" stroke="#d2050f" stroke-width="3.2" stroke-linecap="round" />
<line x1="1002.0" y1="2340.4" x2="1015.8" y2="2340.4" stroke="#d2050f" stroke-width="3.2" stroke-linecap="round" />
<polygon points="996.8,2309.4 1021.0,2309.4 1008.9,2328.9" fill="#fff" stroke="#d2050f" stroke-width="4.2" stroke-linejoin="round"/>
<text x="1015.8" y="2370.8" font-size="29.50" fill="#5a5a5a" font-weight="bold" xml:space="preserve">10</text>
<line x1="1090.9" y1="2300.0" x2="1090.9" y2="2344.8" stroke="#d2050f" stroke-width="3.2" stroke-linecap="butt" />
<line x1="1084.0" y1="2300.0" x2="1097.8" y2="2300.0" stroke="#d2050f" stroke-width="3.2" stroke-linecap="round" />
<line x1="1084.0" y1="2344.8" x2="1097.8" y2="2344.8" stroke="#d2050f" stroke-width="3.2" stroke-linecap="round" />
<polygon points="1078.8,2317.3 1103.1,2317.3 1090.9,2336.8" fill="#9a9a9a" stroke="#d2050f" stroke-width="4.2" stroke-linejoin="round"/>
<text x="1090.8" y="2373.0" font-size="29.50" fill="#5a5a5a" font-weight="bold" xml:space="preserve">7</text>
<line x1="1156.9" y1="2306.8" x2="1156.9" y2="2349.0" stroke="#d2050f" stroke-width="3.2" stroke-linecap="butt" />
<line x1="1150.0" y1="2306.8" x2="1163.8" y2="2306.8" stroke="#d2050f" stroke-width="3.2" stroke-linecap="round" />
<line x1="1150.0" y1="2349.0" x2="1163.8" y2="2349.0" stroke="#d2050f" stroke-width="3.2" stroke-linecap="round" />
<polygon points="1144.8,2323.0 1169.1,2323.0 1156.9,2342.5" fill="#d2050f" stroke="#d2050f" stroke-width="4.2" stroke-linejoin="round"/>
<text x="1167.3" y="2376.0" font-size="29.50" fill="#5a5a5a" font-weight="bold" xml:space="preserve">7</text>
<line x1="1224.3" y1="2144.8" x2="1224.3" y2="2212.5" stroke="#0033a0" stroke-width="3.2" stroke-linecap="butt" />
<line x1="1217.4" y1="2144.8" x2="1231.2" y2="2144.8" stroke="#0033a0" stroke-width="3.2" stroke-linecap="round" />
<line x1="1217.4" y1="2212.5" x2="1231.2" y2="2212.5" stroke="#0033a0" stroke-width="3.2" stroke-linecap="round" />
<line x1="1215.3" y1="2170.0" x2="1233.3" y2="2188.0" stroke="#0033a0" stroke-width="4.6" stroke-linecap="round" />
<line x1="1215.3" y1="2188.0" x2="1233.3" y2="2170.0" stroke="#0033a0" stroke-width="4.6" stroke-linecap="round" />
<text x="1240.6" y="2223.6" font-size="29.50" fill="#5a5a5a" font-weight="bold" xml:space="preserve">8</text>
<text x="15.7" y="2015.5" font-size="59.27" xml:space="preserve">E</text>
<text x="387.6" y="2025.7" font-size="39.51" font-weight="bold" xml:space="preserve">WT</text>
<text x="671.6" y="2009.0" font-size="42.22" xml:space="preserve">LTD at 60th min</text>
<text xml:space="preserve"><tspan x="541.3" y="2085.9" font-size="34.00" font-style="italic">#</tspan><tspan x="560.6" y="2086.8" font-size="38.00">,</tspan><tspan x="576.3" y="2092.7" font-size="45.00">*</tspan><tspan x="602.3" y="2096.6" font-size="44.50" font-style="italic">p</tspan><tspan x="621.5" y="2105.8" font-size="45.00"> &lt;</tspan><tspan x="661.3" y="2103.1" font-size="39.50"> 0.01</tspan></text>
<text x="359.1" y="2120.5" font-size="36.14" xml:space="preserve">DPCPX</text>
<text x="725.1" y="2161.4" font-size="36.17" xml:space="preserve">PPADS</text>
<text x="545.7" y="2240.2" font-size="36.23" xml:space="preserve">FAC</text>
<text x="1022.3" y="2028.0" font-size="41.48" font-weight="bold" xml:space="preserve">dnSNARE</text>
<text xml:space="preserve"><tspan x="1162.7" y="2122.0" font-size="38.30">ATP</tspan><tspan x="1235.4" y="2118.6" font-size="47.80" font-family='"Liberation Serif", serif'>γ</tspan><tspan x="1255.3" y="2122.0" font-size="37.15">S</tspan></text>
<text x="109.0" y="2433.5" font-size="35.06" xml:space="preserve">MPEP</text>
<text x="59.4" y="2473.8" font-size="35.06" xml:space="preserve">LY456236</text>
<text x="251.7" y="2438.8" font-size="43.00" xml:space="preserve">+</text>
<text x="564.4" y="2438.2" font-size="43.00" xml:space="preserve">+</text>
<text x="784.2" y="2438.2" font-size="43.00" xml:space="preserve">+</text>
<text x="1077.8" y="2437.3" font-size="43.00" xml:space="preserve">+</text>
<text x="298.9" y="2476.1" font-size="43.00" xml:space="preserve">+</text>
<text x="620.7" y="2475.9" font-size="43.00" xml:space="preserve">+</text>
<text x="844.0" y="2475.9" font-size="43.00" xml:space="preserve">+</text>
<text x="1144.9" y="2475.3" font-size="43.00" xml:space="preserve">+</text>
<rect x="1587.0" y="2263.5" width="61.4" height="191.0" fill="#fff" stroke="#000" stroke-width="4" />
<rect x="1671.3" y="2223.5" width="61.4" height="231.0" fill="#e6e6e6" stroke="#000" stroke-width="4" />
<rect x="1793.8" y="2263.7" width="61.7" height="191.1" fill="#fff" stroke="#d2050f" stroke-width="3.4" />
<rect x="1878.1" y="2224.7" width="62.4" height="230.1" fill="#fbd3da" stroke="#d2050f" stroke-width="3.4" />
<line x1="1554.2" y1="2106.2" x2="1554.2" y2="2455.8" stroke="#1a1a1a" stroke-width="2.3" stroke-linecap="butt" />
<line x1="1536.2" y1="2107.4" x2="1554.2" y2="2107.4" stroke="#1a1a1a" stroke-width="2.3" stroke-linecap="butt" />
<line x1="1543.2" y1="2194.0" x2="1554.2" y2="2194.0" stroke="#1a1a1a" stroke-width="2.3" stroke-linecap="butt" />
<line x1="1536.2" y1="2280.2" x2="1554.2" y2="2280.2" stroke="#1a1a1a" stroke-width="2.3" stroke-linecap="butt" />
<line x1="1543.2" y1="2367.0" x2="1554.2" y2="2367.0" stroke="#1a1a1a" stroke-width="2.3" stroke-linecap="butt" />
<line x1="1536.2" y1="2454.7" x2="1554.2" y2="2454.7" stroke="#1a1a1a" stroke-width="2.3" stroke-linecap="butt" />
<line x1="1617.6" y1="2231.6" x2="1617.6" y2="2263.0" stroke="#000" stroke-width="3.4" stroke-linecap="butt" />
<line x1="1602.8" y1="2231.6" x2="1632.4" y2="2231.6" stroke="#000" stroke-width="3.4" stroke-linecap="round" />
<line x1="1702.0" y1="2179.3" x2="1702.0" y2="2223.0" stroke="#000" stroke-width="3.4" stroke-linecap="butt" />
<line x1="1687.2" y1="2179.3" x2="1716.8" y2="2179.3" stroke="#000" stroke-width="3.4" stroke-linecap="round" />
<line x1="1824.5" y1="2217.0" x2="1824.5" y2="2263.0" stroke="#d2050f" stroke-width="3.4" stroke-linecap="butt" />
<line x1="1809.7" y1="2217.0" x2="1839.3" y2="2217.0" stroke="#d2050f" stroke-width="3.4" stroke-linecap="round" />
<line x1="1909.5" y1="2174.3" x2="1909.5" y2="2224.0" stroke="#d2050f" stroke-width="3.4" stroke-linecap="butt" />
<line x1="1894.7" y1="2174.3" x2="1924.3" y2="2174.3" stroke="#d2050f" stroke-width="3.4" stroke-linecap="round" />
<line x1="1625.6" y1="2206.9" x2="1694.0" y2="2167.1" stroke="#555" stroke-width="1.4" stroke-dasharray="4.5 2.5"/>
<line x1="1625.6" y1="2228.1" x2="1694.0" y2="2195.2" stroke="#555" stroke-width="1.4" stroke-dasharray="4.5 2.5"/>
<line x1="1625.6" y1="2242.8" x2="1694.0" y2="2173.2" stroke="#555" stroke-width="1.4" stroke-dasharray="4.5 2.5"/>
<line x1="1625.6" y1="2251.3" x2="1694.0" y2="2203.7" stroke="#555" stroke-width="1.4" stroke-dasharray="4.5 2.5"/>
<line x1="1625.6" y1="2258.6" x2="1694.0" y2="2231.8" stroke="#555" stroke-width="1.4" stroke-dasharray="4.5 2.5"/>
<line x1="1625.6" y1="2268.4" x2="1694.0" y2="2215.9" stroke="#555" stroke-width="1.4" stroke-dasharray="4.5 2.5"/>
<line x1="1625.6" y1="2279.4" x2="1694.0" y2="2240.3" stroke="#555" stroke-width="1.4" stroke-dasharray="4.5 2.5"/>
<line x1="1625.6" y1="2285.5" x2="1694.0" y2="2248.9" stroke="#555" stroke-width="1.4" stroke-dasharray="4.5 2.5"/>
<line x1="1625.6" y1="2303.8" x2="1694.0" y2="2275.7" stroke="#555" stroke-width="1.4" stroke-dasharray="4.5 2.5"/>
<line x1="1625.6" y1="2310.3" x2="1694.0" y2="2303.0" stroke="#555" stroke-width="1.4" stroke-dasharray="4.5 2.5"/>
<line x1="1832.5" y1="2191.5" x2="1901.5" y2="2169.5" stroke="#a3121c" stroke-width="1.4" stroke-dasharray="4.5 2.5"/>
<line x1="1832.5" y1="2211.0" x2="1901.5" y2="2187.8" stroke="#a3121c" stroke-width="1.4" stroke-dasharray="4.5 2.5"/>
<line x1="1832.5" y1="2224.5" x2="1901.5" y2="2178.1" stroke="#a3121c" stroke-width="1.4" stroke-dasharray="4.5 2.5"/>
<line x1="1832.5" y1="2236.0" x2="1901.5" y2="2200.0" stroke="#a3121c" stroke-width="1.4" stroke-dasharray="4.5 2.5"/>
<line x1="1832.5" y1="2248.9" x2="1901.5" y2="2217.1" stroke="#a3121c" stroke-width="1.4" stroke-dasharray="4.5 2.5"/>
<line x1="1832.5" y1="2263.5" x2="1901.5" y2="2209.8" stroke="#a3121c" stroke-width="1.4" stroke-dasharray="4.5 2.5"/>
<line x1="1832.5" y1="2275.7" x2="1901.5" y2="2242.8" stroke="#a3121c" stroke-width="1.4" stroke-dasharray="4.5 2.5"/>
<line x1="1832.5" y1="2284.2" x2="1901.5" y2="2273.3" stroke="#a3121c" stroke-width="1.4" stroke-dasharray="4.5 2.5"/>
<line x1="1832.5" y1="2292.8" x2="1901.5" y2="2292.8" stroke="#a3121c" stroke-width="1.4" stroke-dasharray="4.5 2.5"/>
<line x1="1832.5" y1="2309.9" x2="1901.5" y2="2318.4" stroke="#a3121c" stroke-width="1.4" stroke-dasharray="4.5 2.5"/>
<circle cx="1617.6" cy="2206.9" r="7.6" fill="none" stroke="#000" stroke-width="3.6"/>
<circle cx="1617.6" cy="2228.1" r="7.6" fill="none" stroke="#000" stroke-width="3.6"/>
<circle cx="1617.6" cy="2242.8" r="7.6" fill="none" stroke="#000" stroke-width="3.6"/>
<circle cx="1617.6" cy="2251.3" r="7.6" fill="none" stroke="#000" stroke-width="3.6"/>
<circle cx="1617.6" cy="2258.6" r="7.6" fill="none" stroke="#000" stroke-width="3.6"/>
<circle cx="1617.6" cy="2268.4" r="7.6" fill="none" stroke="#000" stroke-width="3.6"/>
<circle cx="1617.6" cy="2279.4" r="7.6" fill="none" stroke="#000" stroke-width="3.6"/>
<circle cx="1617.6" cy="2285.5" r="7.6" fill="none" stroke="#000" stroke-width="3.6"/>
<circle cx="1617.6" cy="2303.8" r="7.6" fill="none" stroke="#000" stroke-width="3.6"/>
<circle cx="1617.6" cy="2310.3" r="7.6" fill="none" stroke="#000" stroke-width="3.6"/>
<circle cx="1702.0" cy="2167.1" r="7.6" fill="none" stroke="#000" stroke-width="3.6"/>
<circle cx="1702.0" cy="2173.2" r="7.6" fill="none" stroke="#000" stroke-width="3.6"/>
<circle cx="1702.0" cy="2195.2" r="7.6" fill="none" stroke="#000" stroke-width="3.6"/>
<circle cx="1702.0" cy="2203.7" r="7.6" fill="none" stroke="#000" stroke-width="3.6"/>
<circle cx="1702.0" cy="2215.9" r="7.6" fill="none" stroke="#000" stroke-width="3.6"/>
<circle cx="1702.0" cy="2231.8" r="7.6" fill="none" stroke="#000" stroke-width="3.6"/>
<circle cx="1702.0" cy="2240.3" r="7.6" fill="none" stroke="#000" stroke-width="3.6"/>
<circle cx="1702.0" cy="2248.9" r="7.6" fill="none" stroke="#000" stroke-width="3.6"/>
<circle cx="1702.0" cy="2275.7" r="7.6" fill="none" stroke="#000" stroke-width="3.6"/>
<circle cx="1702.0" cy="2303.0" r="7.6" fill="none" stroke="#000" stroke-width="3.6"/>
<polygon points="1812.8,2184.0 1836.2,2184.0 1824.5,2200.4" fill="none" stroke="#d2050f" stroke-width="3.4" stroke-linejoin="round"/>
<polygon points="1812.8,2203.5 1836.2,2203.5 1824.5,2219.9" fill="none" stroke="#d2050f" stroke-width="3.4" stroke-linejoin="round"/>
<polygon points="1812.8,2217.0 1836.2,2217.0 1824.5,2233.4" fill="none" stroke="#d2050f" stroke-width="3.4" stroke-linejoin="round"/>
<polygon points="1812.8,2228.5 1836.2,2228.5 1824.5,2244.9" fill="none" stroke="#d2050f" stroke-width="3.4" stroke-linejoin="round"/>
<polygon points="1812.8,2241.4 1836.2,2241.4 1824.5,2257.8" fill="none" stroke="#d2050f" stroke-width="3.4" stroke-linejoin="round"/>
<polygon points="1812.8,2256.0 1836.2,2256.0 1824.5,2272.4" fill="none" stroke="#d2050f" stroke-width="3.4" stroke-linejoin="round"/>
<polygon points="1812.8,2268.2 1836.2,2268.2 1824.5,2284.6" fill="none" stroke="#d2050f" stroke-width="3.4" stroke-linejoin="round"/>
<polygon points="1812.8,2276.7 1836.2,2276.7 1824.5,2293.1" fill="none" stroke="#d2050f" stroke-width="3.4" stroke-linejoin="round"/>
<polygon points="1812.8,2285.3 1836.2,2285.3 1824.5,2301.7" fill="none" stroke="#d2050f" stroke-width="3.4" stroke-linejoin="round"/>
<polygon points="1812.8,2302.4 1836.2,2302.4 1824.5,2318.8" fill="none" stroke="#d2050f" stroke-width="3.4" stroke-linejoin="round"/>
<polygon points="1897.8,2162.0 1921.2,2162.0 1909.5,2178.4" fill="none" stroke="#d2050f" stroke-width="3.4" stroke-linejoin="round"/>
<polygon points="1897.8,2170.6 1921.2,2170.6 1909.5,2187.0" fill="none" stroke="#d2050f" stroke-width="3.4" stroke-linejoin="round"/>
<polygon points="1897.8,2180.3 1921.2,2180.3 1909.5,2196.7" fill="none" stroke="#d2050f" stroke-width="3.4" stroke-linejoin="round"/>
<polygon points="1897.8,2192.5 1921.2,2192.5 1909.5,2208.9" fill="none" stroke="#d2050f" stroke-width="3.4" stroke-linejoin="round"/>
<polygon points="1897.8,2202.3 1921.2,2202.3 1909.5,2218.7" fill="none" stroke="#d2050f" stroke-width="3.4" stroke-linejoin="round"/>
<polygon points="1897.8,2209.6 1921.2,2209.6 1909.5,2226.0" fill="none" stroke="#d2050f" stroke-width="3.4" stroke-linejoin="round"/>
<polygon points="1897.8,2235.3 1921.2,2235.3 1909.5,2251.7" fill="none" stroke="#d2050f" stroke-width="3.4" stroke-linejoin="round"/>
<polygon points="1897.8,2265.8 1921.2,2265.8 1909.5,2282.2" fill="none" stroke="#d2050f" stroke-width="3.4" stroke-linejoin="round"/>
<polygon points="1897.8,2285.3 1921.2,2285.3 1909.5,2301.7" fill="none" stroke="#d2050f" stroke-width="3.4" stroke-linejoin="round"/>
<polygon points="1897.8,2310.9 1921.2,2310.9 1909.5,2327.3" fill="none" stroke="#d2050f" stroke-width="3.4" stroke-linejoin="round"/>
<path d="M1612.6,2182.7 V2146.3 H1686.8 V2159.0" stroke="#2b2b2b" stroke-width="1.7" fill="none" />
<path d="M1808.6,2177.0 V2140.5 H1883.2 V2153.0" stroke="#2b2b2b" stroke-width="1.7" fill="none" />
<text x="1642.9" y="2155.9" font-size="40.00" xml:space="preserve">*</text>
<text x="1838.6" y="2150.1" font-size="40.00" xml:space="preserve">*</text>
<rect x="1580.9" y="1998.5" width="66.0" height="25.9" fill="#e6e6e6" stroke="#000" stroke-width="4.2" stroke-linejoin="round"/>
<rect x="1580.9" y="2043.1" width="66.0" height="26.1" fill="#fff" stroke="#000" stroke-width="4.2" stroke-linejoin="round"/>
<text x="1675.5" y="2021.4" font-size="32.17" xml:space="preserve">baseline</text>
<text x="1676.4" y="2067.3" font-size="32.17" xml:space="preserve">30 min after PPLFS</text>
<text x="1425.7" y="2045.4" font-size="59.20" xml:space="preserve">F</text>
<text x="1481.1" y="2121.5" font-size="34.30" xml:space="preserve">2.0</text>
<text x="1481.1" y="2293.5" font-size="34.30" xml:space="preserve">1.0</text>
<text x="1509.7" y="2463.0" font-size="34.30" xml:space="preserve">0</text>
<text transform="translate(1473.0,2331.8) rotate(-90)" font-size="49.79" xml:space="preserve">PPR</text>
</svg>
</body>
</html>
